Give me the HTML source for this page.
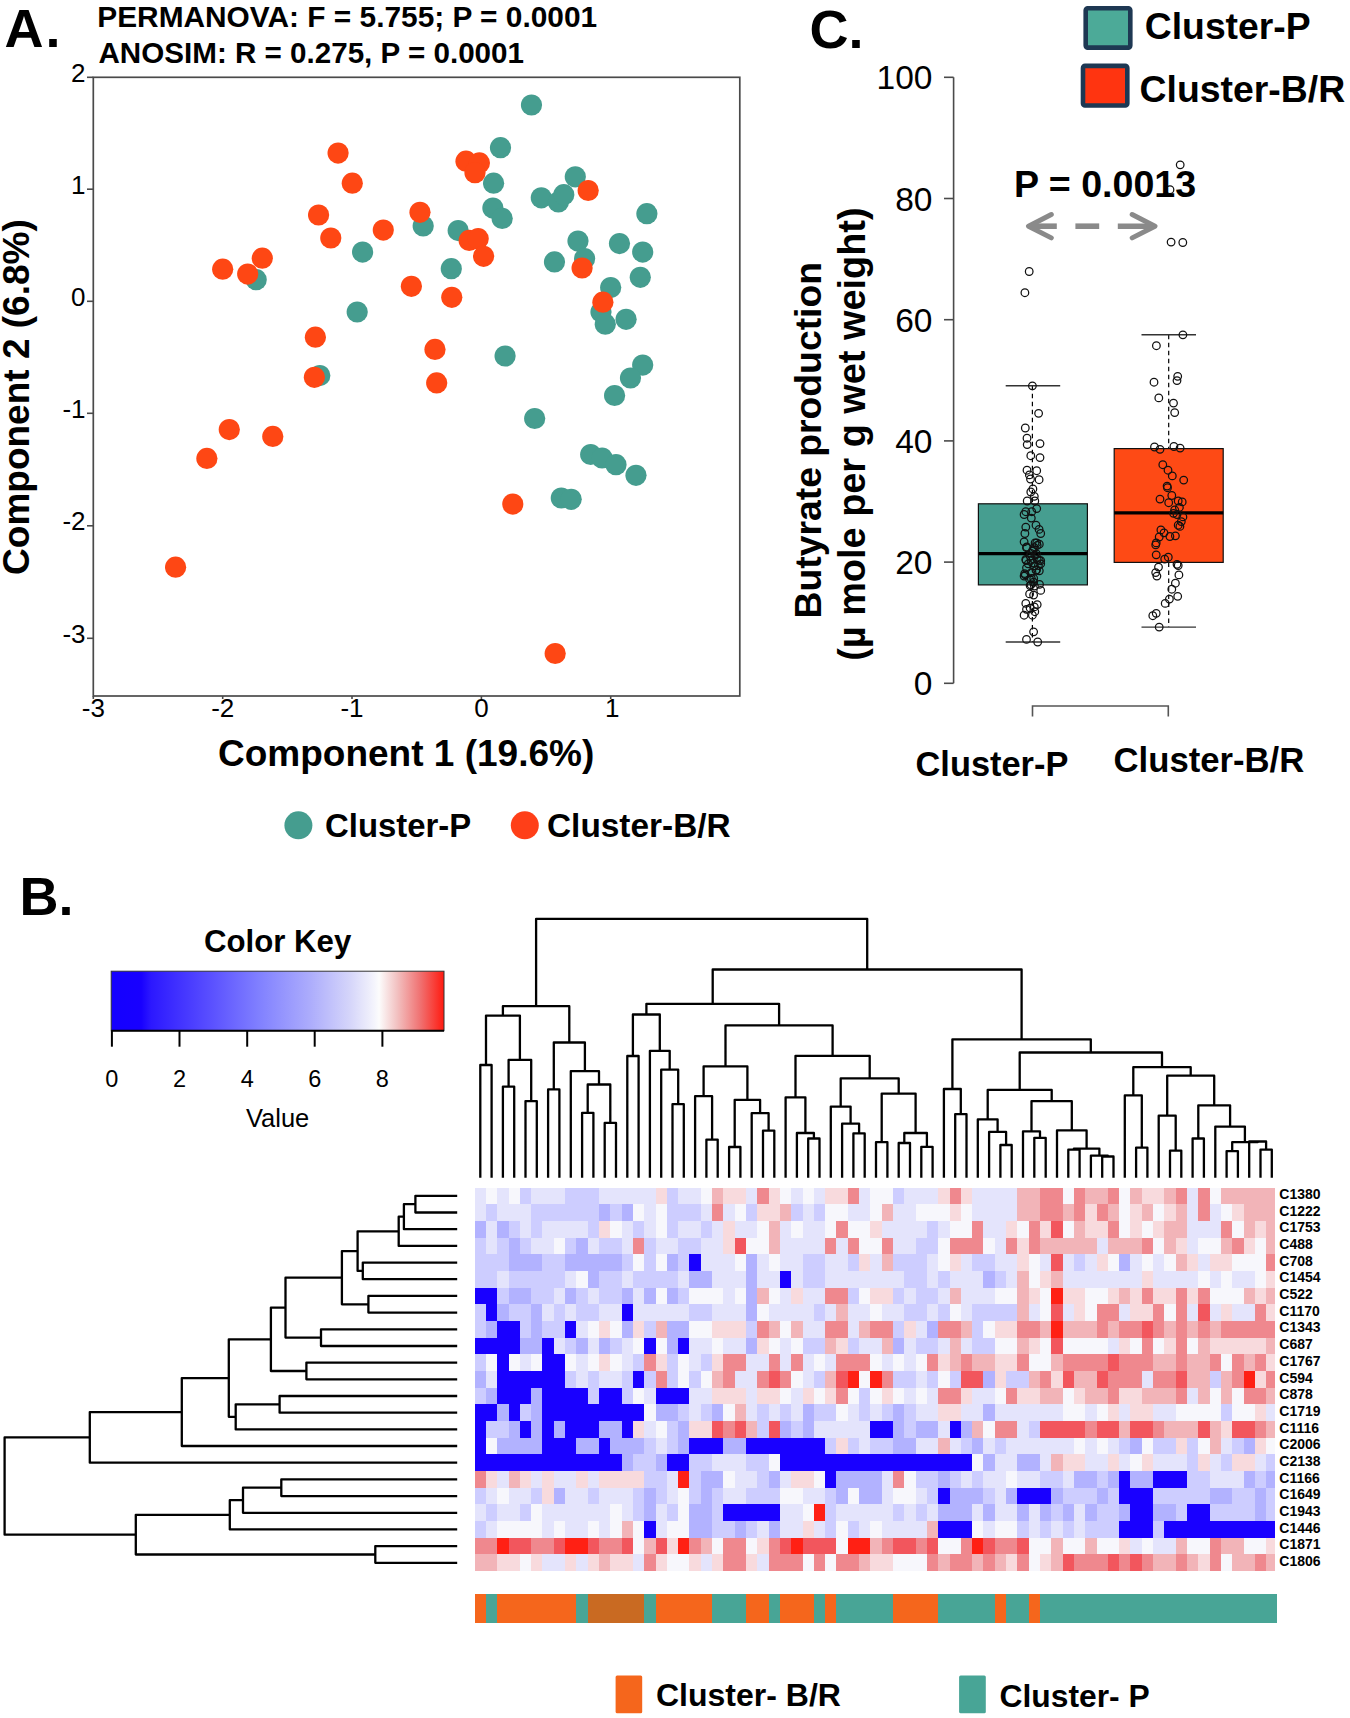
<!DOCTYPE html>
<html><head><meta charset="utf-8"><style>
html,body{margin:0;padding:0;background:#fff;}
svg{display:block;}
text{font-family:"Liberation Sans",sans-serif;}
</style></head><body>
<svg width="1350" height="1718" viewBox="0 0 1350 1718" font-family="Liberation Sans, sans-serif">
<rect width="1350" height="1718" fill="#fff"/>
<rect x="93.3" y="77.3" width="646.5" height="618.7" fill="none" stroke="#4a4a4a" stroke-width="1.7"/>
<line x1="87" y1="77.3" x2="93.3" y2="77.3" stroke="#4a4a4a" stroke-width="1.6"/>
<text x="85.5" y="81.7" font-size="26"  text-anchor="end" fill="#000" >2</text>
<line x1="87" y1="189.2" x2="93.3" y2="189.2" stroke="#4a4a4a" stroke-width="1.6"/>
<text x="85.5" y="193.6" font-size="26"  text-anchor="end" fill="#000" >1</text>
<line x1="87" y1="301.3" x2="93.3" y2="301.3" stroke="#4a4a4a" stroke-width="1.6"/>
<text x="85.5" y="305.7" font-size="26"  text-anchor="end" fill="#000" >0</text>
<line x1="87" y1="413.3" x2="93.3" y2="413.3" stroke="#4a4a4a" stroke-width="1.6"/>
<text x="85.5" y="417.7" font-size="26"  text-anchor="end" fill="#000" >-1</text>
<line x1="87" y1="525.8" x2="93.3" y2="525.8" stroke="#4a4a4a" stroke-width="1.6"/>
<text x="85.5" y="530.2" font-size="26"  text-anchor="end" fill="#000" >-2</text>
<line x1="87" y1="638.3" x2="93.3" y2="638.3" stroke="#4a4a4a" stroke-width="1.6"/>
<text x="85.5" y="642.7" font-size="26"  text-anchor="end" fill="#000" >-3</text>
<line x1="93.3" y1="696.0" x2="93.3" y2="699.0" stroke="#4a4a4a" stroke-width="1.6"/>
<text x="93.3" y="717.3" font-size="26"  text-anchor="middle" fill="#000" >-3</text>
<line x1="222.7" y1="696.0" x2="222.7" y2="699.0" stroke="#4a4a4a" stroke-width="1.6"/>
<text x="222.7" y="717.3" font-size="26"  text-anchor="middle" fill="#000" >-2</text>
<line x1="352.0" y1="696.0" x2="352.0" y2="699.0" stroke="#4a4a4a" stroke-width="1.6"/>
<text x="352.0" y="717.3" font-size="26"  text-anchor="middle" fill="#000" >-1</text>
<line x1="481.4" y1="696.0" x2="481.4" y2="699.0" stroke="#4a4a4a" stroke-width="1.6"/>
<text x="481.4" y="717.3" font-size="26"  text-anchor="middle" fill="#000" >0</text>
<line x1="610.7" y1="696.0" x2="610.7" y2="699.0" stroke="#4a4a4a" stroke-width="1.6"/>
<text x="612.2" y="717.3" font-size="26"  text-anchor="middle" fill="#000" >1</text>
<circle cx="256.2" cy="279.7" r="10.6" fill="#459d8f"/>
<circle cx="362.6" cy="252.1" r="10.6" fill="#459d8f"/>
<circle cx="357.2" cy="312.0" r="10.6" fill="#459d8f"/>
<circle cx="319.8" cy="375.6" r="10.6" fill="#459d8f"/>
<circle cx="423.2" cy="226.0" r="10.6" fill="#459d8f"/>
<circle cx="531.5" cy="105.0" r="10.6" fill="#459d8f"/>
<circle cx="500.5" cy="147.7" r="10.6" fill="#459d8f"/>
<circle cx="493.6" cy="183.2" r="10.6" fill="#459d8f"/>
<circle cx="492.9" cy="208.1" r="10.6" fill="#459d8f"/>
<circle cx="502.2" cy="218.4" r="10.6" fill="#459d8f"/>
<circle cx="541.3" cy="197.8" r="10.6" fill="#459d8f"/>
<circle cx="558.4" cy="202.0" r="10.6" fill="#459d8f"/>
<circle cx="563.8" cy="194.7" r="10.6" fill="#459d8f"/>
<circle cx="575.3" cy="176.8" r="10.6" fill="#459d8f"/>
<circle cx="646.9" cy="213.7" r="10.6" fill="#459d8f"/>
<circle cx="458.2" cy="230.6" r="10.6" fill="#459d8f"/>
<circle cx="451.3" cy="268.7" r="10.6" fill="#459d8f"/>
<circle cx="578.0" cy="241.1" r="10.6" fill="#459d8f"/>
<circle cx="584.6" cy="258.7" r="10.6" fill="#459d8f"/>
<circle cx="554.5" cy="261.9" r="10.6" fill="#459d8f"/>
<circle cx="619.5" cy="243.6" r="10.6" fill="#459d8f"/>
<circle cx="642.7" cy="252.1" r="10.6" fill="#459d8f"/>
<circle cx="640.3" cy="277.3" r="10.6" fill="#459d8f"/>
<circle cx="610.7" cy="287.6" r="10.6" fill="#459d8f"/>
<circle cx="601.0" cy="312.0" r="10.6" fill="#459d8f"/>
<circle cx="605.3" cy="324.2" r="10.6" fill="#459d8f"/>
<circle cx="626.1" cy="319.3" r="10.6" fill="#459d8f"/>
<circle cx="505.1" cy="356.0" r="10.6" fill="#459d8f"/>
<circle cx="642.7" cy="365.1" r="10.6" fill="#459d8f"/>
<circle cx="630.5" cy="378.0" r="10.6" fill="#459d8f"/>
<circle cx="614.6" cy="395.5" r="10.6" fill="#459d8f"/>
<circle cx="534.7" cy="418.5" r="10.6" fill="#459d8f"/>
<circle cx="590.7" cy="454.5" r="10.6" fill="#459d8f"/>
<circle cx="602.1" cy="458.0" r="10.6" fill="#459d8f"/>
<circle cx="616.0" cy="464.7" r="10.6" fill="#459d8f"/>
<circle cx="636.0" cy="475.3" r="10.6" fill="#459d8f"/>
<circle cx="561.3" cy="498.0" r="10.6" fill="#459d8f"/>
<circle cx="571.2" cy="499.3" r="10.6" fill="#459d8f"/>
<circle cx="338.1" cy="153.1" r="10.6" fill="#fe4714"/>
<circle cx="352.3" cy="183.2" r="10.6" fill="#fe4714"/>
<circle cx="318.6" cy="215.0" r="10.6" fill="#fe4714"/>
<circle cx="330.8" cy="238.0" r="10.6" fill="#fe4714"/>
<circle cx="383.3" cy="230.1" r="10.6" fill="#fe4714"/>
<circle cx="262.3" cy="258.2" r="10.6" fill="#fe4714"/>
<circle cx="222.7" cy="269.2" r="10.6" fill="#fe4714"/>
<circle cx="247.7" cy="274.1" r="10.6" fill="#fe4714"/>
<circle cx="315.4" cy="337.2" r="10.6" fill="#fe4714"/>
<circle cx="314.4" cy="377.3" r="10.6" fill="#fe4714"/>
<circle cx="411.4" cy="286.3" r="10.6" fill="#fe4714"/>
<circle cx="420.0" cy="212.3" r="10.6" fill="#fe4714"/>
<circle cx="466.0" cy="161.2" r="10.6" fill="#fe4714"/>
<circle cx="479.4" cy="162.9" r="10.6" fill="#fe4714"/>
<circle cx="475.0" cy="172.7" r="10.6" fill="#fe4714"/>
<circle cx="588.2" cy="190.5" r="10.6" fill="#fe4714"/>
<circle cx="469.2" cy="240.4" r="10.6" fill="#fe4714"/>
<circle cx="478.2" cy="238.7" r="10.6" fill="#fe4714"/>
<circle cx="483.6" cy="256.3" r="10.6" fill="#fe4714"/>
<circle cx="451.8" cy="297.3" r="10.6" fill="#fe4714"/>
<circle cx="582.1" cy="268.0" r="10.6" fill="#fe4714"/>
<circle cx="602.9" cy="302.2" r="10.6" fill="#fe4714"/>
<circle cx="435.0" cy="349.4" r="10.6" fill="#fe4714"/>
<circle cx="436.7" cy="382.9" r="10.6" fill="#fe4714"/>
<circle cx="229.3" cy="429.6" r="10.6" fill="#fe4714"/>
<circle cx="272.8" cy="436.4" r="10.6" fill="#fe4714"/>
<circle cx="206.9" cy="458.4" r="10.6" fill="#fe4714"/>
<circle cx="175.6" cy="567.2" r="10.6" fill="#fe4714"/>
<circle cx="512.8" cy="504.1" r="10.6" fill="#fe4714"/>
<circle cx="555.2" cy="653.5" r="10.6" fill="#fe4714"/>
<text x="4.6" y="47.3" font-size="54" font-weight="bold" text-anchor="start" fill="#000" letter-spacing="2">A.</text>
<text x="97.3" y="26.9" font-size="29.85" font-weight="bold" text-anchor="start" fill="#000" >PERMANOVA: F = 5.755; P = 0.0001</text>
<text x="98.5" y="62.6" font-size="29.6" font-weight="bold" text-anchor="start" fill="#000" >ANOSIM: R = 0.275, P = 0.0001</text>
<text x="218.0" y="765.6" font-size="37" font-weight="bold" text-anchor="start" fill="#000" >Component 1 (19.6%)</text>
<text transform="translate(29.2,397.1) rotate(-90)" font-size="37" font-weight="bold" text-anchor="middle">Component 2 (6.8%)</text>
<circle cx="298.4" cy="825.3" r="14" fill="#459d8f"/>
<text x="325.0" y="836.5" font-size="32.9" font-weight="bold" text-anchor="start" fill="#000" >Cluster-P</text>
<circle cx="524.8" cy="825.3" r="14" fill="#ff3f18"/>
<text x="547.0" y="836.5" font-size="33.4" font-weight="bold" text-anchor="start" fill="#000" >Cluster-B/R</text>
<text x="809.5" y="47.6" font-size="54" font-weight="bold" text-anchor="start" fill="#000" >C.</text>
<rect x="1085.7" y="8.3" width="44.6" height="39.3" rx="2" fill="#4caa98" stroke="#1e3853" stroke-width="4.6"/>
<rect x="1083.0" y="65.9" width="44.3" height="39.6" rx="2" fill="#ff3410" stroke="#1e3853" stroke-width="4.6"/>
<text x="1144.8" y="38.5" font-size="37.3" font-weight="bold" text-anchor="start" fill="#000" >Cluster-P</text>
<text x="1139.5" y="101.5" font-size="37.4" font-weight="bold" text-anchor="start" fill="#000" >Cluster-B/R</text>
<line x1="953.6" y1="77.29999999999995" x2="953.6" y2="683.3" stroke="#4a4a4a" stroke-width="1.6"/>
<line x1="944" y1="683.3" x2="953.6" y2="683.3" stroke="#4a4a4a" stroke-width="1.6"/>
<text x="932.5" y="695.3" font-size="33.5"  text-anchor="end" fill="#000" >0</text>
<line x1="944" y1="562.1" x2="953.6" y2="562.1" stroke="#4a4a4a" stroke-width="1.6"/>
<text x="932.5" y="574.1" font-size="33.5"  text-anchor="end" fill="#000" >20</text>
<line x1="944" y1="440.9" x2="953.6" y2="440.9" stroke="#4a4a4a" stroke-width="1.6"/>
<text x="932.5" y="452.9" font-size="33.5"  text-anchor="end" fill="#000" >40</text>
<line x1="944" y1="319.7" x2="953.6" y2="319.7" stroke="#4a4a4a" stroke-width="1.6"/>
<text x="932.5" y="331.7" font-size="33.5"  text-anchor="end" fill="#000" >60</text>
<line x1="944" y1="198.5" x2="953.6" y2="198.5" stroke="#4a4a4a" stroke-width="1.6"/>
<text x="932.5" y="210.5" font-size="33.5"  text-anchor="end" fill="#000" >80</text>
<line x1="944" y1="77.3" x2="953.6" y2="77.3" stroke="#4a4a4a" stroke-width="1.6"/>
<text x="932.5" y="89.3" font-size="33.5"  text-anchor="end" fill="#000" >100</text>
<text transform="translate(820.5,440.2) rotate(-90)" font-size="37.3" font-weight="bold" text-anchor="middle">Butyrate production</text>
<text transform="translate(865.2,434.1) rotate(-90)" font-size="37.9" font-weight="bold" text-anchor="middle">(µ mole per g wet weight)</text>
<line x1="1032.4" y1="385.8" x2="1032.4" y2="503.8" stroke="#000" stroke-width="1.2" stroke-dasharray="4.5,3.5"/>
<line x1="1032.4" y1="584.9" x2="1032.4" y2="642.0" stroke="#000" stroke-width="1.2" stroke-dasharray="4.5,3.5"/>
<line x1="1005.7" y1="385.8" x2="1060.2" y2="385.8" stroke="#333" stroke-width="1.4"/>
<line x1="1005.7" y1="642.0" x2="1060.2" y2="642.0" stroke="#333" stroke-width="1.4"/>
<rect x="978.4" y="503.8" width="109.0" height="81.1" fill="#469e90" stroke="#111" stroke-width="1.2"/>
<line x1="978.4" y1="553.6" x2="1087.4" y2="553.6" stroke="#000" stroke-width="3.2"/>
<line x1="1168.7" y1="334.8" x2="1168.7" y2="448.6" stroke="#000" stroke-width="1.2" stroke-dasharray="4.5,3.5"/>
<line x1="1168.7" y1="562.4" x2="1168.7" y2="627.1" stroke="#000" stroke-width="1.2" stroke-dasharray="4.5,3.5"/>
<line x1="1141.5" y1="334.8" x2="1196.0" y2="334.8" stroke="#333" stroke-width="1.4"/>
<line x1="1141.5" y1="627.1" x2="1196.0" y2="627.1" stroke="#333" stroke-width="1.4"/>
<rect x="1114.2" y="448.6" width="109.0" height="113.8" fill="#fe4a15" stroke="#111" stroke-width="1.2"/>
<line x1="1114.2" y1="512.8" x2="1223.2" y2="512.8" stroke="#000" stroke-width="3.2"/>
<circle cx="1032.4" cy="385.8" r="3.8" fill="none" stroke="#111" stroke-width="1.25"/>
<circle cx="1038.6" cy="413.3" r="3.8" fill="none" stroke="#111" stroke-width="1.25"/>
<circle cx="1025.3" cy="428.0" r="3.8" fill="none" stroke="#111" stroke-width="1.25"/>
<circle cx="1027.0" cy="438.2" r="3.8" fill="none" stroke="#111" stroke-width="1.25"/>
<circle cx="1027.2" cy="444.6" r="3.8" fill="none" stroke="#111" stroke-width="1.25"/>
<circle cx="1040.0" cy="443.6" r="3.8" fill="none" stroke="#111" stroke-width="1.25"/>
<circle cx="1030.8" cy="455.7" r="3.8" fill="none" stroke="#111" stroke-width="1.25"/>
<circle cx="1040.0" cy="457.6" r="3.8" fill="none" stroke="#111" stroke-width="1.25"/>
<circle cx="1027.0" cy="470.2" r="3.8" fill="none" stroke="#111" stroke-width="1.25"/>
<circle cx="1036.7" cy="470.7" r="3.8" fill="none" stroke="#111" stroke-width="1.25"/>
<circle cx="1029.4" cy="474.9" r="3.8" fill="none" stroke="#111" stroke-width="1.25"/>
<circle cx="1030.5" cy="479.0" r="3.8" fill="none" stroke="#111" stroke-width="1.25"/>
<circle cx="1039.1" cy="479.7" r="3.8" fill="none" stroke="#111" stroke-width="1.25"/>
<circle cx="1032.9" cy="488.9" r="3.8" fill="none" stroke="#111" stroke-width="1.25"/>
<circle cx="1030.8" cy="492.0" r="3.8" fill="none" stroke="#111" stroke-width="1.25"/>
<circle cx="1034.3" cy="496.3" r="3.8" fill="none" stroke="#111" stroke-width="1.25"/>
<circle cx="1027.2" cy="501.0" r="3.8" fill="none" stroke="#111" stroke-width="1.25"/>
<circle cx="1034.8" cy="501.0" r="3.8" fill="none" stroke="#111" stroke-width="1.25"/>
<circle cx="1036.7" cy="508.6" r="3.8" fill="none" stroke="#111" stroke-width="1.25"/>
<circle cx="1025.8" cy="511.7" r="3.8" fill="none" stroke="#111" stroke-width="1.25"/>
<circle cx="1024.1" cy="514.5" r="3.8" fill="none" stroke="#111" stroke-width="1.25"/>
<circle cx="1031.7" cy="511.7" r="3.8" fill="none" stroke="#111" stroke-width="1.25"/>
<circle cx="1031.3" cy="518.1" r="3.8" fill="none" stroke="#111" stroke-width="1.25"/>
<circle cx="1036.0" cy="525.2" r="3.8" fill="none" stroke="#111" stroke-width="1.25"/>
<circle cx="1039.1" cy="529.4" r="3.8" fill="none" stroke="#111" stroke-width="1.25"/>
<circle cx="1040.7" cy="533.5" r="3.8" fill="none" stroke="#111" stroke-width="1.25"/>
<circle cx="1025.8" cy="527.1" r="3.8" fill="none" stroke="#111" stroke-width="1.25"/>
<circle cx="1024.9" cy="533.5" r="3.8" fill="none" stroke="#111" stroke-width="1.25"/>
<circle cx="1024.1" cy="541.8" r="3.8" fill="none" stroke="#111" stroke-width="1.25"/>
<circle cx="1036.7" cy="542.9" r="3.8" fill="none" stroke="#111" stroke-width="1.25"/>
<circle cx="1037.2" cy="545.3" r="3.8" fill="none" stroke="#111" stroke-width="1.25"/>
<circle cx="1026.5" cy="547.7" r="3.8" fill="none" stroke="#111" stroke-width="1.25"/>
<circle cx="1034.3" cy="547.7" r="3.8" fill="none" stroke="#111" stroke-width="1.25"/>
<circle cx="1032.4" cy="551.2" r="3.8" fill="none" stroke="#111" stroke-width="1.25"/>
<circle cx="1034.8" cy="554.8" r="3.8" fill="none" stroke="#111" stroke-width="1.25"/>
<circle cx="1030.1" cy="556.0" r="3.8" fill="none" stroke="#111" stroke-width="1.25"/>
<circle cx="1025.8" cy="559.5" r="3.8" fill="none" stroke="#111" stroke-width="1.25"/>
<circle cx="1037.2" cy="559.5" r="3.8" fill="none" stroke="#111" stroke-width="1.25"/>
<circle cx="1040.7" cy="560.7" r="3.8" fill="none" stroke="#111" stroke-width="1.25"/>
<circle cx="1033.6" cy="563.1" r="3.8" fill="none" stroke="#111" stroke-width="1.25"/>
<circle cx="1038.4" cy="565.5" r="3.8" fill="none" stroke="#111" stroke-width="1.25"/>
<circle cx="1026.5" cy="567.8" r="3.8" fill="none" stroke="#111" stroke-width="1.25"/>
<circle cx="1036.0" cy="570.2" r="3.8" fill="none" stroke="#111" stroke-width="1.25"/>
<circle cx="1025.3" cy="574.9" r="3.8" fill="none" stroke="#111" stroke-width="1.25"/>
<circle cx="1024.1" cy="576.1" r="3.8" fill="none" stroke="#111" stroke-width="1.25"/>
<circle cx="1031.3" cy="578.5" r="3.8" fill="none" stroke="#111" stroke-width="1.25"/>
<circle cx="1033.6" cy="582.1" r="3.8" fill="none" stroke="#111" stroke-width="1.25"/>
<circle cx="1030.1" cy="585.6" r="3.8" fill="none" stroke="#111" stroke-width="1.25"/>
<circle cx="1039.5" cy="584.4" r="3.8" fill="none" stroke="#111" stroke-width="1.25"/>
<circle cx="1040.7" cy="590.4" r="3.8" fill="none" stroke="#111" stroke-width="1.25"/>
<circle cx="1029.6" cy="593.9" r="3.8" fill="none" stroke="#111" stroke-width="1.25"/>
<circle cx="1033.6" cy="595.1" r="3.8" fill="none" stroke="#111" stroke-width="1.25"/>
<circle cx="1025.8" cy="603.4" r="3.8" fill="none" stroke="#111" stroke-width="1.25"/>
<circle cx="1037.2" cy="604.6" r="3.8" fill="none" stroke="#111" stroke-width="1.25"/>
<circle cx="1034.3" cy="606.9" r="3.8" fill="none" stroke="#111" stroke-width="1.25"/>
<circle cx="1030.1" cy="608.1" r="3.8" fill="none" stroke="#111" stroke-width="1.25"/>
<circle cx="1026.5" cy="609.3" r="3.8" fill="none" stroke="#111" stroke-width="1.25"/>
<circle cx="1034.8" cy="611.7" r="3.8" fill="none" stroke="#111" stroke-width="1.25"/>
<circle cx="1024.1" cy="615.2" r="3.8" fill="none" stroke="#111" stroke-width="1.25"/>
<circle cx="1032.4" cy="615.2" r="3.8" fill="none" stroke="#111" stroke-width="1.25"/>
<circle cx="1033.6" cy="631.8" r="3.8" fill="none" stroke="#111" stroke-width="1.25"/>
<circle cx="1026.5" cy="639.4" r="3.8" fill="none" stroke="#111" stroke-width="1.25"/>
<circle cx="1037.7" cy="642.0" r="3.8" fill="none" stroke="#111" stroke-width="1.25"/>
<circle cx="1182.9" cy="334.8" r="3.8" fill="none" stroke="#111" stroke-width="1.25"/>
<circle cx="1156.4" cy="345.7" r="3.8" fill="none" stroke="#111" stroke-width="1.25"/>
<circle cx="1177.7" cy="376.3" r="3.8" fill="none" stroke="#111" stroke-width="1.25"/>
<circle cx="1177.0" cy="380.6" r="3.8" fill="none" stroke="#111" stroke-width="1.25"/>
<circle cx="1154.0" cy="382.2" r="3.8" fill="none" stroke="#111" stroke-width="1.25"/>
<circle cx="1158.8" cy="397.9" r="3.8" fill="none" stroke="#111" stroke-width="1.25"/>
<circle cx="1173.5" cy="403.1" r="3.8" fill="none" stroke="#111" stroke-width="1.25"/>
<circle cx="1174.7" cy="412.6" r="3.8" fill="none" stroke="#111" stroke-width="1.25"/>
<circle cx="1154.5" cy="447.0" r="3.8" fill="none" stroke="#111" stroke-width="1.25"/>
<circle cx="1160.0" cy="449.3" r="3.8" fill="none" stroke="#111" stroke-width="1.25"/>
<circle cx="1173.9" cy="446.5" r="3.8" fill="none" stroke="#111" stroke-width="1.25"/>
<circle cx="1180.1" cy="448.1" r="3.8" fill="none" stroke="#111" stroke-width="1.25"/>
<circle cx="1162.8" cy="464.7" r="3.8" fill="none" stroke="#111" stroke-width="1.25"/>
<circle cx="1168.0" cy="470.2" r="3.8" fill="none" stroke="#111" stroke-width="1.25"/>
<circle cx="1172.3" cy="475.9" r="3.8" fill="none" stroke="#111" stroke-width="1.25"/>
<circle cx="1183.7" cy="480.1" r="3.8" fill="none" stroke="#111" stroke-width="1.25"/>
<circle cx="1167.1" cy="486.1" r="3.8" fill="none" stroke="#111" stroke-width="1.25"/>
<circle cx="1167.5" cy="487.7" r="3.8" fill="none" stroke="#111" stroke-width="1.25"/>
<circle cx="1171.8" cy="495.5" r="3.8" fill="none" stroke="#111" stroke-width="1.25"/>
<circle cx="1160.0" cy="499.1" r="3.8" fill="none" stroke="#111" stroke-width="1.25"/>
<circle cx="1168.7" cy="502.7" r="3.8" fill="none" stroke="#111" stroke-width="1.25"/>
<circle cx="1178.2" cy="501.0" r="3.8" fill="none" stroke="#111" stroke-width="1.25"/>
<circle cx="1182.2" cy="501.9" r="3.8" fill="none" stroke="#111" stroke-width="1.25"/>
<circle cx="1179.4" cy="507.4" r="3.8" fill="none" stroke="#111" stroke-width="1.25"/>
<circle cx="1174.7" cy="509.8" r="3.8" fill="none" stroke="#111" stroke-width="1.25"/>
<circle cx="1173.5" cy="513.3" r="3.8" fill="none" stroke="#111" stroke-width="1.25"/>
<circle cx="1177.0" cy="514.5" r="3.8" fill="none" stroke="#111" stroke-width="1.25"/>
<circle cx="1182.9" cy="516.9" r="3.8" fill="none" stroke="#111" stroke-width="1.25"/>
<circle cx="1181.3" cy="521.6" r="3.8" fill="none" stroke="#111" stroke-width="1.25"/>
<circle cx="1178.2" cy="525.2" r="3.8" fill="none" stroke="#111" stroke-width="1.25"/>
<circle cx="1179.9" cy="526.4" r="3.8" fill="none" stroke="#111" stroke-width="1.25"/>
<circle cx="1160.9" cy="529.9" r="3.8" fill="none" stroke="#111" stroke-width="1.25"/>
<circle cx="1164.0" cy="532.8" r="3.8" fill="none" stroke="#111" stroke-width="1.25"/>
<circle cx="1169.9" cy="536.5" r="3.8" fill="none" stroke="#111" stroke-width="1.25"/>
<circle cx="1175.4" cy="535.8" r="3.8" fill="none" stroke="#111" stroke-width="1.25"/>
<circle cx="1159.2" cy="537.0" r="3.8" fill="none" stroke="#111" stroke-width="1.25"/>
<circle cx="1156.2" cy="542.9" r="3.8" fill="none" stroke="#111" stroke-width="1.25"/>
<circle cx="1155.7" cy="544.8" r="3.8" fill="none" stroke="#111" stroke-width="1.25"/>
<circle cx="1156.2" cy="554.8" r="3.8" fill="none" stroke="#111" stroke-width="1.25"/>
<circle cx="1164.7" cy="559.1" r="3.8" fill="none" stroke="#111" stroke-width="1.25"/>
<circle cx="1168.3" cy="557.2" r="3.8" fill="none" stroke="#111" stroke-width="1.25"/>
<circle cx="1177.0" cy="564.3" r="3.8" fill="none" stroke="#111" stroke-width="1.25"/>
<circle cx="1178.2" cy="565.5" r="3.8" fill="none" stroke="#111" stroke-width="1.25"/>
<circle cx="1158.5" cy="567.1" r="3.8" fill="none" stroke="#111" stroke-width="1.25"/>
<circle cx="1155.7" cy="572.6" r="3.8" fill="none" stroke="#111" stroke-width="1.25"/>
<circle cx="1156.9" cy="576.1" r="3.8" fill="none" stroke="#111" stroke-width="1.25"/>
<circle cx="1178.9" cy="574.9" r="3.8" fill="none" stroke="#111" stroke-width="1.25"/>
<circle cx="1175.4" cy="583.2" r="3.8" fill="none" stroke="#111" stroke-width="1.25"/>
<circle cx="1171.8" cy="589.2" r="3.8" fill="none" stroke="#111" stroke-width="1.25"/>
<circle cx="1177.7" cy="596.3" r="3.8" fill="none" stroke="#111" stroke-width="1.25"/>
<circle cx="1169.4" cy="599.1" r="3.8" fill="none" stroke="#111" stroke-width="1.25"/>
<circle cx="1165.2" cy="603.4" r="3.8" fill="none" stroke="#111" stroke-width="1.25"/>
<circle cx="1156.2" cy="613.3" r="3.8" fill="none" stroke="#111" stroke-width="1.25"/>
<circle cx="1152.8" cy="615.7" r="3.8" fill="none" stroke="#111" stroke-width="1.25"/>
<circle cx="1159.2" cy="627.1" r="3.8" fill="none" stroke="#111" stroke-width="1.25"/>
<circle cx="1026.1" cy="560.3" r="3.8" fill="none" stroke="#111" stroke-width="1.25"/>
<circle cx="1031.0" cy="560.3" r="3.8" fill="none" stroke="#111" stroke-width="1.25"/>
<circle cx="1039.3" cy="560.3" r="3.8" fill="none" stroke="#111" stroke-width="1.25"/>
<circle cx="1040.7" cy="563.8" r="3.8" fill="none" stroke="#111" stroke-width="1.25"/>
<circle cx="1034.4" cy="565.9" r="3.8" fill="none" stroke="#111" stroke-width="1.25"/>
<circle cx="1028.2" cy="563.8" r="3.8" fill="none" stroke="#111" stroke-width="1.25"/>
<circle cx="1024.7" cy="573.6" r="3.8" fill="none" stroke="#111" stroke-width="1.25"/>
<circle cx="1031.0" cy="572.9" r="3.8" fill="none" stroke="#111" stroke-width="1.25"/>
<circle cx="1036.5" cy="570.1" r="3.8" fill="none" stroke="#111" stroke-width="1.25"/>
<circle cx="1039.3" cy="570.8" r="3.8" fill="none" stroke="#111" stroke-width="1.25"/>
<circle cx="1029.6" cy="579.2" r="3.8" fill="none" stroke="#111" stroke-width="1.25"/>
<circle cx="1033.7" cy="578.5" r="3.8" fill="none" stroke="#111" stroke-width="1.25"/>
<circle cx="1031.0" cy="584.7" r="3.8" fill="none" stroke="#111" stroke-width="1.25"/>
<circle cx="1034.4" cy="586.1" r="3.8" fill="none" stroke="#111" stroke-width="1.25"/>
<circle cx="1026.8" cy="547.0" r="3.8" fill="none" stroke="#111" stroke-width="1.25"/>
<circle cx="1035.1" cy="542.8" r="3.8" fill="none" stroke="#111" stroke-width="1.25"/>
<circle cx="1039.3" cy="544.2" r="3.8" fill="none" stroke="#111" stroke-width="1.25"/>
<circle cx="1033.0" cy="549.8" r="3.8" fill="none" stroke="#111" stroke-width="1.25"/>
<circle cx="1031.0" cy="553.3" r="3.8" fill="none" stroke="#111" stroke-width="1.25"/>
<circle cx="1036.5" cy="554.0" r="3.8" fill="none" stroke="#111" stroke-width="1.25"/>
<circle cx="1029.2" cy="271.5" r="3.8" fill="none" stroke="#111" stroke-width="1.25"/>
<circle cx="1024.9" cy="292.7" r="3.8" fill="none" stroke="#111" stroke-width="1.25"/>
<circle cx="1180.2" cy="164.8" r="3.8" fill="none" stroke="#111" stroke-width="1.25"/>
<circle cx="1170.0" cy="189.7" r="3.8" fill="none" stroke="#111" stroke-width="1.25"/>
<circle cx="1171.1" cy="242.1" r="3.8" fill="none" stroke="#111" stroke-width="1.25"/>
<circle cx="1182.8" cy="242.5" r="3.8" fill="none" stroke="#111" stroke-width="1.25"/>
<text x="1014.0" y="196.7" font-size="37.6" font-weight="bold" text-anchor="start" fill="#000" >P = 0.0013</text>
<path d="M1051.3,214.5 L1028.5,226.2 L1051.3,237.9" fill="none" stroke="#8a8a8a" stroke-width="5" stroke-linecap="round" stroke-linejoin="round"/>
<path d="M1132.2,214.5 L1155,226.2 L1132.2,237.9" fill="none" stroke="#8a8a8a" stroke-width="5" stroke-linecap="round" stroke-linejoin="round"/>
<line x1="1030" y1="226.2" x2="1056.8" y2="226.2" stroke="#8a8a8a" stroke-width="5.6"/>
<line x1="1075.4" y1="226.2" x2="1099.2" y2="226.2" stroke="#8a8a8a" stroke-width="5.6"/>
<line x1="1117.8" y1="226.2" x2="1150" y2="226.2" stroke="#8a8a8a" stroke-width="5.6"/>
<path d="M1032.5,716.4 L1032.5,706 L1168.3,706 L1168.3,716.4" fill="none" stroke="#555" stroke-width="1.6"/>
<text x="915.5" y="775.6" font-size="34.4" font-weight="bold" text-anchor="start" fill="#000" >Cluster-P</text>
<text x="1113.5" y="772.1" font-size="34.7" font-weight="bold" text-anchor="start" fill="#000" >Cluster-B/R</text>
<text x="19.4" y="914.8" font-size="54" font-weight="bold" text-anchor="start" fill="#000" >B.</text>
<text x="204.0" y="951.7" font-size="31.2" font-weight="bold" text-anchor="start" fill="#000" >Color Key</text>
<defs><linearGradient id="ck" x1="0" x2="1" y1="0" y2="0"><stop offset="0" stop-color="#1400ff"/><stop offset="0.09" stop-color="#1800ff"/><stop offset="0.12" stop-color="#2c18ff"/><stop offset="0.30" stop-color="#5a50ff"/><stop offset="0.45" stop-color="#8282ff"/><stop offset="0.60" stop-color="#adadfc"/><stop offset="0.72" stop-color="#d6d6fa"/><stop offset="0.79" stop-color="#f4f4fc"/><stop offset="0.805" stop-color="#fcfcfc"/><stop offset="0.86" stop-color="#f2c0c0"/><stop offset="0.93" stop-color="#f07070"/><stop offset="1" stop-color="#ff1a10"/></linearGradient></defs>
<rect x="111.2" y="971.2" width="332.8" height="59.5" fill="url(#ck)" stroke="#333" stroke-width="1"/>
<line x1="111.2" y1="1030.7" x2="444" y2="1030.7" stroke="#000" stroke-width="2"/>
<line x1="111.9" y1="1030.7" x2="111.9" y2="1046.7" stroke="#000" stroke-width="2"/>
<text x="111.9" y="1086.5" font-size="23.5"  text-anchor="middle" fill="#000" >0</text>
<line x1="179.5" y1="1030.7" x2="179.5" y2="1046.7" stroke="#000" stroke-width="2"/>
<text x="179.5" y="1086.5" font-size="23.5"  text-anchor="middle" fill="#000" >2</text>
<line x1="247.2" y1="1030.7" x2="247.2" y2="1046.7" stroke="#000" stroke-width="2"/>
<text x="247.2" y="1086.5" font-size="23.5"  text-anchor="middle" fill="#000" >4</text>
<line x1="314.7" y1="1030.7" x2="314.7" y2="1046.7" stroke="#000" stroke-width="2"/>
<text x="314.7" y="1086.5" font-size="23.5"  text-anchor="middle" fill="#000" >6</text>
<line x1="382.4" y1="1030.7" x2="382.4" y2="1046.7" stroke="#000" stroke-width="2"/>
<text x="382.4" y="1086.5" font-size="23.5"  text-anchor="middle" fill="#000" >8</text>
<text x="277.6" y="1127.4" font-size="25.5"  text-anchor="middle" fill="#000" >Value</text>
<g shape-rendering="crispEdges">
<rect x="474.65" y="1187.50" width="11.66" height="17.03" fill="#e4e4fc"/>
<rect x="485.96" y="1187.50" width="11.66" height="17.03" fill="#f7f7fc"/>
<rect x="497.26" y="1187.50" width="11.66" height="17.03" fill="#e4e4fc"/>
<rect x="508.57" y="1187.50" width="11.66" height="17.03" fill="#f7f7fc"/>
<rect x="519.88" y="1187.50" width="11.66" height="17.03" fill="#cdcdff"/>
<rect x="531.18" y="1187.50" width="11.66" height="17.03" fill="#e4e4fc"/>
<rect x="542.49" y="1187.50" width="11.66" height="17.03" fill="#e4e4fc"/>
<rect x="553.80" y="1187.50" width="11.66" height="17.03" fill="#e4e4fc"/>
<rect x="565.11" y="1187.50" width="11.66" height="17.03" fill="#cdcdff"/>
<rect x="576.41" y="1187.50" width="11.66" height="17.03" fill="#cdcdff"/>
<rect x="587.72" y="1187.50" width="11.66" height="17.03" fill="#cdcdff"/>
<rect x="599.03" y="1187.50" width="11.66" height="17.03" fill="#e4e4fc"/>
<rect x="610.33" y="1187.50" width="11.66" height="17.03" fill="#e4e4fc"/>
<rect x="621.64" y="1187.50" width="11.66" height="17.03" fill="#e4e4fc"/>
<rect x="632.95" y="1187.50" width="11.66" height="17.03" fill="#e4e4fc"/>
<rect x="644.25" y="1187.50" width="11.66" height="17.03" fill="#e4e4fc"/>
<rect x="655.56" y="1187.50" width="11.66" height="17.03" fill="#f8dadd"/>
<rect x="666.87" y="1187.50" width="11.66" height="17.03" fill="#cdcdff"/>
<rect x="678.18" y="1187.50" width="11.66" height="17.03" fill="#e4e4fc"/>
<rect x="689.48" y="1187.50" width="11.66" height="17.03" fill="#e4e4fc"/>
<rect x="700.79" y="1187.50" width="11.66" height="17.03" fill="#f7f7fc"/>
<rect x="712.10" y="1187.50" width="11.66" height="17.03" fill="#f2b4b8"/>
<rect x="723.40" y="1187.50" width="11.66" height="17.03" fill="#f8dadd"/>
<rect x="734.71" y="1187.50" width="11.66" height="17.03" fill="#f8dadd"/>
<rect x="746.02" y="1187.50" width="11.66" height="17.03" fill="#e4e4fc"/>
<rect x="757.33" y="1187.50" width="11.66" height="17.03" fill="#ef888e"/>
<rect x="768.63" y="1187.50" width="11.66" height="17.03" fill="#f8dadd"/>
<rect x="779.94" y="1187.50" width="11.66" height="17.03" fill="#f7f7fc"/>
<rect x="791.25" y="1187.50" width="11.66" height="17.03" fill="#e4e4fc"/>
<rect x="802.55" y="1187.50" width="11.66" height="17.03" fill="#f7f7fc"/>
<rect x="813.86" y="1187.50" width="11.66" height="17.03" fill="#e4e4fc"/>
<rect x="825.17" y="1187.50" width="11.66" height="17.03" fill="#f8dadd"/>
<rect x="836.47" y="1187.50" width="11.66" height="17.03" fill="#f8dadd"/>
<rect x="847.78" y="1187.50" width="11.66" height="17.03" fill="#ef888e"/>
<rect x="859.09" y="1187.50" width="11.66" height="17.03" fill="#e4e4fc"/>
<rect x="870.39" y="1187.50" width="11.66" height="17.03" fill="#f7f7fc"/>
<rect x="881.70" y="1187.50" width="11.66" height="17.03" fill="#f7f7fc"/>
<rect x="893.01" y="1187.50" width="11.66" height="17.03" fill="#cdcdff"/>
<rect x="904.32" y="1187.50" width="11.66" height="17.03" fill="#e4e4fc"/>
<rect x="915.62" y="1187.50" width="11.66" height="17.03" fill="#e4e4fc"/>
<rect x="926.93" y="1187.50" width="11.66" height="17.03" fill="#e4e4fc"/>
<rect x="938.24" y="1187.50" width="11.66" height="17.03" fill="#f8dadd"/>
<rect x="949.54" y="1187.50" width="11.66" height="17.03" fill="#ef888e"/>
<rect x="960.85" y="1187.50" width="11.66" height="17.03" fill="#f8dadd"/>
<rect x="972.16" y="1187.50" width="11.66" height="17.03" fill="#e4e4fc"/>
<rect x="983.46" y="1187.50" width="11.66" height="17.03" fill="#e4e4fc"/>
<rect x="994.77" y="1187.50" width="11.66" height="17.03" fill="#e4e4fc"/>
<rect x="1006.08" y="1187.50" width="11.66" height="17.03" fill="#e4e4fc"/>
<rect x="1017.39" y="1187.50" width="11.66" height="17.03" fill="#f2b4b8"/>
<rect x="1028.69" y="1187.50" width="11.66" height="17.03" fill="#f2b4b8"/>
<rect x="1040.00" y="1187.50" width="11.66" height="17.03" fill="#ef888e"/>
<rect x="1051.31" y="1187.50" width="11.66" height="17.03" fill="#ef888e"/>
<rect x="1062.61" y="1187.50" width="11.66" height="17.03" fill="#f7f7fc"/>
<rect x="1073.92" y="1187.50" width="11.66" height="17.03" fill="#ef888e"/>
<rect x="1085.23" y="1187.50" width="11.66" height="17.03" fill="#f2b4b8"/>
<rect x="1096.53" y="1187.50" width="11.66" height="17.03" fill="#f2b4b8"/>
<rect x="1107.84" y="1187.50" width="11.66" height="17.03" fill="#ef888e"/>
<rect x="1119.15" y="1187.50" width="11.66" height="17.03" fill="#f7f7fc"/>
<rect x="1130.46" y="1187.50" width="11.66" height="17.03" fill="#f2b4b8"/>
<rect x="1141.76" y="1187.50" width="11.66" height="17.03" fill="#f8dadd"/>
<rect x="1153.07" y="1187.50" width="11.66" height="17.03" fill="#f8dadd"/>
<rect x="1164.38" y="1187.50" width="11.66" height="17.03" fill="#f2b4b8"/>
<rect x="1175.68" y="1187.50" width="11.66" height="17.03" fill="#ef888e"/>
<rect x="1186.99" y="1187.50" width="11.66" height="17.03" fill="#e4e4fc"/>
<rect x="1198.30" y="1187.50" width="11.66" height="17.03" fill="#ef888e"/>
<rect x="1209.61" y="1187.50" width="11.66" height="17.03" fill="#f7f7fc"/>
<rect x="1220.91" y="1187.50" width="11.66" height="17.03" fill="#f2b4b8"/>
<rect x="1232.22" y="1187.50" width="11.66" height="17.03" fill="#f2b4b8"/>
<rect x="1243.53" y="1187.50" width="11.66" height="17.03" fill="#f2b4b8"/>
<rect x="1254.83" y="1187.50" width="11.66" height="17.03" fill="#f2b4b8"/>
<rect x="1266.14" y="1187.50" width="8.51" height="17.03" fill="#f2b4b8"/>
<rect x="474.65" y="1204.18" width="11.66" height="17.03" fill="#e4e4fc"/>
<rect x="485.96" y="1204.18" width="11.66" height="17.03" fill="#cdcdff"/>
<rect x="497.26" y="1204.18" width="11.66" height="17.03" fill="#e4e4fc"/>
<rect x="508.57" y="1204.18" width="11.66" height="17.03" fill="#e4e4fc"/>
<rect x="519.88" y="1204.18" width="11.66" height="17.03" fill="#e4e4fc"/>
<rect x="531.18" y="1204.18" width="11.66" height="17.03" fill="#cdcdff"/>
<rect x="542.49" y="1204.18" width="11.66" height="17.03" fill="#cdcdff"/>
<rect x="553.80" y="1204.18" width="11.66" height="17.03" fill="#cdcdff"/>
<rect x="565.11" y="1204.18" width="11.66" height="17.03" fill="#cdcdff"/>
<rect x="576.41" y="1204.18" width="11.66" height="17.03" fill="#cdcdff"/>
<rect x="587.72" y="1204.18" width="11.66" height="17.03" fill="#cdcdff"/>
<rect x="599.03" y="1204.18" width="11.66" height="17.03" fill="#b2b2ff"/>
<rect x="610.33" y="1204.18" width="11.66" height="17.03" fill="#cdcdff"/>
<rect x="621.64" y="1204.18" width="11.66" height="17.03" fill="#b2b2ff"/>
<rect x="632.95" y="1204.18" width="11.66" height="17.03" fill="#f7f7fc"/>
<rect x="644.25" y="1204.18" width="11.66" height="17.03" fill="#e4e4fc"/>
<rect x="655.56" y="1204.18" width="11.66" height="17.03" fill="#f7f7fc"/>
<rect x="666.87" y="1204.18" width="11.66" height="17.03" fill="#cdcdff"/>
<rect x="678.18" y="1204.18" width="11.66" height="17.03" fill="#cdcdff"/>
<rect x="689.48" y="1204.18" width="11.66" height="17.03" fill="#cdcdff"/>
<rect x="700.79" y="1204.18" width="11.66" height="17.03" fill="#e4e4fc"/>
<rect x="712.10" y="1204.18" width="11.66" height="17.03" fill="#ef888e"/>
<rect x="723.40" y="1204.18" width="11.66" height="17.03" fill="#e4e4fc"/>
<rect x="734.71" y="1204.18" width="11.66" height="17.03" fill="#f7f7fc"/>
<rect x="746.02" y="1204.18" width="11.66" height="17.03" fill="#cdcdff"/>
<rect x="757.33" y="1204.18" width="11.66" height="17.03" fill="#f8dadd"/>
<rect x="768.63" y="1204.18" width="11.66" height="17.03" fill="#f8dadd"/>
<rect x="779.94" y="1204.18" width="11.66" height="17.03" fill="#f2b4b8"/>
<rect x="791.25" y="1204.18" width="11.66" height="17.03" fill="#cdcdff"/>
<rect x="802.55" y="1204.18" width="11.66" height="17.03" fill="#e4e4fc"/>
<rect x="813.86" y="1204.18" width="11.66" height="17.03" fill="#cdcdff"/>
<rect x="825.17" y="1204.18" width="11.66" height="17.03" fill="#f7f7fc"/>
<rect x="836.47" y="1204.18" width="11.66" height="17.03" fill="#f7f7fc"/>
<rect x="847.78" y="1204.18" width="11.66" height="17.03" fill="#e4e4fc"/>
<rect x="859.09" y="1204.18" width="11.66" height="17.03" fill="#e4e4fc"/>
<rect x="870.39" y="1204.18" width="11.66" height="17.03" fill="#f7f7fc"/>
<rect x="881.70" y="1204.18" width="11.66" height="17.03" fill="#f2b4b8"/>
<rect x="893.01" y="1204.18" width="11.66" height="17.03" fill="#e4e4fc"/>
<rect x="904.32" y="1204.18" width="11.66" height="17.03" fill="#e4e4fc"/>
<rect x="915.62" y="1204.18" width="11.66" height="17.03" fill="#f7f7fc"/>
<rect x="926.93" y="1204.18" width="11.66" height="17.03" fill="#f7f7fc"/>
<rect x="938.24" y="1204.18" width="11.66" height="17.03" fill="#f7f7fc"/>
<rect x="949.54" y="1204.18" width="11.66" height="17.03" fill="#f8dadd"/>
<rect x="960.85" y="1204.18" width="11.66" height="17.03" fill="#f7f7fc"/>
<rect x="972.16" y="1204.18" width="11.66" height="17.03" fill="#e4e4fc"/>
<rect x="983.46" y="1204.18" width="11.66" height="17.03" fill="#e4e4fc"/>
<rect x="994.77" y="1204.18" width="11.66" height="17.03" fill="#e4e4fc"/>
<rect x="1006.08" y="1204.18" width="11.66" height="17.03" fill="#e4e4fc"/>
<rect x="1017.39" y="1204.18" width="11.66" height="17.03" fill="#f2b4b8"/>
<rect x="1028.69" y="1204.18" width="11.66" height="17.03" fill="#f2b4b8"/>
<rect x="1040.00" y="1204.18" width="11.66" height="17.03" fill="#ef888e"/>
<rect x="1051.31" y="1204.18" width="11.66" height="17.03" fill="#ef888e"/>
<rect x="1062.61" y="1204.18" width="11.66" height="17.03" fill="#f2b4b8"/>
<rect x="1073.92" y="1204.18" width="11.66" height="17.03" fill="#ef888e"/>
<rect x="1085.23" y="1204.18" width="11.66" height="17.03" fill="#f8dadd"/>
<rect x="1096.53" y="1204.18" width="11.66" height="17.03" fill="#ef888e"/>
<rect x="1107.84" y="1204.18" width="11.66" height="17.03" fill="#f2b4b8"/>
<rect x="1119.15" y="1204.18" width="11.66" height="17.03" fill="#f7f7fc"/>
<rect x="1130.46" y="1204.18" width="11.66" height="17.03" fill="#f8dadd"/>
<rect x="1141.76" y="1204.18" width="11.66" height="17.03" fill="#f2b4b8"/>
<rect x="1153.07" y="1204.18" width="11.66" height="17.03" fill="#f7f7fc"/>
<rect x="1164.38" y="1204.18" width="11.66" height="17.03" fill="#f8dadd"/>
<rect x="1175.68" y="1204.18" width="11.66" height="17.03" fill="#f2b4b8"/>
<rect x="1186.99" y="1204.18" width="11.66" height="17.03" fill="#e4e4fc"/>
<rect x="1198.30" y="1204.18" width="11.66" height="17.03" fill="#ef888e"/>
<rect x="1209.61" y="1204.18" width="11.66" height="17.03" fill="#e4e4fc"/>
<rect x="1220.91" y="1204.18" width="11.66" height="17.03" fill="#f7f7fc"/>
<rect x="1232.22" y="1204.18" width="11.66" height="17.03" fill="#f8dadd"/>
<rect x="1243.53" y="1204.18" width="11.66" height="17.03" fill="#f2b4b8"/>
<rect x="1254.83" y="1204.18" width="11.66" height="17.03" fill="#f2b4b8"/>
<rect x="1266.14" y="1204.18" width="8.51" height="17.03" fill="#f2b4b8"/>
<rect x="474.65" y="1220.86" width="11.66" height="17.03" fill="#b2b2ff"/>
<rect x="485.96" y="1220.86" width="11.66" height="17.03" fill="#e4e4fc"/>
<rect x="497.26" y="1220.86" width="11.66" height="17.03" fill="#b2b2ff"/>
<rect x="508.57" y="1220.86" width="11.66" height="17.03" fill="#cdcdff"/>
<rect x="519.88" y="1220.86" width="11.66" height="17.03" fill="#e4e4fc"/>
<rect x="531.18" y="1220.86" width="11.66" height="17.03" fill="#cdcdff"/>
<rect x="542.49" y="1220.86" width="11.66" height="17.03" fill="#e4e4fc"/>
<rect x="553.80" y="1220.86" width="11.66" height="17.03" fill="#e4e4fc"/>
<rect x="565.11" y="1220.86" width="11.66" height="17.03" fill="#e4e4fc"/>
<rect x="576.41" y="1220.86" width="11.66" height="17.03" fill="#e4e4fc"/>
<rect x="587.72" y="1220.86" width="11.66" height="17.03" fill="#cdcdff"/>
<rect x="599.03" y="1220.86" width="11.66" height="17.03" fill="#f8dadd"/>
<rect x="610.33" y="1220.86" width="11.66" height="17.03" fill="#f7f7fc"/>
<rect x="621.64" y="1220.86" width="11.66" height="17.03" fill="#e4e4fc"/>
<rect x="632.95" y="1220.86" width="11.66" height="17.03" fill="#cdcdff"/>
<rect x="644.25" y="1220.86" width="11.66" height="17.03" fill="#e4e4fc"/>
<rect x="655.56" y="1220.86" width="11.66" height="17.03" fill="#f7f7fc"/>
<rect x="666.87" y="1220.86" width="11.66" height="17.03" fill="#cdcdff"/>
<rect x="678.18" y="1220.86" width="11.66" height="17.03" fill="#e4e4fc"/>
<rect x="689.48" y="1220.86" width="11.66" height="17.03" fill="#e4e4fc"/>
<rect x="700.79" y="1220.86" width="11.66" height="17.03" fill="#cdcdff"/>
<rect x="712.10" y="1220.86" width="11.66" height="17.03" fill="#e4e4fc"/>
<rect x="723.40" y="1220.86" width="11.66" height="17.03" fill="#f8dadd"/>
<rect x="734.71" y="1220.86" width="11.66" height="17.03" fill="#e4e4fc"/>
<rect x="746.02" y="1220.86" width="11.66" height="17.03" fill="#e4e4fc"/>
<rect x="757.33" y="1220.86" width="11.66" height="17.03" fill="#f7f7fc"/>
<rect x="768.63" y="1220.86" width="11.66" height="17.03" fill="#f2b4b8"/>
<rect x="779.94" y="1220.86" width="11.66" height="17.03" fill="#e4e4fc"/>
<rect x="791.25" y="1220.86" width="11.66" height="17.03" fill="#f7f7fc"/>
<rect x="802.55" y="1220.86" width="11.66" height="17.03" fill="#e4e4fc"/>
<rect x="813.86" y="1220.86" width="11.66" height="17.03" fill="#e4e4fc"/>
<rect x="825.17" y="1220.86" width="11.66" height="17.03" fill="#f7f7fc"/>
<rect x="836.47" y="1220.86" width="11.66" height="17.03" fill="#ef888e"/>
<rect x="847.78" y="1220.86" width="11.66" height="17.03" fill="#f7f7fc"/>
<rect x="859.09" y="1220.86" width="11.66" height="17.03" fill="#f7f7fc"/>
<rect x="870.39" y="1220.86" width="11.66" height="17.03" fill="#f8dadd"/>
<rect x="881.70" y="1220.86" width="11.66" height="17.03" fill="#e4e4fc"/>
<rect x="893.01" y="1220.86" width="11.66" height="17.03" fill="#e4e4fc"/>
<rect x="904.32" y="1220.86" width="11.66" height="17.03" fill="#e4e4fc"/>
<rect x="915.62" y="1220.86" width="11.66" height="17.03" fill="#e4e4fc"/>
<rect x="926.93" y="1220.86" width="11.66" height="17.03" fill="#cdcdff"/>
<rect x="938.24" y="1220.86" width="11.66" height="17.03" fill="#e4e4fc"/>
<rect x="949.54" y="1220.86" width="11.66" height="17.03" fill="#f7f7fc"/>
<rect x="960.85" y="1220.86" width="11.66" height="17.03" fill="#f7f7fc"/>
<rect x="972.16" y="1220.86" width="11.66" height="17.03" fill="#ef888e"/>
<rect x="983.46" y="1220.86" width="11.66" height="17.03" fill="#e4e4fc"/>
<rect x="994.77" y="1220.86" width="11.66" height="17.03" fill="#e4e4fc"/>
<rect x="1006.08" y="1220.86" width="11.66" height="17.03" fill="#f8dadd"/>
<rect x="1017.39" y="1220.86" width="11.66" height="17.03" fill="#f7f7fc"/>
<rect x="1028.69" y="1220.86" width="11.66" height="17.03" fill="#ef888e"/>
<rect x="1040.00" y="1220.86" width="11.66" height="17.03" fill="#f8dadd"/>
<rect x="1051.31" y="1220.86" width="11.66" height="17.03" fill="#f2565d"/>
<rect x="1062.61" y="1220.86" width="11.66" height="17.03" fill="#f7f7fc"/>
<rect x="1073.92" y="1220.86" width="11.66" height="17.03" fill="#f2b4b8"/>
<rect x="1085.23" y="1220.86" width="11.66" height="17.03" fill="#f8dadd"/>
<rect x="1096.53" y="1220.86" width="11.66" height="17.03" fill="#f8dadd"/>
<rect x="1107.84" y="1220.86" width="11.66" height="17.03" fill="#ef888e"/>
<rect x="1119.15" y="1220.86" width="11.66" height="17.03" fill="#f7f7fc"/>
<rect x="1130.46" y="1220.86" width="11.66" height="17.03" fill="#f8dadd"/>
<rect x="1141.76" y="1220.86" width="11.66" height="17.03" fill="#f7f7fc"/>
<rect x="1153.07" y="1220.86" width="11.66" height="17.03" fill="#f8dadd"/>
<rect x="1164.38" y="1220.86" width="11.66" height="17.03" fill="#f2b4b8"/>
<rect x="1175.68" y="1220.86" width="11.66" height="17.03" fill="#f2b4b8"/>
<rect x="1186.99" y="1220.86" width="11.66" height="17.03" fill="#e4e4fc"/>
<rect x="1198.30" y="1220.86" width="11.66" height="17.03" fill="#e4e4fc"/>
<rect x="1209.61" y="1220.86" width="11.66" height="17.03" fill="#e4e4fc"/>
<rect x="1220.91" y="1220.86" width="11.66" height="17.03" fill="#ef888e"/>
<rect x="1232.22" y="1220.86" width="11.66" height="17.03" fill="#f7f7fc"/>
<rect x="1243.53" y="1220.86" width="11.66" height="17.03" fill="#f2b4b8"/>
<rect x="1254.83" y="1220.86" width="11.66" height="17.03" fill="#f8dadd"/>
<rect x="1266.14" y="1220.86" width="8.51" height="17.03" fill="#f2b4b8"/>
<rect x="474.65" y="1237.54" width="11.66" height="17.03" fill="#cdcdff"/>
<rect x="485.96" y="1237.54" width="11.66" height="17.03" fill="#e4e4fc"/>
<rect x="497.26" y="1237.54" width="11.66" height="17.03" fill="#cdcdff"/>
<rect x="508.57" y="1237.54" width="11.66" height="17.03" fill="#b2b2ff"/>
<rect x="519.88" y="1237.54" width="11.66" height="17.03" fill="#cdcdff"/>
<rect x="531.18" y="1237.54" width="11.66" height="17.03" fill="#e4e4fc"/>
<rect x="542.49" y="1237.54" width="11.66" height="17.03" fill="#e4e4fc"/>
<rect x="553.80" y="1237.54" width="11.66" height="17.03" fill="#f7f7fc"/>
<rect x="565.11" y="1237.54" width="11.66" height="17.03" fill="#cdcdff"/>
<rect x="576.41" y="1237.54" width="11.66" height="17.03" fill="#b2b2ff"/>
<rect x="587.72" y="1237.54" width="11.66" height="17.03" fill="#e4e4fc"/>
<rect x="599.03" y="1237.54" width="11.66" height="17.03" fill="#cdcdff"/>
<rect x="610.33" y="1237.54" width="11.66" height="17.03" fill="#cdcdff"/>
<rect x="621.64" y="1237.54" width="11.66" height="17.03" fill="#e4e4fc"/>
<rect x="632.95" y="1237.54" width="11.66" height="17.03" fill="#ef888e"/>
<rect x="644.25" y="1237.54" width="11.66" height="17.03" fill="#cdcdff"/>
<rect x="655.56" y="1237.54" width="11.66" height="17.03" fill="#e4e4fc"/>
<rect x="666.87" y="1237.54" width="11.66" height="17.03" fill="#e4e4fc"/>
<rect x="678.18" y="1237.54" width="11.66" height="17.03" fill="#cdcdff"/>
<rect x="689.48" y="1237.54" width="11.66" height="17.03" fill="#cdcdff"/>
<rect x="700.79" y="1237.54" width="11.66" height="17.03" fill="#e4e4fc"/>
<rect x="712.10" y="1237.54" width="11.66" height="17.03" fill="#e4e4fc"/>
<rect x="723.40" y="1237.54" width="11.66" height="17.03" fill="#f8dadd"/>
<rect x="734.71" y="1237.54" width="11.66" height="17.03" fill="#f2565d"/>
<rect x="746.02" y="1237.54" width="11.66" height="17.03" fill="#f7f7fc"/>
<rect x="757.33" y="1237.54" width="11.66" height="17.03" fill="#f7f7fc"/>
<rect x="768.63" y="1237.54" width="11.66" height="17.03" fill="#f2b4b8"/>
<rect x="779.94" y="1237.54" width="11.66" height="17.03" fill="#e4e4fc"/>
<rect x="791.25" y="1237.54" width="11.66" height="17.03" fill="#e4e4fc"/>
<rect x="802.55" y="1237.54" width="11.66" height="17.03" fill="#e4e4fc"/>
<rect x="813.86" y="1237.54" width="11.66" height="17.03" fill="#e4e4fc"/>
<rect x="825.17" y="1237.54" width="11.66" height="17.03" fill="#ef888e"/>
<rect x="836.47" y="1237.54" width="11.66" height="17.03" fill="#e4e4fc"/>
<rect x="847.78" y="1237.54" width="11.66" height="17.03" fill="#ef888e"/>
<rect x="859.09" y="1237.54" width="11.66" height="17.03" fill="#f7f7fc"/>
<rect x="870.39" y="1237.54" width="11.66" height="17.03" fill="#f7f7fc"/>
<rect x="881.70" y="1237.54" width="11.66" height="17.03" fill="#ef888e"/>
<rect x="893.01" y="1237.54" width="11.66" height="17.03" fill="#e4e4fc"/>
<rect x="904.32" y="1237.54" width="11.66" height="17.03" fill="#e4e4fc"/>
<rect x="915.62" y="1237.54" width="11.66" height="17.03" fill="#cdcdff"/>
<rect x="926.93" y="1237.54" width="11.66" height="17.03" fill="#cdcdff"/>
<rect x="938.24" y="1237.54" width="11.66" height="17.03" fill="#f7f7fc"/>
<rect x="949.54" y="1237.54" width="11.66" height="17.03" fill="#ef888e"/>
<rect x="960.85" y="1237.54" width="11.66" height="17.03" fill="#ef888e"/>
<rect x="972.16" y="1237.54" width="11.66" height="17.03" fill="#ef888e"/>
<rect x="983.46" y="1237.54" width="11.66" height="17.03" fill="#f7f7fc"/>
<rect x="994.77" y="1237.54" width="11.66" height="17.03" fill="#e4e4fc"/>
<rect x="1006.08" y="1237.54" width="11.66" height="17.03" fill="#ef888e"/>
<rect x="1017.39" y="1237.54" width="11.66" height="17.03" fill="#f8dadd"/>
<rect x="1028.69" y="1237.54" width="11.66" height="17.03" fill="#ef888e"/>
<rect x="1040.00" y="1237.54" width="11.66" height="17.03" fill="#f2b4b8"/>
<rect x="1051.31" y="1237.54" width="11.66" height="17.03" fill="#f2b4b8"/>
<rect x="1062.61" y="1237.54" width="11.66" height="17.03" fill="#f2b4b8"/>
<rect x="1073.92" y="1237.54" width="11.66" height="17.03" fill="#f2b4b8"/>
<rect x="1085.23" y="1237.54" width="11.66" height="17.03" fill="#f2b4b8"/>
<rect x="1096.53" y="1237.54" width="11.66" height="17.03" fill="#e4e4fc"/>
<rect x="1107.84" y="1237.54" width="11.66" height="17.03" fill="#f2b4b8"/>
<rect x="1119.15" y="1237.54" width="11.66" height="17.03" fill="#f2b4b8"/>
<rect x="1130.46" y="1237.54" width="11.66" height="17.03" fill="#f2b4b8"/>
<rect x="1141.76" y="1237.54" width="11.66" height="17.03" fill="#ef888e"/>
<rect x="1153.07" y="1237.54" width="11.66" height="17.03" fill="#f7f7fc"/>
<rect x="1164.38" y="1237.54" width="11.66" height="17.03" fill="#f2b4b8"/>
<rect x="1175.68" y="1237.54" width="11.66" height="17.03" fill="#f8dadd"/>
<rect x="1186.99" y="1237.54" width="11.66" height="17.03" fill="#e4e4fc"/>
<rect x="1198.30" y="1237.54" width="11.66" height="17.03" fill="#f7f7fc"/>
<rect x="1209.61" y="1237.54" width="11.66" height="17.03" fill="#f7f7fc"/>
<rect x="1220.91" y="1237.54" width="11.66" height="17.03" fill="#f2b4b8"/>
<rect x="1232.22" y="1237.54" width="11.66" height="17.03" fill="#ef888e"/>
<rect x="1243.53" y="1237.54" width="11.66" height="17.03" fill="#f8dadd"/>
<rect x="1254.83" y="1237.54" width="11.66" height="17.03" fill="#f7f7fc"/>
<rect x="1266.14" y="1237.54" width="8.51" height="17.03" fill="#f2b4b8"/>
<rect x="474.65" y="1254.22" width="11.66" height="17.03" fill="#cdcdff"/>
<rect x="485.96" y="1254.22" width="11.66" height="17.03" fill="#cdcdff"/>
<rect x="497.26" y="1254.22" width="11.66" height="17.03" fill="#cdcdff"/>
<rect x="508.57" y="1254.22" width="11.66" height="17.03" fill="#b2b2ff"/>
<rect x="519.88" y="1254.22" width="11.66" height="17.03" fill="#b2b2ff"/>
<rect x="531.18" y="1254.22" width="11.66" height="17.03" fill="#b2b2ff"/>
<rect x="542.49" y="1254.22" width="11.66" height="17.03" fill="#cdcdff"/>
<rect x="553.80" y="1254.22" width="11.66" height="17.03" fill="#cdcdff"/>
<rect x="565.11" y="1254.22" width="11.66" height="17.03" fill="#b2b2ff"/>
<rect x="576.41" y="1254.22" width="11.66" height="17.03" fill="#b2b2ff"/>
<rect x="587.72" y="1254.22" width="11.66" height="17.03" fill="#b2b2ff"/>
<rect x="599.03" y="1254.22" width="11.66" height="17.03" fill="#b2b2ff"/>
<rect x="610.33" y="1254.22" width="11.66" height="17.03" fill="#b2b2ff"/>
<rect x="621.64" y="1254.22" width="11.66" height="17.03" fill="#cdcdff"/>
<rect x="632.95" y="1254.22" width="11.66" height="17.03" fill="#f7f7fc"/>
<rect x="644.25" y="1254.22" width="11.66" height="17.03" fill="#cdcdff"/>
<rect x="655.56" y="1254.22" width="11.66" height="17.03" fill="#f7f7fc"/>
<rect x="666.87" y="1254.22" width="11.66" height="17.03" fill="#b2b2ff"/>
<rect x="678.18" y="1254.22" width="11.66" height="17.03" fill="#cdcdff"/>
<rect x="689.48" y="1254.22" width="11.66" height="17.03" fill="#1900ff"/>
<rect x="700.79" y="1254.22" width="11.66" height="17.03" fill="#e4e4fc"/>
<rect x="712.10" y="1254.22" width="11.66" height="17.03" fill="#e4e4fc"/>
<rect x="723.40" y="1254.22" width="11.66" height="17.03" fill="#e4e4fc"/>
<rect x="734.71" y="1254.22" width="11.66" height="17.03" fill="#f7f7fc"/>
<rect x="746.02" y="1254.22" width="11.66" height="17.03" fill="#b2b2ff"/>
<rect x="757.33" y="1254.22" width="11.66" height="17.03" fill="#e4e4fc"/>
<rect x="768.63" y="1254.22" width="11.66" height="17.03" fill="#f7f7fc"/>
<rect x="779.94" y="1254.22" width="11.66" height="17.03" fill="#e4e4fc"/>
<rect x="791.25" y="1254.22" width="11.66" height="17.03" fill="#e4e4fc"/>
<rect x="802.55" y="1254.22" width="11.66" height="17.03" fill="#cdcdff"/>
<rect x="813.86" y="1254.22" width="11.66" height="17.03" fill="#cdcdff"/>
<rect x="825.17" y="1254.22" width="11.66" height="17.03" fill="#e4e4fc"/>
<rect x="836.47" y="1254.22" width="11.66" height="17.03" fill="#e4e4fc"/>
<rect x="847.78" y="1254.22" width="11.66" height="17.03" fill="#cdcdff"/>
<rect x="859.09" y="1254.22" width="11.66" height="17.03" fill="#f8dadd"/>
<rect x="870.39" y="1254.22" width="11.66" height="17.03" fill="#e4e4fc"/>
<rect x="881.70" y="1254.22" width="11.66" height="17.03" fill="#f2b4b8"/>
<rect x="893.01" y="1254.22" width="11.66" height="17.03" fill="#cdcdff"/>
<rect x="904.32" y="1254.22" width="11.66" height="17.03" fill="#cdcdff"/>
<rect x="915.62" y="1254.22" width="11.66" height="17.03" fill="#cdcdff"/>
<rect x="926.93" y="1254.22" width="11.66" height="17.03" fill="#e4e4fc"/>
<rect x="938.24" y="1254.22" width="11.66" height="17.03" fill="#f7f7fc"/>
<rect x="949.54" y="1254.22" width="11.66" height="17.03" fill="#f8dadd"/>
<rect x="960.85" y="1254.22" width="11.66" height="17.03" fill="#e4e4fc"/>
<rect x="972.16" y="1254.22" width="11.66" height="17.03" fill="#cdcdff"/>
<rect x="983.46" y="1254.22" width="11.66" height="17.03" fill="#cdcdff"/>
<rect x="994.77" y="1254.22" width="11.66" height="17.03" fill="#e4e4fc"/>
<rect x="1006.08" y="1254.22" width="11.66" height="17.03" fill="#e4e4fc"/>
<rect x="1017.39" y="1254.22" width="11.66" height="17.03" fill="#f8dadd"/>
<rect x="1028.69" y="1254.22" width="11.66" height="17.03" fill="#f7f7fc"/>
<rect x="1040.00" y="1254.22" width="11.66" height="17.03" fill="#e4e4fc"/>
<rect x="1051.31" y="1254.22" width="11.66" height="17.03" fill="#f2565d"/>
<rect x="1062.61" y="1254.22" width="11.66" height="17.03" fill="#e4e4fc"/>
<rect x="1073.92" y="1254.22" width="11.66" height="17.03" fill="#cdcdff"/>
<rect x="1085.23" y="1254.22" width="11.66" height="17.03" fill="#e4e4fc"/>
<rect x="1096.53" y="1254.22" width="11.66" height="17.03" fill="#f8dadd"/>
<rect x="1107.84" y="1254.22" width="11.66" height="17.03" fill="#f7f7fc"/>
<rect x="1119.15" y="1254.22" width="11.66" height="17.03" fill="#b2b2ff"/>
<rect x="1130.46" y="1254.22" width="11.66" height="17.03" fill="#e4e4fc"/>
<rect x="1141.76" y="1254.22" width="11.66" height="17.03" fill="#f7f7fc"/>
<rect x="1153.07" y="1254.22" width="11.66" height="17.03" fill="#e4e4fc"/>
<rect x="1164.38" y="1254.22" width="11.66" height="17.03" fill="#f7f7fc"/>
<rect x="1175.68" y="1254.22" width="11.66" height="17.03" fill="#f2b4b8"/>
<rect x="1186.99" y="1254.22" width="11.66" height="17.03" fill="#f8dadd"/>
<rect x="1198.30" y="1254.22" width="11.66" height="17.03" fill="#e4e4fc"/>
<rect x="1209.61" y="1254.22" width="11.66" height="17.03" fill="#f8dadd"/>
<rect x="1220.91" y="1254.22" width="11.66" height="17.03" fill="#f8dadd"/>
<rect x="1232.22" y="1254.22" width="11.66" height="17.03" fill="#f7f7fc"/>
<rect x="1243.53" y="1254.22" width="11.66" height="17.03" fill="#f7f7fc"/>
<rect x="1254.83" y="1254.22" width="11.66" height="17.03" fill="#f7f7fc"/>
<rect x="1266.14" y="1254.22" width="8.51" height="17.03" fill="#ef888e"/>
<rect x="474.65" y="1270.90" width="11.66" height="17.03" fill="#cdcdff"/>
<rect x="485.96" y="1270.90" width="11.66" height="17.03" fill="#cdcdff"/>
<rect x="497.26" y="1270.90" width="11.66" height="17.03" fill="#e4e4fc"/>
<rect x="508.57" y="1270.90" width="11.66" height="17.03" fill="#cdcdff"/>
<rect x="519.88" y="1270.90" width="11.66" height="17.03" fill="#cdcdff"/>
<rect x="531.18" y="1270.90" width="11.66" height="17.03" fill="#cdcdff"/>
<rect x="542.49" y="1270.90" width="11.66" height="17.03" fill="#cdcdff"/>
<rect x="553.80" y="1270.90" width="11.66" height="17.03" fill="#cdcdff"/>
<rect x="565.11" y="1270.90" width="11.66" height="17.03" fill="#e4e4fc"/>
<rect x="576.41" y="1270.90" width="11.66" height="17.03" fill="#f7f7fc"/>
<rect x="587.72" y="1270.90" width="11.66" height="17.03" fill="#b2b2ff"/>
<rect x="599.03" y="1270.90" width="11.66" height="17.03" fill="#cdcdff"/>
<rect x="610.33" y="1270.90" width="11.66" height="17.03" fill="#cdcdff"/>
<rect x="621.64" y="1270.90" width="11.66" height="17.03" fill="#e4e4fc"/>
<rect x="632.95" y="1270.90" width="11.66" height="17.03" fill="#cdcdff"/>
<rect x="644.25" y="1270.90" width="11.66" height="17.03" fill="#cdcdff"/>
<rect x="655.56" y="1270.90" width="11.66" height="17.03" fill="#cdcdff"/>
<rect x="666.87" y="1270.90" width="11.66" height="17.03" fill="#cdcdff"/>
<rect x="678.18" y="1270.90" width="11.66" height="17.03" fill="#e4e4fc"/>
<rect x="689.48" y="1270.90" width="11.66" height="17.03" fill="#b2b2ff"/>
<rect x="700.79" y="1270.90" width="11.66" height="17.03" fill="#b2b2ff"/>
<rect x="712.10" y="1270.90" width="11.66" height="17.03" fill="#e4e4fc"/>
<rect x="723.40" y="1270.90" width="11.66" height="17.03" fill="#e4e4fc"/>
<rect x="734.71" y="1270.90" width="11.66" height="17.03" fill="#e4e4fc"/>
<rect x="746.02" y="1270.90" width="11.66" height="17.03" fill="#b2b2ff"/>
<rect x="757.33" y="1270.90" width="11.66" height="17.03" fill="#e4e4fc"/>
<rect x="768.63" y="1270.90" width="11.66" height="17.03" fill="#e4e4fc"/>
<rect x="779.94" y="1270.90" width="11.66" height="17.03" fill="#1900ff"/>
<rect x="791.25" y="1270.90" width="11.66" height="17.03" fill="#e4e4fc"/>
<rect x="802.55" y="1270.90" width="11.66" height="17.03" fill="#cdcdff"/>
<rect x="813.86" y="1270.90" width="11.66" height="17.03" fill="#cdcdff"/>
<rect x="825.17" y="1270.90" width="11.66" height="17.03" fill="#e4e4fc"/>
<rect x="836.47" y="1270.90" width="11.66" height="17.03" fill="#e4e4fc"/>
<rect x="847.78" y="1270.90" width="11.66" height="17.03" fill="#e4e4fc"/>
<rect x="859.09" y="1270.90" width="11.66" height="17.03" fill="#e4e4fc"/>
<rect x="870.39" y="1270.90" width="11.66" height="17.03" fill="#e4e4fc"/>
<rect x="881.70" y="1270.90" width="11.66" height="17.03" fill="#e4e4fc"/>
<rect x="893.01" y="1270.90" width="11.66" height="17.03" fill="#e4e4fc"/>
<rect x="904.32" y="1270.90" width="11.66" height="17.03" fill="#cdcdff"/>
<rect x="915.62" y="1270.90" width="11.66" height="17.03" fill="#cdcdff"/>
<rect x="926.93" y="1270.90" width="11.66" height="17.03" fill="#e4e4fc"/>
<rect x="938.24" y="1270.90" width="11.66" height="17.03" fill="#cdcdff"/>
<rect x="949.54" y="1270.90" width="11.66" height="17.03" fill="#e4e4fc"/>
<rect x="960.85" y="1270.90" width="11.66" height="17.03" fill="#e4e4fc"/>
<rect x="972.16" y="1270.90" width="11.66" height="17.03" fill="#e4e4fc"/>
<rect x="983.46" y="1270.90" width="11.66" height="17.03" fill="#b2b2ff"/>
<rect x="994.77" y="1270.90" width="11.66" height="17.03" fill="#cdcdff"/>
<rect x="1006.08" y="1270.90" width="11.66" height="17.03" fill="#e4e4fc"/>
<rect x="1017.39" y="1270.90" width="11.66" height="17.03" fill="#f2b4b8"/>
<rect x="1028.69" y="1270.90" width="11.66" height="17.03" fill="#f7f7fc"/>
<rect x="1040.00" y="1270.90" width="11.66" height="17.03" fill="#f8dadd"/>
<rect x="1051.31" y="1270.90" width="11.66" height="17.03" fill="#f2b4b8"/>
<rect x="1062.61" y="1270.90" width="11.66" height="17.03" fill="#e4e4fc"/>
<rect x="1073.92" y="1270.90" width="11.66" height="17.03" fill="#e4e4fc"/>
<rect x="1085.23" y="1270.90" width="11.66" height="17.03" fill="#e4e4fc"/>
<rect x="1096.53" y="1270.90" width="11.66" height="17.03" fill="#e4e4fc"/>
<rect x="1107.84" y="1270.90" width="11.66" height="17.03" fill="#e4e4fc"/>
<rect x="1119.15" y="1270.90" width="11.66" height="17.03" fill="#e4e4fc"/>
<rect x="1130.46" y="1270.90" width="11.66" height="17.03" fill="#e4e4fc"/>
<rect x="1141.76" y="1270.90" width="11.66" height="17.03" fill="#f8dadd"/>
<rect x="1153.07" y="1270.90" width="11.66" height="17.03" fill="#e4e4fc"/>
<rect x="1164.38" y="1270.90" width="11.66" height="17.03" fill="#e4e4fc"/>
<rect x="1175.68" y="1270.90" width="11.66" height="17.03" fill="#e4e4fc"/>
<rect x="1186.99" y="1270.90" width="11.66" height="17.03" fill="#e4e4fc"/>
<rect x="1198.30" y="1270.90" width="11.66" height="17.03" fill="#f7f7fc"/>
<rect x="1209.61" y="1270.90" width="11.66" height="17.03" fill="#e4e4fc"/>
<rect x="1220.91" y="1270.90" width="11.66" height="17.03" fill="#f7f7fc"/>
<rect x="1232.22" y="1270.90" width="11.66" height="17.03" fill="#e4e4fc"/>
<rect x="1243.53" y="1270.90" width="11.66" height="17.03" fill="#e4e4fc"/>
<rect x="1254.83" y="1270.90" width="11.66" height="17.03" fill="#f7f7fc"/>
<rect x="1266.14" y="1270.90" width="8.51" height="17.03" fill="#f8dadd"/>
<rect x="474.65" y="1287.58" width="11.66" height="17.03" fill="#1900ff"/>
<rect x="485.96" y="1287.58" width="11.66" height="17.03" fill="#1900ff"/>
<rect x="497.26" y="1287.58" width="11.66" height="17.03" fill="#cdcdff"/>
<rect x="508.57" y="1287.58" width="11.66" height="17.03" fill="#b2b2ff"/>
<rect x="519.88" y="1287.58" width="11.66" height="17.03" fill="#b2b2ff"/>
<rect x="531.18" y="1287.58" width="11.66" height="17.03" fill="#cdcdff"/>
<rect x="542.49" y="1287.58" width="11.66" height="17.03" fill="#cdcdff"/>
<rect x="553.80" y="1287.58" width="11.66" height="17.03" fill="#e4e4fc"/>
<rect x="565.11" y="1287.58" width="11.66" height="17.03" fill="#b2b2ff"/>
<rect x="576.41" y="1287.58" width="11.66" height="17.03" fill="#cdcdff"/>
<rect x="587.72" y="1287.58" width="11.66" height="17.03" fill="#e4e4fc"/>
<rect x="599.03" y="1287.58" width="11.66" height="17.03" fill="#cdcdff"/>
<rect x="610.33" y="1287.58" width="11.66" height="17.03" fill="#cdcdff"/>
<rect x="621.64" y="1287.58" width="11.66" height="17.03" fill="#b2b2ff"/>
<rect x="632.95" y="1287.58" width="11.66" height="17.03" fill="#e4e4fc"/>
<rect x="644.25" y="1287.58" width="11.66" height="17.03" fill="#b2b2ff"/>
<rect x="655.56" y="1287.58" width="11.66" height="17.03" fill="#f7f7fc"/>
<rect x="666.87" y="1287.58" width="11.66" height="17.03" fill="#b2b2ff"/>
<rect x="678.18" y="1287.58" width="11.66" height="17.03" fill="#cdcdff"/>
<rect x="689.48" y="1287.58" width="11.66" height="17.03" fill="#f7f7fc"/>
<rect x="700.79" y="1287.58" width="11.66" height="17.03" fill="#f7f7fc"/>
<rect x="712.10" y="1287.58" width="11.66" height="17.03" fill="#f7f7fc"/>
<rect x="723.40" y="1287.58" width="11.66" height="17.03" fill="#e4e4fc"/>
<rect x="734.71" y="1287.58" width="11.66" height="17.03" fill="#f7f7fc"/>
<rect x="746.02" y="1287.58" width="11.66" height="17.03" fill="#b2b2ff"/>
<rect x="757.33" y="1287.58" width="11.66" height="17.03" fill="#f2b4b8"/>
<rect x="768.63" y="1287.58" width="11.66" height="17.03" fill="#f7f7fc"/>
<rect x="779.94" y="1287.58" width="11.66" height="17.03" fill="#e4e4fc"/>
<rect x="791.25" y="1287.58" width="11.66" height="17.03" fill="#f8dadd"/>
<rect x="802.55" y="1287.58" width="11.66" height="17.03" fill="#e4e4fc"/>
<rect x="813.86" y="1287.58" width="11.66" height="17.03" fill="#e4e4fc"/>
<rect x="825.17" y="1287.58" width="11.66" height="17.03" fill="#ef888e"/>
<rect x="836.47" y="1287.58" width="11.66" height="17.03" fill="#ef888e"/>
<rect x="847.78" y="1287.58" width="11.66" height="17.03" fill="#cdcdff"/>
<rect x="859.09" y="1287.58" width="11.66" height="17.03" fill="#f7f7fc"/>
<rect x="870.39" y="1287.58" width="11.66" height="17.03" fill="#f8dadd"/>
<rect x="881.70" y="1287.58" width="11.66" height="17.03" fill="#f8dadd"/>
<rect x="893.01" y="1287.58" width="11.66" height="17.03" fill="#cdcdff"/>
<rect x="904.32" y="1287.58" width="11.66" height="17.03" fill="#e4e4fc"/>
<rect x="915.62" y="1287.58" width="11.66" height="17.03" fill="#cdcdff"/>
<rect x="926.93" y="1287.58" width="11.66" height="17.03" fill="#cdcdff"/>
<rect x="938.24" y="1287.58" width="11.66" height="17.03" fill="#e4e4fc"/>
<rect x="949.54" y="1287.58" width="11.66" height="17.03" fill="#f2b4b8"/>
<rect x="960.85" y="1287.58" width="11.66" height="17.03" fill="#e4e4fc"/>
<rect x="972.16" y="1287.58" width="11.66" height="17.03" fill="#e4e4fc"/>
<rect x="983.46" y="1287.58" width="11.66" height="17.03" fill="#e4e4fc"/>
<rect x="994.77" y="1287.58" width="11.66" height="17.03" fill="#f7f7fc"/>
<rect x="1006.08" y="1287.58" width="11.66" height="17.03" fill="#f7f7fc"/>
<rect x="1017.39" y="1287.58" width="11.66" height="17.03" fill="#f2b4b8"/>
<rect x="1028.69" y="1287.58" width="11.66" height="17.03" fill="#f8dadd"/>
<rect x="1040.00" y="1287.58" width="11.66" height="17.03" fill="#f7f7fc"/>
<rect x="1051.31" y="1287.58" width="11.66" height="17.03" fill="#ff2014"/>
<rect x="1062.61" y="1287.58" width="11.66" height="17.03" fill="#f8dadd"/>
<rect x="1073.92" y="1287.58" width="11.66" height="17.03" fill="#f8dadd"/>
<rect x="1085.23" y="1287.58" width="11.66" height="17.03" fill="#f7f7fc"/>
<rect x="1096.53" y="1287.58" width="11.66" height="17.03" fill="#f7f7fc"/>
<rect x="1107.84" y="1287.58" width="11.66" height="17.03" fill="#f8dadd"/>
<rect x="1119.15" y="1287.58" width="11.66" height="17.03" fill="#f2b4b8"/>
<rect x="1130.46" y="1287.58" width="11.66" height="17.03" fill="#f8dadd"/>
<rect x="1141.76" y="1287.58" width="11.66" height="17.03" fill="#ef888e"/>
<rect x="1153.07" y="1287.58" width="11.66" height="17.03" fill="#f8dadd"/>
<rect x="1164.38" y="1287.58" width="11.66" height="17.03" fill="#f8dadd"/>
<rect x="1175.68" y="1287.58" width="11.66" height="17.03" fill="#ef888e"/>
<rect x="1186.99" y="1287.58" width="11.66" height="17.03" fill="#f8dadd"/>
<rect x="1198.30" y="1287.58" width="11.66" height="17.03" fill="#ef888e"/>
<rect x="1209.61" y="1287.58" width="11.66" height="17.03" fill="#f7f7fc"/>
<rect x="1220.91" y="1287.58" width="11.66" height="17.03" fill="#f7f7fc"/>
<rect x="1232.22" y="1287.58" width="11.66" height="17.03" fill="#f7f7fc"/>
<rect x="1243.53" y="1287.58" width="11.66" height="17.03" fill="#f2b4b8"/>
<rect x="1254.83" y="1287.58" width="11.66" height="17.03" fill="#f8dadd"/>
<rect x="1266.14" y="1287.58" width="8.51" height="17.03" fill="#f2b4b8"/>
<rect x="474.65" y="1304.26" width="11.66" height="17.03" fill="#cdcdff"/>
<rect x="485.96" y="1304.26" width="11.66" height="17.03" fill="#1900ff"/>
<rect x="497.26" y="1304.26" width="11.66" height="17.03" fill="#b2b2ff"/>
<rect x="508.57" y="1304.26" width="11.66" height="17.03" fill="#cdcdff"/>
<rect x="519.88" y="1304.26" width="11.66" height="17.03" fill="#cdcdff"/>
<rect x="531.18" y="1304.26" width="11.66" height="17.03" fill="#b2b2ff"/>
<rect x="542.49" y="1304.26" width="11.66" height="17.03" fill="#e4e4fc"/>
<rect x="553.80" y="1304.26" width="11.66" height="17.03" fill="#cdcdff"/>
<rect x="565.11" y="1304.26" width="11.66" height="17.03" fill="#e4e4fc"/>
<rect x="576.41" y="1304.26" width="11.66" height="17.03" fill="#cdcdff"/>
<rect x="587.72" y="1304.26" width="11.66" height="17.03" fill="#cdcdff"/>
<rect x="599.03" y="1304.26" width="11.66" height="17.03" fill="#e4e4fc"/>
<rect x="610.33" y="1304.26" width="11.66" height="17.03" fill="#e4e4fc"/>
<rect x="621.64" y="1304.26" width="11.66" height="17.03" fill="#1900ff"/>
<rect x="632.95" y="1304.26" width="11.66" height="17.03" fill="#e4e4fc"/>
<rect x="644.25" y="1304.26" width="11.66" height="17.03" fill="#e4e4fc"/>
<rect x="655.56" y="1304.26" width="11.66" height="17.03" fill="#e4e4fc"/>
<rect x="666.87" y="1304.26" width="11.66" height="17.03" fill="#e4e4fc"/>
<rect x="678.18" y="1304.26" width="11.66" height="17.03" fill="#e4e4fc"/>
<rect x="689.48" y="1304.26" width="11.66" height="17.03" fill="#cdcdff"/>
<rect x="700.79" y="1304.26" width="11.66" height="17.03" fill="#cdcdff"/>
<rect x="712.10" y="1304.26" width="11.66" height="17.03" fill="#e4e4fc"/>
<rect x="723.40" y="1304.26" width="11.66" height="17.03" fill="#e4e4fc"/>
<rect x="734.71" y="1304.26" width="11.66" height="17.03" fill="#e4e4fc"/>
<rect x="746.02" y="1304.26" width="11.66" height="17.03" fill="#b2b2ff"/>
<rect x="757.33" y="1304.26" width="11.66" height="17.03" fill="#f7f7fc"/>
<rect x="768.63" y="1304.26" width="11.66" height="17.03" fill="#e4e4fc"/>
<rect x="779.94" y="1304.26" width="11.66" height="17.03" fill="#e4e4fc"/>
<rect x="791.25" y="1304.26" width="11.66" height="17.03" fill="#e4e4fc"/>
<rect x="802.55" y="1304.26" width="11.66" height="17.03" fill="#e4e4fc"/>
<rect x="813.86" y="1304.26" width="11.66" height="17.03" fill="#cdcdff"/>
<rect x="825.17" y="1304.26" width="11.66" height="17.03" fill="#e4e4fc"/>
<rect x="836.47" y="1304.26" width="11.66" height="17.03" fill="#f2b4b8"/>
<rect x="847.78" y="1304.26" width="11.66" height="17.03" fill="#e4e4fc"/>
<rect x="859.09" y="1304.26" width="11.66" height="17.03" fill="#e4e4fc"/>
<rect x="870.39" y="1304.26" width="11.66" height="17.03" fill="#f7f7fc"/>
<rect x="881.70" y="1304.26" width="11.66" height="17.03" fill="#e4e4fc"/>
<rect x="893.01" y="1304.26" width="11.66" height="17.03" fill="#e4e4fc"/>
<rect x="904.32" y="1304.26" width="11.66" height="17.03" fill="#cdcdff"/>
<rect x="915.62" y="1304.26" width="11.66" height="17.03" fill="#cdcdff"/>
<rect x="926.93" y="1304.26" width="11.66" height="17.03" fill="#e4e4fc"/>
<rect x="938.24" y="1304.26" width="11.66" height="17.03" fill="#cdcdff"/>
<rect x="949.54" y="1304.26" width="11.66" height="17.03" fill="#f7f7fc"/>
<rect x="960.85" y="1304.26" width="11.66" height="17.03" fill="#e4e4fc"/>
<rect x="972.16" y="1304.26" width="11.66" height="17.03" fill="#cdcdff"/>
<rect x="983.46" y="1304.26" width="11.66" height="17.03" fill="#cdcdff"/>
<rect x="994.77" y="1304.26" width="11.66" height="17.03" fill="#cdcdff"/>
<rect x="1006.08" y="1304.26" width="11.66" height="17.03" fill="#cdcdff"/>
<rect x="1017.39" y="1304.26" width="11.66" height="17.03" fill="#f2b4b8"/>
<rect x="1028.69" y="1304.26" width="11.66" height="17.03" fill="#e4e4fc"/>
<rect x="1040.00" y="1304.26" width="11.66" height="17.03" fill="#f7f7fc"/>
<rect x="1051.31" y="1304.26" width="11.66" height="17.03" fill="#f2565d"/>
<rect x="1062.61" y="1304.26" width="11.66" height="17.03" fill="#e4e4fc"/>
<rect x="1073.92" y="1304.26" width="11.66" height="17.03" fill="#f8dadd"/>
<rect x="1085.23" y="1304.26" width="11.66" height="17.03" fill="#f7f7fc"/>
<rect x="1096.53" y="1304.26" width="11.66" height="17.03" fill="#ef888e"/>
<rect x="1107.84" y="1304.26" width="11.66" height="17.03" fill="#ef888e"/>
<rect x="1119.15" y="1304.26" width="11.66" height="17.03" fill="#e4e4fc"/>
<rect x="1130.46" y="1304.26" width="11.66" height="17.03" fill="#f8dadd"/>
<rect x="1141.76" y="1304.26" width="11.66" height="17.03" fill="#f8dadd"/>
<rect x="1153.07" y="1304.26" width="11.66" height="17.03" fill="#ef888e"/>
<rect x="1164.38" y="1304.26" width="11.66" height="17.03" fill="#f7f7fc"/>
<rect x="1175.68" y="1304.26" width="11.66" height="17.03" fill="#ef888e"/>
<rect x="1186.99" y="1304.26" width="11.66" height="17.03" fill="#e4e4fc"/>
<rect x="1198.30" y="1304.26" width="11.66" height="17.03" fill="#f2565d"/>
<rect x="1209.61" y="1304.26" width="11.66" height="17.03" fill="#e4e4fc"/>
<rect x="1220.91" y="1304.26" width="11.66" height="17.03" fill="#f8dadd"/>
<rect x="1232.22" y="1304.26" width="11.66" height="17.03" fill="#e4e4fc"/>
<rect x="1243.53" y="1304.26" width="11.66" height="17.03" fill="#e4e4fc"/>
<rect x="1254.83" y="1304.26" width="11.66" height="17.03" fill="#ef888e"/>
<rect x="1266.14" y="1304.26" width="8.51" height="17.03" fill="#f8dadd"/>
<rect x="474.65" y="1320.94" width="11.66" height="17.03" fill="#cdcdff"/>
<rect x="485.96" y="1320.94" width="11.66" height="17.03" fill="#b2b2ff"/>
<rect x="497.26" y="1320.94" width="11.66" height="17.03" fill="#1900ff"/>
<rect x="508.57" y="1320.94" width="11.66" height="17.03" fill="#1900ff"/>
<rect x="519.88" y="1320.94" width="11.66" height="17.03" fill="#cdcdff"/>
<rect x="531.18" y="1320.94" width="11.66" height="17.03" fill="#b2b2ff"/>
<rect x="542.49" y="1320.94" width="11.66" height="17.03" fill="#cdcdff"/>
<rect x="553.80" y="1320.94" width="11.66" height="17.03" fill="#cdcdff"/>
<rect x="565.11" y="1320.94" width="11.66" height="17.03" fill="#1900ff"/>
<rect x="576.41" y="1320.94" width="11.66" height="17.03" fill="#e4e4fc"/>
<rect x="587.72" y="1320.94" width="11.66" height="17.03" fill="#f7f7fc"/>
<rect x="599.03" y="1320.94" width="11.66" height="17.03" fill="#f8dadd"/>
<rect x="610.33" y="1320.94" width="11.66" height="17.03" fill="#f7f7fc"/>
<rect x="621.64" y="1320.94" width="11.66" height="17.03" fill="#b2b2ff"/>
<rect x="632.95" y="1320.94" width="11.66" height="17.03" fill="#f8dadd"/>
<rect x="644.25" y="1320.94" width="11.66" height="17.03" fill="#cdcdff"/>
<rect x="655.56" y="1320.94" width="11.66" height="17.03" fill="#f2b4b8"/>
<rect x="666.87" y="1320.94" width="11.66" height="17.03" fill="#b2b2ff"/>
<rect x="678.18" y="1320.94" width="11.66" height="17.03" fill="#b2b2ff"/>
<rect x="689.48" y="1320.94" width="11.66" height="17.03" fill="#f7f7fc"/>
<rect x="700.79" y="1320.94" width="11.66" height="17.03" fill="#f7f7fc"/>
<rect x="712.10" y="1320.94" width="11.66" height="17.03" fill="#f8dadd"/>
<rect x="723.40" y="1320.94" width="11.66" height="17.03" fill="#f8dadd"/>
<rect x="734.71" y="1320.94" width="11.66" height="17.03" fill="#f8dadd"/>
<rect x="746.02" y="1320.94" width="11.66" height="17.03" fill="#cdcdff"/>
<rect x="757.33" y="1320.94" width="11.66" height="17.03" fill="#ef888e"/>
<rect x="768.63" y="1320.94" width="11.66" height="17.03" fill="#f2b4b8"/>
<rect x="779.94" y="1320.94" width="11.66" height="17.03" fill="#f7f7fc"/>
<rect x="791.25" y="1320.94" width="11.66" height="17.03" fill="#f2b4b8"/>
<rect x="802.55" y="1320.94" width="11.66" height="17.03" fill="#e4e4fc"/>
<rect x="813.86" y="1320.94" width="11.66" height="17.03" fill="#e4e4fc"/>
<rect x="825.17" y="1320.94" width="11.66" height="17.03" fill="#ef888e"/>
<rect x="836.47" y="1320.94" width="11.66" height="17.03" fill="#ef888e"/>
<rect x="847.78" y="1320.94" width="11.66" height="17.03" fill="#e4e4fc"/>
<rect x="859.09" y="1320.94" width="11.66" height="17.03" fill="#f2b4b8"/>
<rect x="870.39" y="1320.94" width="11.66" height="17.03" fill="#ef888e"/>
<rect x="881.70" y="1320.94" width="11.66" height="17.03" fill="#ef888e"/>
<rect x="893.01" y="1320.94" width="11.66" height="17.03" fill="#cdcdff"/>
<rect x="904.32" y="1320.94" width="11.66" height="17.03" fill="#f8dadd"/>
<rect x="915.62" y="1320.94" width="11.66" height="17.03" fill="#e4e4fc"/>
<rect x="926.93" y="1320.94" width="11.66" height="17.03" fill="#b2b2ff"/>
<rect x="938.24" y="1320.94" width="11.66" height="17.03" fill="#ef888e"/>
<rect x="949.54" y="1320.94" width="11.66" height="17.03" fill="#ef888e"/>
<rect x="960.85" y="1320.94" width="11.66" height="17.03" fill="#f2b4b8"/>
<rect x="972.16" y="1320.94" width="11.66" height="17.03" fill="#cdcdff"/>
<rect x="983.46" y="1320.94" width="11.66" height="17.03" fill="#f7f7fc"/>
<rect x="994.77" y="1320.94" width="11.66" height="17.03" fill="#f8dadd"/>
<rect x="1006.08" y="1320.94" width="11.66" height="17.03" fill="#f8dadd"/>
<rect x="1017.39" y="1320.94" width="11.66" height="17.03" fill="#ef888e"/>
<rect x="1028.69" y="1320.94" width="11.66" height="17.03" fill="#ef888e"/>
<rect x="1040.00" y="1320.94" width="11.66" height="17.03" fill="#f2b4b8"/>
<rect x="1051.31" y="1320.94" width="11.66" height="17.03" fill="#ff2014"/>
<rect x="1062.61" y="1320.94" width="11.66" height="17.03" fill="#f2b4b8"/>
<rect x="1073.92" y="1320.94" width="11.66" height="17.03" fill="#f2b4b8"/>
<rect x="1085.23" y="1320.94" width="11.66" height="17.03" fill="#f2b4b8"/>
<rect x="1096.53" y="1320.94" width="11.66" height="17.03" fill="#ef888e"/>
<rect x="1107.84" y="1320.94" width="11.66" height="17.03" fill="#f2b4b8"/>
<rect x="1119.15" y="1320.94" width="11.66" height="17.03" fill="#ef888e"/>
<rect x="1130.46" y="1320.94" width="11.66" height="17.03" fill="#ef888e"/>
<rect x="1141.76" y="1320.94" width="11.66" height="17.03" fill="#f2565d"/>
<rect x="1153.07" y="1320.94" width="11.66" height="17.03" fill="#ef888e"/>
<rect x="1164.38" y="1320.94" width="11.66" height="17.03" fill="#f2b4b8"/>
<rect x="1175.68" y="1320.94" width="11.66" height="17.03" fill="#ef888e"/>
<rect x="1186.99" y="1320.94" width="11.66" height="17.03" fill="#f2b4b8"/>
<rect x="1198.30" y="1320.94" width="11.66" height="17.03" fill="#ef888e"/>
<rect x="1209.61" y="1320.94" width="11.66" height="17.03" fill="#f2b4b8"/>
<rect x="1220.91" y="1320.94" width="11.66" height="17.03" fill="#ef888e"/>
<rect x="1232.22" y="1320.94" width="11.66" height="17.03" fill="#ef888e"/>
<rect x="1243.53" y="1320.94" width="11.66" height="17.03" fill="#ef888e"/>
<rect x="1254.83" y="1320.94" width="11.66" height="17.03" fill="#ef888e"/>
<rect x="1266.14" y="1320.94" width="8.51" height="17.03" fill="#ef888e"/>
<rect x="474.65" y="1337.62" width="11.66" height="17.03" fill="#1900ff"/>
<rect x="485.96" y="1337.62" width="11.66" height="17.03" fill="#1900ff"/>
<rect x="497.26" y="1337.62" width="11.66" height="17.03" fill="#1900ff"/>
<rect x="508.57" y="1337.62" width="11.66" height="17.03" fill="#1900ff"/>
<rect x="519.88" y="1337.62" width="11.66" height="17.03" fill="#b2b2ff"/>
<rect x="531.18" y="1337.62" width="11.66" height="17.03" fill="#b2b2ff"/>
<rect x="542.49" y="1337.62" width="11.66" height="17.03" fill="#1900ff"/>
<rect x="553.80" y="1337.62" width="11.66" height="17.03" fill="#e4e4fc"/>
<rect x="565.11" y="1337.62" width="11.66" height="17.03" fill="#cdcdff"/>
<rect x="576.41" y="1337.62" width="11.66" height="17.03" fill="#b2b2ff"/>
<rect x="587.72" y="1337.62" width="11.66" height="17.03" fill="#e4e4fc"/>
<rect x="599.03" y="1337.62" width="11.66" height="17.03" fill="#b2b2ff"/>
<rect x="610.33" y="1337.62" width="11.66" height="17.03" fill="#cdcdff"/>
<rect x="621.64" y="1337.62" width="11.66" height="17.03" fill="#e4e4fc"/>
<rect x="632.95" y="1337.62" width="11.66" height="17.03" fill="#f7f7fc"/>
<rect x="644.25" y="1337.62" width="11.66" height="17.03" fill="#1900ff"/>
<rect x="655.56" y="1337.62" width="11.66" height="17.03" fill="#f7f7fc"/>
<rect x="666.87" y="1337.62" width="11.66" height="17.03" fill="#b2b2ff"/>
<rect x="678.18" y="1337.62" width="11.66" height="17.03" fill="#1900ff"/>
<rect x="689.48" y="1337.62" width="11.66" height="17.03" fill="#e4e4fc"/>
<rect x="700.79" y="1337.62" width="11.66" height="17.03" fill="#e4e4fc"/>
<rect x="712.10" y="1337.62" width="11.66" height="17.03" fill="#f7f7fc"/>
<rect x="723.40" y="1337.62" width="11.66" height="17.03" fill="#e4e4fc"/>
<rect x="734.71" y="1337.62" width="11.66" height="17.03" fill="#e4e4fc"/>
<rect x="746.02" y="1337.62" width="11.66" height="17.03" fill="#b2b2ff"/>
<rect x="757.33" y="1337.62" width="11.66" height="17.03" fill="#f8dadd"/>
<rect x="768.63" y="1337.62" width="11.66" height="17.03" fill="#f7f7fc"/>
<rect x="779.94" y="1337.62" width="11.66" height="17.03" fill="#e4e4fc"/>
<rect x="791.25" y="1337.62" width="11.66" height="17.03" fill="#f7f7fc"/>
<rect x="802.55" y="1337.62" width="11.66" height="17.03" fill="#cdcdff"/>
<rect x="813.86" y="1337.62" width="11.66" height="17.03" fill="#cdcdff"/>
<rect x="825.17" y="1337.62" width="11.66" height="17.03" fill="#f2b4b8"/>
<rect x="836.47" y="1337.62" width="11.66" height="17.03" fill="#f8dadd"/>
<rect x="847.78" y="1337.62" width="11.66" height="17.03" fill="#cdcdff"/>
<rect x="859.09" y="1337.62" width="11.66" height="17.03" fill="#e4e4fc"/>
<rect x="870.39" y="1337.62" width="11.66" height="17.03" fill="#e4e4fc"/>
<rect x="881.70" y="1337.62" width="11.66" height="17.03" fill="#f2b4b8"/>
<rect x="893.01" y="1337.62" width="11.66" height="17.03" fill="#b2b2ff"/>
<rect x="904.32" y="1337.62" width="11.66" height="17.03" fill="#e4e4fc"/>
<rect x="915.62" y="1337.62" width="11.66" height="17.03" fill="#cdcdff"/>
<rect x="926.93" y="1337.62" width="11.66" height="17.03" fill="#cdcdff"/>
<rect x="938.24" y="1337.62" width="11.66" height="17.03" fill="#e4e4fc"/>
<rect x="949.54" y="1337.62" width="11.66" height="17.03" fill="#f2b4b8"/>
<rect x="960.85" y="1337.62" width="11.66" height="17.03" fill="#e4e4fc"/>
<rect x="972.16" y="1337.62" width="11.66" height="17.03" fill="#cdcdff"/>
<rect x="983.46" y="1337.62" width="11.66" height="17.03" fill="#cdcdff"/>
<rect x="994.77" y="1337.62" width="11.66" height="17.03" fill="#f7f7fc"/>
<rect x="1006.08" y="1337.62" width="11.66" height="17.03" fill="#f7f7fc"/>
<rect x="1017.39" y="1337.62" width="11.66" height="17.03" fill="#f2b4b8"/>
<rect x="1028.69" y="1337.62" width="11.66" height="17.03" fill="#f8dadd"/>
<rect x="1040.00" y="1337.62" width="11.66" height="17.03" fill="#f7f7fc"/>
<rect x="1051.31" y="1337.62" width="11.66" height="17.03" fill="#f2565d"/>
<rect x="1062.61" y="1337.62" width="11.66" height="17.03" fill="#f7f7fc"/>
<rect x="1073.92" y="1337.62" width="11.66" height="17.03" fill="#f7f7fc"/>
<rect x="1085.23" y="1337.62" width="11.66" height="17.03" fill="#f7f7fc"/>
<rect x="1096.53" y="1337.62" width="11.66" height="17.03" fill="#f7f7fc"/>
<rect x="1107.84" y="1337.62" width="11.66" height="17.03" fill="#e4e4fc"/>
<rect x="1119.15" y="1337.62" width="11.66" height="17.03" fill="#f8dadd"/>
<rect x="1130.46" y="1337.62" width="11.66" height="17.03" fill="#f7f7fc"/>
<rect x="1141.76" y="1337.62" width="11.66" height="17.03" fill="#ef888e"/>
<rect x="1153.07" y="1337.62" width="11.66" height="17.03" fill="#f7f7fc"/>
<rect x="1164.38" y="1337.62" width="11.66" height="17.03" fill="#f8dadd"/>
<rect x="1175.68" y="1337.62" width="11.66" height="17.03" fill="#ef888e"/>
<rect x="1186.99" y="1337.62" width="11.66" height="17.03" fill="#f7f7fc"/>
<rect x="1198.30" y="1337.62" width="11.66" height="17.03" fill="#f2b4b8"/>
<rect x="1209.61" y="1337.62" width="11.66" height="17.03" fill="#f8dadd"/>
<rect x="1220.91" y="1337.62" width="11.66" height="17.03" fill="#f8dadd"/>
<rect x="1232.22" y="1337.62" width="11.66" height="17.03" fill="#f8dadd"/>
<rect x="1243.53" y="1337.62" width="11.66" height="17.03" fill="#f8dadd"/>
<rect x="1254.83" y="1337.62" width="11.66" height="17.03" fill="#f8dadd"/>
<rect x="1266.14" y="1337.62" width="8.51" height="17.03" fill="#f2b4b8"/>
<rect x="474.65" y="1354.30" width="11.66" height="17.03" fill="#cdcdff"/>
<rect x="485.96" y="1354.30" width="11.66" height="17.03" fill="#f7f7fc"/>
<rect x="497.26" y="1354.30" width="11.66" height="17.03" fill="#1900ff"/>
<rect x="508.57" y="1354.30" width="11.66" height="17.03" fill="#f7f7fc"/>
<rect x="519.88" y="1354.30" width="11.66" height="17.03" fill="#e4e4fc"/>
<rect x="531.18" y="1354.30" width="11.66" height="17.03" fill="#f7f7fc"/>
<rect x="542.49" y="1354.30" width="11.66" height="17.03" fill="#1900ff"/>
<rect x="553.80" y="1354.30" width="11.66" height="17.03" fill="#1900ff"/>
<rect x="565.11" y="1354.30" width="11.66" height="17.03" fill="#f7f7fc"/>
<rect x="576.41" y="1354.30" width="11.66" height="17.03" fill="#e4e4fc"/>
<rect x="587.72" y="1354.30" width="11.66" height="17.03" fill="#f7f7fc"/>
<rect x="599.03" y="1354.30" width="11.66" height="17.03" fill="#f8dadd"/>
<rect x="610.33" y="1354.30" width="11.66" height="17.03" fill="#f7f7fc"/>
<rect x="621.64" y="1354.30" width="11.66" height="17.03" fill="#e4e4fc"/>
<rect x="632.95" y="1354.30" width="11.66" height="17.03" fill="#cdcdff"/>
<rect x="644.25" y="1354.30" width="11.66" height="17.03" fill="#ef888e"/>
<rect x="655.56" y="1354.30" width="11.66" height="17.03" fill="#f8dadd"/>
<rect x="666.87" y="1354.30" width="11.66" height="17.03" fill="#cdcdff"/>
<rect x="678.18" y="1354.30" width="11.66" height="17.03" fill="#f7f7fc"/>
<rect x="689.48" y="1354.30" width="11.66" height="17.03" fill="#e4e4fc"/>
<rect x="700.79" y="1354.30" width="11.66" height="17.03" fill="#cdcdff"/>
<rect x="712.10" y="1354.30" width="11.66" height="17.03" fill="#f8dadd"/>
<rect x="723.40" y="1354.30" width="11.66" height="17.03" fill="#ef888e"/>
<rect x="734.71" y="1354.30" width="11.66" height="17.03" fill="#ef888e"/>
<rect x="746.02" y="1354.30" width="11.66" height="17.03" fill="#e4e4fc"/>
<rect x="757.33" y="1354.30" width="11.66" height="17.03" fill="#e4e4fc"/>
<rect x="768.63" y="1354.30" width="11.66" height="17.03" fill="#ef888e"/>
<rect x="779.94" y="1354.30" width="11.66" height="17.03" fill="#e4e4fc"/>
<rect x="791.25" y="1354.30" width="11.66" height="17.03" fill="#ef888e"/>
<rect x="802.55" y="1354.30" width="11.66" height="17.03" fill="#e4e4fc"/>
<rect x="813.86" y="1354.30" width="11.66" height="17.03" fill="#f7f7fc"/>
<rect x="825.17" y="1354.30" width="11.66" height="17.03" fill="#e4e4fc"/>
<rect x="836.47" y="1354.30" width="11.66" height="17.03" fill="#ef888e"/>
<rect x="847.78" y="1354.30" width="11.66" height="17.03" fill="#ef888e"/>
<rect x="859.09" y="1354.30" width="11.66" height="17.03" fill="#ef888e"/>
<rect x="870.39" y="1354.30" width="11.66" height="17.03" fill="#f7f7fc"/>
<rect x="881.70" y="1354.30" width="11.66" height="17.03" fill="#e4e4fc"/>
<rect x="893.01" y="1354.30" width="11.66" height="17.03" fill="#f7f7fc"/>
<rect x="904.32" y="1354.30" width="11.66" height="17.03" fill="#e4e4fc"/>
<rect x="915.62" y="1354.30" width="11.66" height="17.03" fill="#f7f7fc"/>
<rect x="926.93" y="1354.30" width="11.66" height="17.03" fill="#ef888e"/>
<rect x="938.24" y="1354.30" width="11.66" height="17.03" fill="#f8dadd"/>
<rect x="949.54" y="1354.30" width="11.66" height="17.03" fill="#f2b4b8"/>
<rect x="960.85" y="1354.30" width="11.66" height="17.03" fill="#ef888e"/>
<rect x="972.16" y="1354.30" width="11.66" height="17.03" fill="#f2b4b8"/>
<rect x="983.46" y="1354.30" width="11.66" height="17.03" fill="#f2b4b8"/>
<rect x="994.77" y="1354.30" width="11.66" height="17.03" fill="#f8dadd"/>
<rect x="1006.08" y="1354.30" width="11.66" height="17.03" fill="#f8dadd"/>
<rect x="1017.39" y="1354.30" width="11.66" height="17.03" fill="#ef888e"/>
<rect x="1028.69" y="1354.30" width="11.66" height="17.03" fill="#f7f7fc"/>
<rect x="1040.00" y="1354.30" width="11.66" height="17.03" fill="#f7f7fc"/>
<rect x="1051.31" y="1354.30" width="11.66" height="17.03" fill="#f2b4b8"/>
<rect x="1062.61" y="1354.30" width="11.66" height="17.03" fill="#ef888e"/>
<rect x="1073.92" y="1354.30" width="11.66" height="17.03" fill="#ef888e"/>
<rect x="1085.23" y="1354.30" width="11.66" height="17.03" fill="#ef888e"/>
<rect x="1096.53" y="1354.30" width="11.66" height="17.03" fill="#ef888e"/>
<rect x="1107.84" y="1354.30" width="11.66" height="17.03" fill="#f2565d"/>
<rect x="1119.15" y="1354.30" width="11.66" height="17.03" fill="#ef888e"/>
<rect x="1130.46" y="1354.30" width="11.66" height="17.03" fill="#ef888e"/>
<rect x="1141.76" y="1354.30" width="11.66" height="17.03" fill="#ef888e"/>
<rect x="1153.07" y="1354.30" width="11.66" height="17.03" fill="#f2b4b8"/>
<rect x="1164.38" y="1354.30" width="11.66" height="17.03" fill="#f2b4b8"/>
<rect x="1175.68" y="1354.30" width="11.66" height="17.03" fill="#ef888e"/>
<rect x="1186.99" y="1354.30" width="11.66" height="17.03" fill="#f2b4b8"/>
<rect x="1198.30" y="1354.30" width="11.66" height="17.03" fill="#f2b4b8"/>
<rect x="1209.61" y="1354.30" width="11.66" height="17.03" fill="#ef888e"/>
<rect x="1220.91" y="1354.30" width="11.66" height="17.03" fill="#f7f7fc"/>
<rect x="1232.22" y="1354.30" width="11.66" height="17.03" fill="#ef888e"/>
<rect x="1243.53" y="1354.30" width="11.66" height="17.03" fill="#f2b4b8"/>
<rect x="1254.83" y="1354.30" width="11.66" height="17.03" fill="#ef888e"/>
<rect x="1266.14" y="1354.30" width="8.51" height="17.03" fill="#f8dadd"/>
<rect x="474.65" y="1370.98" width="11.66" height="17.03" fill="#b2b2ff"/>
<rect x="485.96" y="1370.98" width="11.66" height="17.03" fill="#e4e4fc"/>
<rect x="497.26" y="1370.98" width="11.66" height="17.03" fill="#1900ff"/>
<rect x="508.57" y="1370.98" width="11.66" height="17.03" fill="#1900ff"/>
<rect x="519.88" y="1370.98" width="11.66" height="17.03" fill="#1900ff"/>
<rect x="531.18" y="1370.98" width="11.66" height="17.03" fill="#1900ff"/>
<rect x="542.49" y="1370.98" width="11.66" height="17.03" fill="#1900ff"/>
<rect x="553.80" y="1370.98" width="11.66" height="17.03" fill="#1900ff"/>
<rect x="565.11" y="1370.98" width="11.66" height="17.03" fill="#cdcdff"/>
<rect x="576.41" y="1370.98" width="11.66" height="17.03" fill="#e4e4fc"/>
<rect x="587.72" y="1370.98" width="11.66" height="17.03" fill="#cdcdff"/>
<rect x="599.03" y="1370.98" width="11.66" height="17.03" fill="#e4e4fc"/>
<rect x="610.33" y="1370.98" width="11.66" height="17.03" fill="#e4e4fc"/>
<rect x="621.64" y="1370.98" width="11.66" height="17.03" fill="#cdcdff"/>
<rect x="632.95" y="1370.98" width="11.66" height="17.03" fill="#1900ff"/>
<rect x="644.25" y="1370.98" width="11.66" height="17.03" fill="#cdcdff"/>
<rect x="655.56" y="1370.98" width="11.66" height="17.03" fill="#ef888e"/>
<rect x="666.87" y="1370.98" width="11.66" height="17.03" fill="#cdcdff"/>
<rect x="678.18" y="1370.98" width="11.66" height="17.03" fill="#f7f7fc"/>
<rect x="689.48" y="1370.98" width="11.66" height="17.03" fill="#cdcdff"/>
<rect x="700.79" y="1370.98" width="11.66" height="17.03" fill="#f7f7fc"/>
<rect x="712.10" y="1370.98" width="11.66" height="17.03" fill="#f2b4b8"/>
<rect x="723.40" y="1370.98" width="11.66" height="17.03" fill="#ef888e"/>
<rect x="734.71" y="1370.98" width="11.66" height="17.03" fill="#e4e4fc"/>
<rect x="746.02" y="1370.98" width="11.66" height="17.03" fill="#e4e4fc"/>
<rect x="757.33" y="1370.98" width="11.66" height="17.03" fill="#ef888e"/>
<rect x="768.63" y="1370.98" width="11.66" height="17.03" fill="#f2565d"/>
<rect x="779.94" y="1370.98" width="11.66" height="17.03" fill="#ef888e"/>
<rect x="791.25" y="1370.98" width="11.66" height="17.03" fill="#f7f7fc"/>
<rect x="802.55" y="1370.98" width="11.66" height="17.03" fill="#e4e4fc"/>
<rect x="813.86" y="1370.98" width="11.66" height="17.03" fill="#cdcdff"/>
<rect x="825.17" y="1370.98" width="11.66" height="17.03" fill="#f2b4b8"/>
<rect x="836.47" y="1370.98" width="11.66" height="17.03" fill="#f2565d"/>
<rect x="847.78" y="1370.98" width="11.66" height="17.03" fill="#ff2014"/>
<rect x="859.09" y="1370.98" width="11.66" height="17.03" fill="#f7f7fc"/>
<rect x="870.39" y="1370.98" width="11.66" height="17.03" fill="#ff2014"/>
<rect x="881.70" y="1370.98" width="11.66" height="17.03" fill="#ef888e"/>
<rect x="893.01" y="1370.98" width="11.66" height="17.03" fill="#cdcdff"/>
<rect x="904.32" y="1370.98" width="11.66" height="17.03" fill="#cdcdff"/>
<rect x="915.62" y="1370.98" width="11.66" height="17.03" fill="#e4e4fc"/>
<rect x="926.93" y="1370.98" width="11.66" height="17.03" fill="#cdcdff"/>
<rect x="938.24" y="1370.98" width="11.66" height="17.03" fill="#f7f7fc"/>
<rect x="949.54" y="1370.98" width="11.66" height="17.03" fill="#cdcdff"/>
<rect x="960.85" y="1370.98" width="11.66" height="17.03" fill="#f2565d"/>
<rect x="972.16" y="1370.98" width="11.66" height="17.03" fill="#f2565d"/>
<rect x="983.46" y="1370.98" width="11.66" height="17.03" fill="#b2b2ff"/>
<rect x="994.77" y="1370.98" width="11.66" height="17.03" fill="#f8dadd"/>
<rect x="1006.08" y="1370.98" width="11.66" height="17.03" fill="#cdcdff"/>
<rect x="1017.39" y="1370.98" width="11.66" height="17.03" fill="#cdcdff"/>
<rect x="1028.69" y="1370.98" width="11.66" height="17.03" fill="#f2b4b8"/>
<rect x="1040.00" y="1370.98" width="11.66" height="17.03" fill="#ef888e"/>
<rect x="1051.31" y="1370.98" width="11.66" height="17.03" fill="#f8dadd"/>
<rect x="1062.61" y="1370.98" width="11.66" height="17.03" fill="#f2565d"/>
<rect x="1073.92" y="1370.98" width="11.66" height="17.03" fill="#f2b4b8"/>
<rect x="1085.23" y="1370.98" width="11.66" height="17.03" fill="#f2b4b8"/>
<rect x="1096.53" y="1370.98" width="11.66" height="17.03" fill="#f2565d"/>
<rect x="1107.84" y="1370.98" width="11.66" height="17.03" fill="#ef888e"/>
<rect x="1119.15" y="1370.98" width="11.66" height="17.03" fill="#ef888e"/>
<rect x="1130.46" y="1370.98" width="11.66" height="17.03" fill="#ef888e"/>
<rect x="1141.76" y="1370.98" width="11.66" height="17.03" fill="#e4e4fc"/>
<rect x="1153.07" y="1370.98" width="11.66" height="17.03" fill="#ef888e"/>
<rect x="1164.38" y="1370.98" width="11.66" height="17.03" fill="#ef888e"/>
<rect x="1175.68" y="1370.98" width="11.66" height="17.03" fill="#f2565d"/>
<rect x="1186.99" y="1370.98" width="11.66" height="17.03" fill="#f2b4b8"/>
<rect x="1198.30" y="1370.98" width="11.66" height="17.03" fill="#f2b4b8"/>
<rect x="1209.61" y="1370.98" width="11.66" height="17.03" fill="#cdcdff"/>
<rect x="1220.91" y="1370.98" width="11.66" height="17.03" fill="#f2b4b8"/>
<rect x="1232.22" y="1370.98" width="11.66" height="17.03" fill="#ef888e"/>
<rect x="1243.53" y="1370.98" width="11.66" height="17.03" fill="#ff2014"/>
<rect x="1254.83" y="1370.98" width="11.66" height="17.03" fill="#f8dadd"/>
<rect x="1266.14" y="1370.98" width="8.51" height="17.03" fill="#ef888e"/>
<rect x="474.65" y="1387.66" width="11.66" height="17.03" fill="#cdcdff"/>
<rect x="485.96" y="1387.66" width="11.66" height="17.03" fill="#b2b2ff"/>
<rect x="497.26" y="1387.66" width="11.66" height="17.03" fill="#1900ff"/>
<rect x="508.57" y="1387.66" width="11.66" height="17.03" fill="#1900ff"/>
<rect x="519.88" y="1387.66" width="11.66" height="17.03" fill="#1900ff"/>
<rect x="531.18" y="1387.66" width="11.66" height="17.03" fill="#b2b2ff"/>
<rect x="542.49" y="1387.66" width="11.66" height="17.03" fill="#1900ff"/>
<rect x="553.80" y="1387.66" width="11.66" height="17.03" fill="#1900ff"/>
<rect x="565.11" y="1387.66" width="11.66" height="17.03" fill="#1900ff"/>
<rect x="576.41" y="1387.66" width="11.66" height="17.03" fill="#1900ff"/>
<rect x="587.72" y="1387.66" width="11.66" height="17.03" fill="#cdcdff"/>
<rect x="599.03" y="1387.66" width="11.66" height="17.03" fill="#1900ff"/>
<rect x="610.33" y="1387.66" width="11.66" height="17.03" fill="#1900ff"/>
<rect x="621.64" y="1387.66" width="11.66" height="17.03" fill="#cdcdff"/>
<rect x="632.95" y="1387.66" width="11.66" height="17.03" fill="#f7f7fc"/>
<rect x="644.25" y="1387.66" width="11.66" height="17.03" fill="#e4e4fc"/>
<rect x="655.56" y="1387.66" width="11.66" height="17.03" fill="#1900ff"/>
<rect x="666.87" y="1387.66" width="11.66" height="17.03" fill="#1900ff"/>
<rect x="678.18" y="1387.66" width="11.66" height="17.03" fill="#1900ff"/>
<rect x="689.48" y="1387.66" width="11.66" height="17.03" fill="#e4e4fc"/>
<rect x="700.79" y="1387.66" width="11.66" height="17.03" fill="#e4e4fc"/>
<rect x="712.10" y="1387.66" width="11.66" height="17.03" fill="#f8dadd"/>
<rect x="723.40" y="1387.66" width="11.66" height="17.03" fill="#f8dadd"/>
<rect x="734.71" y="1387.66" width="11.66" height="17.03" fill="#f8dadd"/>
<rect x="746.02" y="1387.66" width="11.66" height="17.03" fill="#e4e4fc"/>
<rect x="757.33" y="1387.66" width="11.66" height="17.03" fill="#f8dadd"/>
<rect x="768.63" y="1387.66" width="11.66" height="17.03" fill="#f8dadd"/>
<rect x="779.94" y="1387.66" width="11.66" height="17.03" fill="#f7f7fc"/>
<rect x="791.25" y="1387.66" width="11.66" height="17.03" fill="#e4e4fc"/>
<rect x="802.55" y="1387.66" width="11.66" height="17.03" fill="#f8dadd"/>
<rect x="813.86" y="1387.66" width="11.66" height="17.03" fill="#f7f7fc"/>
<rect x="825.17" y="1387.66" width="11.66" height="17.03" fill="#f8dadd"/>
<rect x="836.47" y="1387.66" width="11.66" height="17.03" fill="#ef888e"/>
<rect x="847.78" y="1387.66" width="11.66" height="17.03" fill="#f7f7fc"/>
<rect x="859.09" y="1387.66" width="11.66" height="17.03" fill="#cdcdff"/>
<rect x="870.39" y="1387.66" width="11.66" height="17.03" fill="#f7f7fc"/>
<rect x="881.70" y="1387.66" width="11.66" height="17.03" fill="#f8dadd"/>
<rect x="893.01" y="1387.66" width="11.66" height="17.03" fill="#f7f7fc"/>
<rect x="904.32" y="1387.66" width="11.66" height="17.03" fill="#e4e4fc"/>
<rect x="915.62" y="1387.66" width="11.66" height="17.03" fill="#f7f7fc"/>
<rect x="926.93" y="1387.66" width="11.66" height="17.03" fill="#e4e4fc"/>
<rect x="938.24" y="1387.66" width="11.66" height="17.03" fill="#ef888e"/>
<rect x="949.54" y="1387.66" width="11.66" height="17.03" fill="#ef888e"/>
<rect x="960.85" y="1387.66" width="11.66" height="17.03" fill="#f8dadd"/>
<rect x="972.16" y="1387.66" width="11.66" height="17.03" fill="#e4e4fc"/>
<rect x="983.46" y="1387.66" width="11.66" height="17.03" fill="#e4e4fc"/>
<rect x="994.77" y="1387.66" width="11.66" height="17.03" fill="#f7f7fc"/>
<rect x="1006.08" y="1387.66" width="11.66" height="17.03" fill="#ef888e"/>
<rect x="1017.39" y="1387.66" width="11.66" height="17.03" fill="#f8dadd"/>
<rect x="1028.69" y="1387.66" width="11.66" height="17.03" fill="#f8dadd"/>
<rect x="1040.00" y="1387.66" width="11.66" height="17.03" fill="#f2b4b8"/>
<rect x="1051.31" y="1387.66" width="11.66" height="17.03" fill="#f2b4b8"/>
<rect x="1062.61" y="1387.66" width="11.66" height="17.03" fill="#f7f7fc"/>
<rect x="1073.92" y="1387.66" width="11.66" height="17.03" fill="#f8dadd"/>
<rect x="1085.23" y="1387.66" width="11.66" height="17.03" fill="#f2b4b8"/>
<rect x="1096.53" y="1387.66" width="11.66" height="17.03" fill="#f2b4b8"/>
<rect x="1107.84" y="1387.66" width="11.66" height="17.03" fill="#ef888e"/>
<rect x="1119.15" y="1387.66" width="11.66" height="17.03" fill="#f8dadd"/>
<rect x="1130.46" y="1387.66" width="11.66" height="17.03" fill="#f8dadd"/>
<rect x="1141.76" y="1387.66" width="11.66" height="17.03" fill="#f2b4b8"/>
<rect x="1153.07" y="1387.66" width="11.66" height="17.03" fill="#f2b4b8"/>
<rect x="1164.38" y="1387.66" width="11.66" height="17.03" fill="#f2b4b8"/>
<rect x="1175.68" y="1387.66" width="11.66" height="17.03" fill="#ef888e"/>
<rect x="1186.99" y="1387.66" width="11.66" height="17.03" fill="#e4e4fc"/>
<rect x="1198.30" y="1387.66" width="11.66" height="17.03" fill="#f2b4b8"/>
<rect x="1209.61" y="1387.66" width="11.66" height="17.03" fill="#f7f7fc"/>
<rect x="1220.91" y="1387.66" width="11.66" height="17.03" fill="#f2b4b8"/>
<rect x="1232.22" y="1387.66" width="11.66" height="17.03" fill="#f7f7fc"/>
<rect x="1243.53" y="1387.66" width="11.66" height="17.03" fill="#ef888e"/>
<rect x="1254.83" y="1387.66" width="11.66" height="17.03" fill="#ef888e"/>
<rect x="1266.14" y="1387.66" width="8.51" height="17.03" fill="#f2b4b8"/>
<rect x="474.65" y="1404.34" width="11.66" height="17.03" fill="#1900ff"/>
<rect x="485.96" y="1404.34" width="11.66" height="17.03" fill="#1900ff"/>
<rect x="497.26" y="1404.34" width="11.66" height="17.03" fill="#b2b2ff"/>
<rect x="508.57" y="1404.34" width="11.66" height="17.03" fill="#1900ff"/>
<rect x="519.88" y="1404.34" width="11.66" height="17.03" fill="#cdcdff"/>
<rect x="531.18" y="1404.34" width="11.66" height="17.03" fill="#b2b2ff"/>
<rect x="542.49" y="1404.34" width="11.66" height="17.03" fill="#1900ff"/>
<rect x="553.80" y="1404.34" width="11.66" height="17.03" fill="#1900ff"/>
<rect x="565.11" y="1404.34" width="11.66" height="17.03" fill="#1900ff"/>
<rect x="576.41" y="1404.34" width="11.66" height="17.03" fill="#1900ff"/>
<rect x="587.72" y="1404.34" width="11.66" height="17.03" fill="#1900ff"/>
<rect x="599.03" y="1404.34" width="11.66" height="17.03" fill="#1900ff"/>
<rect x="610.33" y="1404.34" width="11.66" height="17.03" fill="#1900ff"/>
<rect x="621.64" y="1404.34" width="11.66" height="17.03" fill="#1900ff"/>
<rect x="632.95" y="1404.34" width="11.66" height="17.03" fill="#1900ff"/>
<rect x="644.25" y="1404.34" width="11.66" height="17.03" fill="#f7f7fc"/>
<rect x="655.56" y="1404.34" width="11.66" height="17.03" fill="#b2b2ff"/>
<rect x="666.87" y="1404.34" width="11.66" height="17.03" fill="#b2b2ff"/>
<rect x="678.18" y="1404.34" width="11.66" height="17.03" fill="#cdcdff"/>
<rect x="689.48" y="1404.34" width="11.66" height="17.03" fill="#e4e4fc"/>
<rect x="700.79" y="1404.34" width="11.66" height="17.03" fill="#cdcdff"/>
<rect x="712.10" y="1404.34" width="11.66" height="17.03" fill="#b2b2ff"/>
<rect x="723.40" y="1404.34" width="11.66" height="17.03" fill="#f7f7fc"/>
<rect x="734.71" y="1404.34" width="11.66" height="17.03" fill="#f2b4b8"/>
<rect x="746.02" y="1404.34" width="11.66" height="17.03" fill="#e4e4fc"/>
<rect x="757.33" y="1404.34" width="11.66" height="17.03" fill="#cdcdff"/>
<rect x="768.63" y="1404.34" width="11.66" height="17.03" fill="#e4e4fc"/>
<rect x="779.94" y="1404.34" width="11.66" height="17.03" fill="#cdcdff"/>
<rect x="791.25" y="1404.34" width="11.66" height="17.03" fill="#e4e4fc"/>
<rect x="802.55" y="1404.34" width="11.66" height="17.03" fill="#b2b2ff"/>
<rect x="813.86" y="1404.34" width="11.66" height="17.03" fill="#cdcdff"/>
<rect x="825.17" y="1404.34" width="11.66" height="17.03" fill="#cdcdff"/>
<rect x="836.47" y="1404.34" width="11.66" height="17.03" fill="#f7f7fc"/>
<rect x="847.78" y="1404.34" width="11.66" height="17.03" fill="#e4e4fc"/>
<rect x="859.09" y="1404.34" width="11.66" height="17.03" fill="#cdcdff"/>
<rect x="870.39" y="1404.34" width="11.66" height="17.03" fill="#e4e4fc"/>
<rect x="881.70" y="1404.34" width="11.66" height="17.03" fill="#cdcdff"/>
<rect x="893.01" y="1404.34" width="11.66" height="17.03" fill="#b2b2ff"/>
<rect x="904.32" y="1404.34" width="11.66" height="17.03" fill="#cdcdff"/>
<rect x="915.62" y="1404.34" width="11.66" height="17.03" fill="#e4e4fc"/>
<rect x="926.93" y="1404.34" width="11.66" height="17.03" fill="#e4e4fc"/>
<rect x="938.24" y="1404.34" width="11.66" height="17.03" fill="#f8dadd"/>
<rect x="949.54" y="1404.34" width="11.66" height="17.03" fill="#f8dadd"/>
<rect x="960.85" y="1404.34" width="11.66" height="17.03" fill="#e4e4fc"/>
<rect x="972.16" y="1404.34" width="11.66" height="17.03" fill="#e4e4fc"/>
<rect x="983.46" y="1404.34" width="11.66" height="17.03" fill="#b2b2ff"/>
<rect x="994.77" y="1404.34" width="11.66" height="17.03" fill="#e4e4fc"/>
<rect x="1006.08" y="1404.34" width="11.66" height="17.03" fill="#e4e4fc"/>
<rect x="1017.39" y="1404.34" width="11.66" height="17.03" fill="#e4e4fc"/>
<rect x="1028.69" y="1404.34" width="11.66" height="17.03" fill="#e4e4fc"/>
<rect x="1040.00" y="1404.34" width="11.66" height="17.03" fill="#e4e4fc"/>
<rect x="1051.31" y="1404.34" width="11.66" height="17.03" fill="#e4e4fc"/>
<rect x="1062.61" y="1404.34" width="11.66" height="17.03" fill="#f7f7fc"/>
<rect x="1073.92" y="1404.34" width="11.66" height="17.03" fill="#f7f7fc"/>
<rect x="1085.23" y="1404.34" width="11.66" height="17.03" fill="#e4e4fc"/>
<rect x="1096.53" y="1404.34" width="11.66" height="17.03" fill="#f7f7fc"/>
<rect x="1107.84" y="1404.34" width="11.66" height="17.03" fill="#f8dadd"/>
<rect x="1119.15" y="1404.34" width="11.66" height="17.03" fill="#e4e4fc"/>
<rect x="1130.46" y="1404.34" width="11.66" height="17.03" fill="#f8dadd"/>
<rect x="1141.76" y="1404.34" width="11.66" height="17.03" fill="#f8dadd"/>
<rect x="1153.07" y="1404.34" width="11.66" height="17.03" fill="#e4e4fc"/>
<rect x="1164.38" y="1404.34" width="11.66" height="17.03" fill="#e4e4fc"/>
<rect x="1175.68" y="1404.34" width="11.66" height="17.03" fill="#f7f7fc"/>
<rect x="1186.99" y="1404.34" width="11.66" height="17.03" fill="#f7f7fc"/>
<rect x="1198.30" y="1404.34" width="11.66" height="17.03" fill="#f7f7fc"/>
<rect x="1209.61" y="1404.34" width="11.66" height="17.03" fill="#f7f7fc"/>
<rect x="1220.91" y="1404.34" width="11.66" height="17.03" fill="#cdcdff"/>
<rect x="1232.22" y="1404.34" width="11.66" height="17.03" fill="#f7f7fc"/>
<rect x="1243.53" y="1404.34" width="11.66" height="17.03" fill="#f7f7fc"/>
<rect x="1254.83" y="1404.34" width="11.66" height="17.03" fill="#f8dadd"/>
<rect x="1266.14" y="1404.34" width="8.51" height="17.03" fill="#e4e4fc"/>
<rect x="474.65" y="1421.02" width="11.66" height="17.03" fill="#1900ff"/>
<rect x="485.96" y="1421.02" width="11.66" height="17.03" fill="#cdcdff"/>
<rect x="497.26" y="1421.02" width="11.66" height="17.03" fill="#cdcdff"/>
<rect x="508.57" y="1421.02" width="11.66" height="17.03" fill="#b2b2ff"/>
<rect x="519.88" y="1421.02" width="11.66" height="17.03" fill="#1900ff"/>
<rect x="531.18" y="1421.02" width="11.66" height="17.03" fill="#b2b2ff"/>
<rect x="542.49" y="1421.02" width="11.66" height="17.03" fill="#1900ff"/>
<rect x="553.80" y="1421.02" width="11.66" height="17.03" fill="#b2b2ff"/>
<rect x="565.11" y="1421.02" width="11.66" height="17.03" fill="#1900ff"/>
<rect x="576.41" y="1421.02" width="11.66" height="17.03" fill="#1900ff"/>
<rect x="587.72" y="1421.02" width="11.66" height="17.03" fill="#1900ff"/>
<rect x="599.03" y="1421.02" width="11.66" height="17.03" fill="#b2b2ff"/>
<rect x="610.33" y="1421.02" width="11.66" height="17.03" fill="#b2b2ff"/>
<rect x="621.64" y="1421.02" width="11.66" height="17.03" fill="#1900ff"/>
<rect x="632.95" y="1421.02" width="11.66" height="17.03" fill="#f8dadd"/>
<rect x="644.25" y="1421.02" width="11.66" height="17.03" fill="#e4e4fc"/>
<rect x="655.56" y="1421.02" width="11.66" height="17.03" fill="#f7f7fc"/>
<rect x="666.87" y="1421.02" width="11.66" height="17.03" fill="#cdcdff"/>
<rect x="678.18" y="1421.02" width="11.66" height="17.03" fill="#b2b2ff"/>
<rect x="689.48" y="1421.02" width="11.66" height="17.03" fill="#f8dadd"/>
<rect x="700.79" y="1421.02" width="11.66" height="17.03" fill="#f8dadd"/>
<rect x="712.10" y="1421.02" width="11.66" height="17.03" fill="#f2565d"/>
<rect x="723.40" y="1421.02" width="11.66" height="17.03" fill="#ef888e"/>
<rect x="734.71" y="1421.02" width="11.66" height="17.03" fill="#f2565d"/>
<rect x="746.02" y="1421.02" width="11.66" height="17.03" fill="#f2b4b8"/>
<rect x="757.33" y="1421.02" width="11.66" height="17.03" fill="#cdcdff"/>
<rect x="768.63" y="1421.02" width="11.66" height="17.03" fill="#f2565d"/>
<rect x="779.94" y="1421.02" width="11.66" height="17.03" fill="#b2b2ff"/>
<rect x="791.25" y="1421.02" width="11.66" height="17.03" fill="#cdcdff"/>
<rect x="802.55" y="1421.02" width="11.66" height="17.03" fill="#b2b2ff"/>
<rect x="813.86" y="1421.02" width="11.66" height="17.03" fill="#e4e4fc"/>
<rect x="825.17" y="1421.02" width="11.66" height="17.03" fill="#e4e4fc"/>
<rect x="836.47" y="1421.02" width="11.66" height="17.03" fill="#e4e4fc"/>
<rect x="847.78" y="1421.02" width="11.66" height="17.03" fill="#e4e4fc"/>
<rect x="859.09" y="1421.02" width="11.66" height="17.03" fill="#e4e4fc"/>
<rect x="870.39" y="1421.02" width="11.66" height="17.03" fill="#1900ff"/>
<rect x="881.70" y="1421.02" width="11.66" height="17.03" fill="#1900ff"/>
<rect x="893.01" y="1421.02" width="11.66" height="17.03" fill="#b2b2ff"/>
<rect x="904.32" y="1421.02" width="11.66" height="17.03" fill="#cdcdff"/>
<rect x="915.62" y="1421.02" width="11.66" height="17.03" fill="#b2b2ff"/>
<rect x="926.93" y="1421.02" width="11.66" height="17.03" fill="#b2b2ff"/>
<rect x="938.24" y="1421.02" width="11.66" height="17.03" fill="#e4e4fc"/>
<rect x="949.54" y="1421.02" width="11.66" height="17.03" fill="#1900ff"/>
<rect x="960.85" y="1421.02" width="11.66" height="17.03" fill="#b2b2ff"/>
<rect x="972.16" y="1421.02" width="11.66" height="17.03" fill="#f2b4b8"/>
<rect x="983.46" y="1421.02" width="11.66" height="17.03" fill="#f7f7fc"/>
<rect x="994.77" y="1421.02" width="11.66" height="17.03" fill="#ef888e"/>
<rect x="1006.08" y="1421.02" width="11.66" height="17.03" fill="#ef888e"/>
<rect x="1017.39" y="1421.02" width="11.66" height="17.03" fill="#e4e4fc"/>
<rect x="1028.69" y="1421.02" width="11.66" height="17.03" fill="#cdcdff"/>
<rect x="1040.00" y="1421.02" width="11.66" height="17.03" fill="#f2565d"/>
<rect x="1051.31" y="1421.02" width="11.66" height="17.03" fill="#f2565d"/>
<rect x="1062.61" y="1421.02" width="11.66" height="17.03" fill="#f2565d"/>
<rect x="1073.92" y="1421.02" width="11.66" height="17.03" fill="#f2565d"/>
<rect x="1085.23" y="1421.02" width="11.66" height="17.03" fill="#ef888e"/>
<rect x="1096.53" y="1421.02" width="11.66" height="17.03" fill="#f2565d"/>
<rect x="1107.84" y="1421.02" width="11.66" height="17.03" fill="#f2565d"/>
<rect x="1119.15" y="1421.02" width="11.66" height="17.03" fill="#f2b4b8"/>
<rect x="1130.46" y="1421.02" width="11.66" height="17.03" fill="#f2565d"/>
<rect x="1141.76" y="1421.02" width="11.66" height="17.03" fill="#f2565d"/>
<rect x="1153.07" y="1421.02" width="11.66" height="17.03" fill="#ef888e"/>
<rect x="1164.38" y="1421.02" width="11.66" height="17.03" fill="#f2b4b8"/>
<rect x="1175.68" y="1421.02" width="11.66" height="17.03" fill="#f2b4b8"/>
<rect x="1186.99" y="1421.02" width="11.66" height="17.03" fill="#f2b4b8"/>
<rect x="1198.30" y="1421.02" width="11.66" height="17.03" fill="#f2565d"/>
<rect x="1209.61" y="1421.02" width="11.66" height="17.03" fill="#f2b4b8"/>
<rect x="1220.91" y="1421.02" width="11.66" height="17.03" fill="#f8dadd"/>
<rect x="1232.22" y="1421.02" width="11.66" height="17.03" fill="#f2565d"/>
<rect x="1243.53" y="1421.02" width="11.66" height="17.03" fill="#f2565d"/>
<rect x="1254.83" y="1421.02" width="11.66" height="17.03" fill="#ef888e"/>
<rect x="1266.14" y="1421.02" width="8.51" height="17.03" fill="#f2b4b8"/>
<rect x="474.65" y="1437.70" width="11.66" height="17.03" fill="#1900ff"/>
<rect x="485.96" y="1437.70" width="11.66" height="17.03" fill="#f7f7fc"/>
<rect x="497.26" y="1437.70" width="11.66" height="17.03" fill="#b2b2ff"/>
<rect x="508.57" y="1437.70" width="11.66" height="17.03" fill="#b2b2ff"/>
<rect x="519.88" y="1437.70" width="11.66" height="17.03" fill="#b2b2ff"/>
<rect x="531.18" y="1437.70" width="11.66" height="17.03" fill="#b2b2ff"/>
<rect x="542.49" y="1437.70" width="11.66" height="17.03" fill="#1900ff"/>
<rect x="553.80" y="1437.70" width="11.66" height="17.03" fill="#1900ff"/>
<rect x="565.11" y="1437.70" width="11.66" height="17.03" fill="#1900ff"/>
<rect x="576.41" y="1437.70" width="11.66" height="17.03" fill="#b2b2ff"/>
<rect x="587.72" y="1437.70" width="11.66" height="17.03" fill="#b2b2ff"/>
<rect x="599.03" y="1437.70" width="11.66" height="17.03" fill="#1900ff"/>
<rect x="610.33" y="1437.70" width="11.66" height="17.03" fill="#b2b2ff"/>
<rect x="621.64" y="1437.70" width="11.66" height="17.03" fill="#b2b2ff"/>
<rect x="632.95" y="1437.70" width="11.66" height="17.03" fill="#b2b2ff"/>
<rect x="644.25" y="1437.70" width="11.66" height="17.03" fill="#cdcdff"/>
<rect x="655.56" y="1437.70" width="11.66" height="17.03" fill="#e4e4fc"/>
<rect x="666.87" y="1437.70" width="11.66" height="17.03" fill="#cdcdff"/>
<rect x="678.18" y="1437.70" width="11.66" height="17.03" fill="#b2b2ff"/>
<rect x="689.48" y="1437.70" width="11.66" height="17.03" fill="#1900ff"/>
<rect x="700.79" y="1437.70" width="11.66" height="17.03" fill="#1900ff"/>
<rect x="712.10" y="1437.70" width="11.66" height="17.03" fill="#1900ff"/>
<rect x="723.40" y="1437.70" width="11.66" height="17.03" fill="#b2b2ff"/>
<rect x="734.71" y="1437.70" width="11.66" height="17.03" fill="#b2b2ff"/>
<rect x="746.02" y="1437.70" width="11.66" height="17.03" fill="#1900ff"/>
<rect x="757.33" y="1437.70" width="11.66" height="17.03" fill="#1900ff"/>
<rect x="768.63" y="1437.70" width="11.66" height="17.03" fill="#1900ff"/>
<rect x="779.94" y="1437.70" width="11.66" height="17.03" fill="#1900ff"/>
<rect x="791.25" y="1437.70" width="11.66" height="17.03" fill="#1900ff"/>
<rect x="802.55" y="1437.70" width="11.66" height="17.03" fill="#1900ff"/>
<rect x="813.86" y="1437.70" width="11.66" height="17.03" fill="#1900ff"/>
<rect x="825.17" y="1437.70" width="11.66" height="17.03" fill="#cdcdff"/>
<rect x="836.47" y="1437.70" width="11.66" height="17.03" fill="#f8dadd"/>
<rect x="847.78" y="1437.70" width="11.66" height="17.03" fill="#cdcdff"/>
<rect x="859.09" y="1437.70" width="11.66" height="17.03" fill="#e4e4fc"/>
<rect x="870.39" y="1437.70" width="11.66" height="17.03" fill="#cdcdff"/>
<rect x="881.70" y="1437.70" width="11.66" height="17.03" fill="#cdcdff"/>
<rect x="893.01" y="1437.70" width="11.66" height="17.03" fill="#b2b2ff"/>
<rect x="904.32" y="1437.70" width="11.66" height="17.03" fill="#b2b2ff"/>
<rect x="915.62" y="1437.70" width="11.66" height="17.03" fill="#e4e4fc"/>
<rect x="926.93" y="1437.70" width="11.66" height="17.03" fill="#e4e4fc"/>
<rect x="938.24" y="1437.70" width="11.66" height="17.03" fill="#f2b4b8"/>
<rect x="949.54" y="1437.70" width="11.66" height="17.03" fill="#e4e4fc"/>
<rect x="960.85" y="1437.70" width="11.66" height="17.03" fill="#cdcdff"/>
<rect x="972.16" y="1437.70" width="11.66" height="17.03" fill="#b2b2ff"/>
<rect x="983.46" y="1437.70" width="11.66" height="17.03" fill="#e4e4fc"/>
<rect x="994.77" y="1437.70" width="11.66" height="17.03" fill="#cdcdff"/>
<rect x="1006.08" y="1437.70" width="11.66" height="17.03" fill="#e4e4fc"/>
<rect x="1017.39" y="1437.70" width="11.66" height="17.03" fill="#e4e4fc"/>
<rect x="1028.69" y="1437.70" width="11.66" height="17.03" fill="#e4e4fc"/>
<rect x="1040.00" y="1437.70" width="11.66" height="17.03" fill="#e4e4fc"/>
<rect x="1051.31" y="1437.70" width="11.66" height="17.03" fill="#e4e4fc"/>
<rect x="1062.61" y="1437.70" width="11.66" height="17.03" fill="#e4e4fc"/>
<rect x="1073.92" y="1437.70" width="11.66" height="17.03" fill="#f7f7fc"/>
<rect x="1085.23" y="1437.70" width="11.66" height="17.03" fill="#e4e4fc"/>
<rect x="1096.53" y="1437.70" width="11.66" height="17.03" fill="#f7f7fc"/>
<rect x="1107.84" y="1437.70" width="11.66" height="17.03" fill="#e4e4fc"/>
<rect x="1119.15" y="1437.70" width="11.66" height="17.03" fill="#cdcdff"/>
<rect x="1130.46" y="1437.70" width="11.66" height="17.03" fill="#b2b2ff"/>
<rect x="1141.76" y="1437.70" width="11.66" height="17.03" fill="#f7f7fc"/>
<rect x="1153.07" y="1437.70" width="11.66" height="17.03" fill="#cdcdff"/>
<rect x="1164.38" y="1437.70" width="11.66" height="17.03" fill="#cdcdff"/>
<rect x="1175.68" y="1437.70" width="11.66" height="17.03" fill="#f8dadd"/>
<rect x="1186.99" y="1437.70" width="11.66" height="17.03" fill="#cdcdff"/>
<rect x="1198.30" y="1437.70" width="11.66" height="17.03" fill="#f7f7fc"/>
<rect x="1209.61" y="1437.70" width="11.66" height="17.03" fill="#f2b4b8"/>
<rect x="1220.91" y="1437.70" width="11.66" height="17.03" fill="#e4e4fc"/>
<rect x="1232.22" y="1437.70" width="11.66" height="17.03" fill="#cdcdff"/>
<rect x="1243.53" y="1437.70" width="11.66" height="17.03" fill="#b2b2ff"/>
<rect x="1254.83" y="1437.70" width="11.66" height="17.03" fill="#f8dadd"/>
<rect x="1266.14" y="1437.70" width="8.51" height="17.03" fill="#f7f7fc"/>
<rect x="474.65" y="1454.38" width="11.66" height="17.03" fill="#1900ff"/>
<rect x="485.96" y="1454.38" width="11.66" height="17.03" fill="#1900ff"/>
<rect x="497.26" y="1454.38" width="11.66" height="17.03" fill="#1900ff"/>
<rect x="508.57" y="1454.38" width="11.66" height="17.03" fill="#1900ff"/>
<rect x="519.88" y="1454.38" width="11.66" height="17.03" fill="#1900ff"/>
<rect x="531.18" y="1454.38" width="11.66" height="17.03" fill="#1900ff"/>
<rect x="542.49" y="1454.38" width="11.66" height="17.03" fill="#1900ff"/>
<rect x="553.80" y="1454.38" width="11.66" height="17.03" fill="#1900ff"/>
<rect x="565.11" y="1454.38" width="11.66" height="17.03" fill="#1900ff"/>
<rect x="576.41" y="1454.38" width="11.66" height="17.03" fill="#1900ff"/>
<rect x="587.72" y="1454.38" width="11.66" height="17.03" fill="#1900ff"/>
<rect x="599.03" y="1454.38" width="11.66" height="17.03" fill="#1900ff"/>
<rect x="610.33" y="1454.38" width="11.66" height="17.03" fill="#1900ff"/>
<rect x="621.64" y="1454.38" width="11.66" height="17.03" fill="#b2b2ff"/>
<rect x="632.95" y="1454.38" width="11.66" height="17.03" fill="#cdcdff"/>
<rect x="644.25" y="1454.38" width="11.66" height="17.03" fill="#cdcdff"/>
<rect x="655.56" y="1454.38" width="11.66" height="17.03" fill="#b2b2ff"/>
<rect x="666.87" y="1454.38" width="11.66" height="17.03" fill="#1900ff"/>
<rect x="678.18" y="1454.38" width="11.66" height="17.03" fill="#1900ff"/>
<rect x="689.48" y="1454.38" width="11.66" height="17.03" fill="#cdcdff"/>
<rect x="700.79" y="1454.38" width="11.66" height="17.03" fill="#cdcdff"/>
<rect x="712.10" y="1454.38" width="11.66" height="17.03" fill="#e4e4fc"/>
<rect x="723.40" y="1454.38" width="11.66" height="17.03" fill="#e4e4fc"/>
<rect x="734.71" y="1454.38" width="11.66" height="17.03" fill="#e4e4fc"/>
<rect x="746.02" y="1454.38" width="11.66" height="17.03" fill="#cdcdff"/>
<rect x="757.33" y="1454.38" width="11.66" height="17.03" fill="#cdcdff"/>
<rect x="768.63" y="1454.38" width="11.66" height="17.03" fill="#f7f7fc"/>
<rect x="779.94" y="1454.38" width="11.66" height="17.03" fill="#1900ff"/>
<rect x="791.25" y="1454.38" width="11.66" height="17.03" fill="#1900ff"/>
<rect x="802.55" y="1454.38" width="11.66" height="17.03" fill="#1900ff"/>
<rect x="813.86" y="1454.38" width="11.66" height="17.03" fill="#1900ff"/>
<rect x="825.17" y="1454.38" width="11.66" height="17.03" fill="#1900ff"/>
<rect x="836.47" y="1454.38" width="11.66" height="17.03" fill="#1900ff"/>
<rect x="847.78" y="1454.38" width="11.66" height="17.03" fill="#1900ff"/>
<rect x="859.09" y="1454.38" width="11.66" height="17.03" fill="#1900ff"/>
<rect x="870.39" y="1454.38" width="11.66" height="17.03" fill="#1900ff"/>
<rect x="881.70" y="1454.38" width="11.66" height="17.03" fill="#1900ff"/>
<rect x="893.01" y="1454.38" width="11.66" height="17.03" fill="#1900ff"/>
<rect x="904.32" y="1454.38" width="11.66" height="17.03" fill="#1900ff"/>
<rect x="915.62" y="1454.38" width="11.66" height="17.03" fill="#1900ff"/>
<rect x="926.93" y="1454.38" width="11.66" height="17.03" fill="#1900ff"/>
<rect x="938.24" y="1454.38" width="11.66" height="17.03" fill="#1900ff"/>
<rect x="949.54" y="1454.38" width="11.66" height="17.03" fill="#1900ff"/>
<rect x="960.85" y="1454.38" width="11.66" height="17.03" fill="#1900ff"/>
<rect x="972.16" y="1454.38" width="11.66" height="17.03" fill="#f7f7fc"/>
<rect x="983.46" y="1454.38" width="11.66" height="17.03" fill="#b2b2ff"/>
<rect x="994.77" y="1454.38" width="11.66" height="17.03" fill="#e4e4fc"/>
<rect x="1006.08" y="1454.38" width="11.66" height="17.03" fill="#e4e4fc"/>
<rect x="1017.39" y="1454.38" width="11.66" height="17.03" fill="#b2b2ff"/>
<rect x="1028.69" y="1454.38" width="11.66" height="17.03" fill="#b2b2ff"/>
<rect x="1040.00" y="1454.38" width="11.66" height="17.03" fill="#e4e4fc"/>
<rect x="1051.31" y="1454.38" width="11.66" height="17.03" fill="#f2b4b8"/>
<rect x="1062.61" y="1454.38" width="11.66" height="17.03" fill="#f8dadd"/>
<rect x="1073.92" y="1454.38" width="11.66" height="17.03" fill="#f8dadd"/>
<rect x="1085.23" y="1454.38" width="11.66" height="17.03" fill="#e4e4fc"/>
<rect x="1096.53" y="1454.38" width="11.66" height="17.03" fill="#e4e4fc"/>
<rect x="1107.84" y="1454.38" width="11.66" height="17.03" fill="#f8dadd"/>
<rect x="1119.15" y="1454.38" width="11.66" height="17.03" fill="#e4e4fc"/>
<rect x="1130.46" y="1454.38" width="11.66" height="17.03" fill="#f7f7fc"/>
<rect x="1141.76" y="1454.38" width="11.66" height="17.03" fill="#f8dadd"/>
<rect x="1153.07" y="1454.38" width="11.66" height="17.03" fill="#e4e4fc"/>
<rect x="1164.38" y="1454.38" width="11.66" height="17.03" fill="#e4e4fc"/>
<rect x="1175.68" y="1454.38" width="11.66" height="17.03" fill="#e4e4fc"/>
<rect x="1186.99" y="1454.38" width="11.66" height="17.03" fill="#cdcdff"/>
<rect x="1198.30" y="1454.38" width="11.66" height="17.03" fill="#f8dadd"/>
<rect x="1209.61" y="1454.38" width="11.66" height="17.03" fill="#e4e4fc"/>
<rect x="1220.91" y="1454.38" width="11.66" height="17.03" fill="#cdcdff"/>
<rect x="1232.22" y="1454.38" width="11.66" height="17.03" fill="#f8dadd"/>
<rect x="1243.53" y="1454.38" width="11.66" height="17.03" fill="#f8dadd"/>
<rect x="1254.83" y="1454.38" width="11.66" height="17.03" fill="#e4e4fc"/>
<rect x="1266.14" y="1454.38" width="8.51" height="17.03" fill="#cdcdff"/>
<rect x="474.65" y="1471.06" width="11.66" height="17.03" fill="#ef888e"/>
<rect x="485.96" y="1471.06" width="11.66" height="17.03" fill="#f8dadd"/>
<rect x="497.26" y="1471.06" width="11.66" height="17.03" fill="#e4e4fc"/>
<rect x="508.57" y="1471.06" width="11.66" height="17.03" fill="#f2b4b8"/>
<rect x="519.88" y="1471.06" width="11.66" height="17.03" fill="#f8dadd"/>
<rect x="531.18" y="1471.06" width="11.66" height="17.03" fill="#e4e4fc"/>
<rect x="542.49" y="1471.06" width="11.66" height="17.03" fill="#f8dadd"/>
<rect x="553.80" y="1471.06" width="11.66" height="17.03" fill="#e4e4fc"/>
<rect x="565.11" y="1471.06" width="11.66" height="17.03" fill="#e4e4fc"/>
<rect x="576.41" y="1471.06" width="11.66" height="17.03" fill="#f8dadd"/>
<rect x="587.72" y="1471.06" width="11.66" height="17.03" fill="#e4e4fc"/>
<rect x="599.03" y="1471.06" width="11.66" height="17.03" fill="#f8dadd"/>
<rect x="610.33" y="1471.06" width="11.66" height="17.03" fill="#f8dadd"/>
<rect x="621.64" y="1471.06" width="11.66" height="17.03" fill="#f8dadd"/>
<rect x="632.95" y="1471.06" width="11.66" height="17.03" fill="#f8dadd"/>
<rect x="644.25" y="1471.06" width="11.66" height="17.03" fill="#cdcdff"/>
<rect x="655.56" y="1471.06" width="11.66" height="17.03" fill="#cdcdff"/>
<rect x="666.87" y="1471.06" width="11.66" height="17.03" fill="#e4e4fc"/>
<rect x="678.18" y="1471.06" width="11.66" height="17.03" fill="#ff2014"/>
<rect x="689.48" y="1471.06" width="11.66" height="17.03" fill="#cdcdff"/>
<rect x="700.79" y="1471.06" width="11.66" height="17.03" fill="#b2b2ff"/>
<rect x="712.10" y="1471.06" width="11.66" height="17.03" fill="#b2b2ff"/>
<rect x="723.40" y="1471.06" width="11.66" height="17.03" fill="#f7f7fc"/>
<rect x="734.71" y="1471.06" width="11.66" height="17.03" fill="#e4e4fc"/>
<rect x="746.02" y="1471.06" width="11.66" height="17.03" fill="#e4e4fc"/>
<rect x="757.33" y="1471.06" width="11.66" height="17.03" fill="#cdcdff"/>
<rect x="768.63" y="1471.06" width="11.66" height="17.03" fill="#b2b2ff"/>
<rect x="779.94" y="1471.06" width="11.66" height="17.03" fill="#e4e4fc"/>
<rect x="791.25" y="1471.06" width="11.66" height="17.03" fill="#f8dadd"/>
<rect x="802.55" y="1471.06" width="11.66" height="17.03" fill="#f8dadd"/>
<rect x="813.86" y="1471.06" width="11.66" height="17.03" fill="#f7f7fc"/>
<rect x="825.17" y="1471.06" width="11.66" height="17.03" fill="#1900ff"/>
<rect x="836.47" y="1471.06" width="11.66" height="17.03" fill="#b2b2ff"/>
<rect x="847.78" y="1471.06" width="11.66" height="17.03" fill="#b2b2ff"/>
<rect x="859.09" y="1471.06" width="11.66" height="17.03" fill="#b2b2ff"/>
<rect x="870.39" y="1471.06" width="11.66" height="17.03" fill="#b2b2ff"/>
<rect x="881.70" y="1471.06" width="11.66" height="17.03" fill="#e4e4fc"/>
<rect x="893.01" y="1471.06" width="11.66" height="17.03" fill="#ef888e"/>
<rect x="904.32" y="1471.06" width="11.66" height="17.03" fill="#f7f7fc"/>
<rect x="915.62" y="1471.06" width="11.66" height="17.03" fill="#cdcdff"/>
<rect x="926.93" y="1471.06" width="11.66" height="17.03" fill="#cdcdff"/>
<rect x="938.24" y="1471.06" width="11.66" height="17.03" fill="#b2b2ff"/>
<rect x="949.54" y="1471.06" width="11.66" height="17.03" fill="#cdcdff"/>
<rect x="960.85" y="1471.06" width="11.66" height="17.03" fill="#e4e4fc"/>
<rect x="972.16" y="1471.06" width="11.66" height="17.03" fill="#cdcdff"/>
<rect x="983.46" y="1471.06" width="11.66" height="17.03" fill="#e4e4fc"/>
<rect x="994.77" y="1471.06" width="11.66" height="17.03" fill="#e4e4fc"/>
<rect x="1006.08" y="1471.06" width="11.66" height="17.03" fill="#f7f7fc"/>
<rect x="1017.39" y="1471.06" width="11.66" height="17.03" fill="#e4e4fc"/>
<rect x="1028.69" y="1471.06" width="11.66" height="17.03" fill="#e4e4fc"/>
<rect x="1040.00" y="1471.06" width="11.66" height="17.03" fill="#cdcdff"/>
<rect x="1051.31" y="1471.06" width="11.66" height="17.03" fill="#cdcdff"/>
<rect x="1062.61" y="1471.06" width="11.66" height="17.03" fill="#e4e4fc"/>
<rect x="1073.92" y="1471.06" width="11.66" height="17.03" fill="#b2b2ff"/>
<rect x="1085.23" y="1471.06" width="11.66" height="17.03" fill="#b2b2ff"/>
<rect x="1096.53" y="1471.06" width="11.66" height="17.03" fill="#cdcdff"/>
<rect x="1107.84" y="1471.06" width="11.66" height="17.03" fill="#b2b2ff"/>
<rect x="1119.15" y="1471.06" width="11.66" height="17.03" fill="#1900ff"/>
<rect x="1130.46" y="1471.06" width="11.66" height="17.03" fill="#b2b2ff"/>
<rect x="1141.76" y="1471.06" width="11.66" height="17.03" fill="#b2b2ff"/>
<rect x="1153.07" y="1471.06" width="11.66" height="17.03" fill="#1900ff"/>
<rect x="1164.38" y="1471.06" width="11.66" height="17.03" fill="#1900ff"/>
<rect x="1175.68" y="1471.06" width="11.66" height="17.03" fill="#1900ff"/>
<rect x="1186.99" y="1471.06" width="11.66" height="17.03" fill="#cdcdff"/>
<rect x="1198.30" y="1471.06" width="11.66" height="17.03" fill="#cdcdff"/>
<rect x="1209.61" y="1471.06" width="11.66" height="17.03" fill="#e4e4fc"/>
<rect x="1220.91" y="1471.06" width="11.66" height="17.03" fill="#e4e4fc"/>
<rect x="1232.22" y="1471.06" width="11.66" height="17.03" fill="#e4e4fc"/>
<rect x="1243.53" y="1471.06" width="11.66" height="17.03" fill="#b2b2ff"/>
<rect x="1254.83" y="1471.06" width="11.66" height="17.03" fill="#cdcdff"/>
<rect x="1266.14" y="1471.06" width="8.51" height="17.03" fill="#b2b2ff"/>
<rect x="474.65" y="1487.74" width="11.66" height="17.03" fill="#cdcdff"/>
<rect x="485.96" y="1487.74" width="11.66" height="17.03" fill="#e4e4fc"/>
<rect x="497.26" y="1487.74" width="11.66" height="17.03" fill="#f7f7fc"/>
<rect x="508.57" y="1487.74" width="11.66" height="17.03" fill="#e4e4fc"/>
<rect x="519.88" y="1487.74" width="11.66" height="17.03" fill="#e4e4fc"/>
<rect x="531.18" y="1487.74" width="11.66" height="17.03" fill="#cdcdff"/>
<rect x="542.49" y="1487.74" width="11.66" height="17.03" fill="#f8dadd"/>
<rect x="553.80" y="1487.74" width="11.66" height="17.03" fill="#b2b2ff"/>
<rect x="565.11" y="1487.74" width="11.66" height="17.03" fill="#e4e4fc"/>
<rect x="576.41" y="1487.74" width="11.66" height="17.03" fill="#e4e4fc"/>
<rect x="587.72" y="1487.74" width="11.66" height="17.03" fill="#cdcdff"/>
<rect x="599.03" y="1487.74" width="11.66" height="17.03" fill="#e4e4fc"/>
<rect x="610.33" y="1487.74" width="11.66" height="17.03" fill="#e4e4fc"/>
<rect x="621.64" y="1487.74" width="11.66" height="17.03" fill="#e4e4fc"/>
<rect x="632.95" y="1487.74" width="11.66" height="17.03" fill="#cdcdff"/>
<rect x="644.25" y="1487.74" width="11.66" height="17.03" fill="#b2b2ff"/>
<rect x="655.56" y="1487.74" width="11.66" height="17.03" fill="#cdcdff"/>
<rect x="666.87" y="1487.74" width="11.66" height="17.03" fill="#e4e4fc"/>
<rect x="678.18" y="1487.74" width="11.66" height="17.03" fill="#f7f7fc"/>
<rect x="689.48" y="1487.74" width="11.66" height="17.03" fill="#cdcdff"/>
<rect x="700.79" y="1487.74" width="11.66" height="17.03" fill="#b2b2ff"/>
<rect x="712.10" y="1487.74" width="11.66" height="17.03" fill="#cdcdff"/>
<rect x="723.40" y="1487.74" width="11.66" height="17.03" fill="#e4e4fc"/>
<rect x="734.71" y="1487.74" width="11.66" height="17.03" fill="#e4e4fc"/>
<rect x="746.02" y="1487.74" width="11.66" height="17.03" fill="#cdcdff"/>
<rect x="757.33" y="1487.74" width="11.66" height="17.03" fill="#cdcdff"/>
<rect x="768.63" y="1487.74" width="11.66" height="17.03" fill="#cdcdff"/>
<rect x="779.94" y="1487.74" width="11.66" height="17.03" fill="#f7f7fc"/>
<rect x="791.25" y="1487.74" width="11.66" height="17.03" fill="#f7f7fc"/>
<rect x="802.55" y="1487.74" width="11.66" height="17.03" fill="#e4e4fc"/>
<rect x="813.86" y="1487.74" width="11.66" height="17.03" fill="#e4e4fc"/>
<rect x="825.17" y="1487.74" width="11.66" height="17.03" fill="#cdcdff"/>
<rect x="836.47" y="1487.74" width="11.66" height="17.03" fill="#b2b2ff"/>
<rect x="847.78" y="1487.74" width="11.66" height="17.03" fill="#f7f7fc"/>
<rect x="859.09" y="1487.74" width="11.66" height="17.03" fill="#b2b2ff"/>
<rect x="870.39" y="1487.74" width="11.66" height="17.03" fill="#b2b2ff"/>
<rect x="881.70" y="1487.74" width="11.66" height="17.03" fill="#e4e4fc"/>
<rect x="893.01" y="1487.74" width="11.66" height="17.03" fill="#f7f7fc"/>
<rect x="904.32" y="1487.74" width="11.66" height="17.03" fill="#f7f7fc"/>
<rect x="915.62" y="1487.74" width="11.66" height="17.03" fill="#e4e4fc"/>
<rect x="926.93" y="1487.74" width="11.66" height="17.03" fill="#cdcdff"/>
<rect x="938.24" y="1487.74" width="11.66" height="17.03" fill="#1900ff"/>
<rect x="949.54" y="1487.74" width="11.66" height="17.03" fill="#b2b2ff"/>
<rect x="960.85" y="1487.74" width="11.66" height="17.03" fill="#b2b2ff"/>
<rect x="972.16" y="1487.74" width="11.66" height="17.03" fill="#b2b2ff"/>
<rect x="983.46" y="1487.74" width="11.66" height="17.03" fill="#cdcdff"/>
<rect x="994.77" y="1487.74" width="11.66" height="17.03" fill="#e4e4fc"/>
<rect x="1006.08" y="1487.74" width="11.66" height="17.03" fill="#b2b2ff"/>
<rect x="1017.39" y="1487.74" width="11.66" height="17.03" fill="#1900ff"/>
<rect x="1028.69" y="1487.74" width="11.66" height="17.03" fill="#1900ff"/>
<rect x="1040.00" y="1487.74" width="11.66" height="17.03" fill="#1900ff"/>
<rect x="1051.31" y="1487.74" width="11.66" height="17.03" fill="#b2b2ff"/>
<rect x="1062.61" y="1487.74" width="11.66" height="17.03" fill="#cdcdff"/>
<rect x="1073.92" y="1487.74" width="11.66" height="17.03" fill="#cdcdff"/>
<rect x="1085.23" y="1487.74" width="11.66" height="17.03" fill="#cdcdff"/>
<rect x="1096.53" y="1487.74" width="11.66" height="17.03" fill="#b2b2ff"/>
<rect x="1107.84" y="1487.74" width="11.66" height="17.03" fill="#cdcdff"/>
<rect x="1119.15" y="1487.74" width="11.66" height="17.03" fill="#1900ff"/>
<rect x="1130.46" y="1487.74" width="11.66" height="17.03" fill="#1900ff"/>
<rect x="1141.76" y="1487.74" width="11.66" height="17.03" fill="#1900ff"/>
<rect x="1153.07" y="1487.74" width="11.66" height="17.03" fill="#cdcdff"/>
<rect x="1164.38" y="1487.74" width="11.66" height="17.03" fill="#cdcdff"/>
<rect x="1175.68" y="1487.74" width="11.66" height="17.03" fill="#cdcdff"/>
<rect x="1186.99" y="1487.74" width="11.66" height="17.03" fill="#cdcdff"/>
<rect x="1198.30" y="1487.74" width="11.66" height="17.03" fill="#cdcdff"/>
<rect x="1209.61" y="1487.74" width="11.66" height="17.03" fill="#b2b2ff"/>
<rect x="1220.91" y="1487.74" width="11.66" height="17.03" fill="#b2b2ff"/>
<rect x="1232.22" y="1487.74" width="11.66" height="17.03" fill="#cdcdff"/>
<rect x="1243.53" y="1487.74" width="11.66" height="17.03" fill="#cdcdff"/>
<rect x="1254.83" y="1487.74" width="11.66" height="17.03" fill="#b2b2ff"/>
<rect x="1266.14" y="1487.74" width="8.51" height="17.03" fill="#cdcdff"/>
<rect x="474.65" y="1504.42" width="11.66" height="17.03" fill="#e4e4fc"/>
<rect x="485.96" y="1504.42" width="11.66" height="17.03" fill="#cdcdff"/>
<rect x="497.26" y="1504.42" width="11.66" height="17.03" fill="#e4e4fc"/>
<rect x="508.57" y="1504.42" width="11.66" height="17.03" fill="#e4e4fc"/>
<rect x="519.88" y="1504.42" width="11.66" height="17.03" fill="#cdcdff"/>
<rect x="531.18" y="1504.42" width="11.66" height="17.03" fill="#f7f7fc"/>
<rect x="542.49" y="1504.42" width="11.66" height="17.03" fill="#e4e4fc"/>
<rect x="553.80" y="1504.42" width="11.66" height="17.03" fill="#e4e4fc"/>
<rect x="565.11" y="1504.42" width="11.66" height="17.03" fill="#e4e4fc"/>
<rect x="576.41" y="1504.42" width="11.66" height="17.03" fill="#e4e4fc"/>
<rect x="587.72" y="1504.42" width="11.66" height="17.03" fill="#e4e4fc"/>
<rect x="599.03" y="1504.42" width="11.66" height="17.03" fill="#e4e4fc"/>
<rect x="610.33" y="1504.42" width="11.66" height="17.03" fill="#f7f7fc"/>
<rect x="621.64" y="1504.42" width="11.66" height="17.03" fill="#e4e4fc"/>
<rect x="632.95" y="1504.42" width="11.66" height="17.03" fill="#cdcdff"/>
<rect x="644.25" y="1504.42" width="11.66" height="17.03" fill="#b2b2ff"/>
<rect x="655.56" y="1504.42" width="11.66" height="17.03" fill="#e4e4fc"/>
<rect x="666.87" y="1504.42" width="11.66" height="17.03" fill="#cdcdff"/>
<rect x="678.18" y="1504.42" width="11.66" height="17.03" fill="#f7f7fc"/>
<rect x="689.48" y="1504.42" width="11.66" height="17.03" fill="#b2b2ff"/>
<rect x="700.79" y="1504.42" width="11.66" height="17.03" fill="#b2b2ff"/>
<rect x="712.10" y="1504.42" width="11.66" height="17.03" fill="#cdcdff"/>
<rect x="723.40" y="1504.42" width="11.66" height="17.03" fill="#1900ff"/>
<rect x="734.71" y="1504.42" width="11.66" height="17.03" fill="#1900ff"/>
<rect x="746.02" y="1504.42" width="11.66" height="17.03" fill="#1900ff"/>
<rect x="757.33" y="1504.42" width="11.66" height="17.03" fill="#1900ff"/>
<rect x="768.63" y="1504.42" width="11.66" height="17.03" fill="#1900ff"/>
<rect x="779.94" y="1504.42" width="11.66" height="17.03" fill="#e4e4fc"/>
<rect x="791.25" y="1504.42" width="11.66" height="17.03" fill="#e4e4fc"/>
<rect x="802.55" y="1504.42" width="11.66" height="17.03" fill="#f7f7fc"/>
<rect x="813.86" y="1504.42" width="11.66" height="17.03" fill="#ff2014"/>
<rect x="825.17" y="1504.42" width="11.66" height="17.03" fill="#cdcdff"/>
<rect x="836.47" y="1504.42" width="11.66" height="17.03" fill="#e4e4fc"/>
<rect x="847.78" y="1504.42" width="11.66" height="17.03" fill="#e4e4fc"/>
<rect x="859.09" y="1504.42" width="11.66" height="17.03" fill="#e4e4fc"/>
<rect x="870.39" y="1504.42" width="11.66" height="17.03" fill="#e4e4fc"/>
<rect x="881.70" y="1504.42" width="11.66" height="17.03" fill="#e4e4fc"/>
<rect x="893.01" y="1504.42" width="11.66" height="17.03" fill="#cdcdff"/>
<rect x="904.32" y="1504.42" width="11.66" height="17.03" fill="#e4e4fc"/>
<rect x="915.62" y="1504.42" width="11.66" height="17.03" fill="#cdcdff"/>
<rect x="926.93" y="1504.42" width="11.66" height="17.03" fill="#e4e4fc"/>
<rect x="938.24" y="1504.42" width="11.66" height="17.03" fill="#b2b2ff"/>
<rect x="949.54" y="1504.42" width="11.66" height="17.03" fill="#b2b2ff"/>
<rect x="960.85" y="1504.42" width="11.66" height="17.03" fill="#b2b2ff"/>
<rect x="972.16" y="1504.42" width="11.66" height="17.03" fill="#e4e4fc"/>
<rect x="983.46" y="1504.42" width="11.66" height="17.03" fill="#b2b2ff"/>
<rect x="994.77" y="1504.42" width="11.66" height="17.03" fill="#e4e4fc"/>
<rect x="1006.08" y="1504.42" width="11.66" height="17.03" fill="#e4e4fc"/>
<rect x="1017.39" y="1504.42" width="11.66" height="17.03" fill="#b2b2ff"/>
<rect x="1028.69" y="1504.42" width="11.66" height="17.03" fill="#e4e4fc"/>
<rect x="1040.00" y="1504.42" width="11.66" height="17.03" fill="#b2b2ff"/>
<rect x="1051.31" y="1504.42" width="11.66" height="17.03" fill="#cdcdff"/>
<rect x="1062.61" y="1504.42" width="11.66" height="17.03" fill="#b2b2ff"/>
<rect x="1073.92" y="1504.42" width="11.66" height="17.03" fill="#e4e4fc"/>
<rect x="1085.23" y="1504.42" width="11.66" height="17.03" fill="#b2b2ff"/>
<rect x="1096.53" y="1504.42" width="11.66" height="17.03" fill="#cdcdff"/>
<rect x="1107.84" y="1504.42" width="11.66" height="17.03" fill="#cdcdff"/>
<rect x="1119.15" y="1504.42" width="11.66" height="17.03" fill="#b2b2ff"/>
<rect x="1130.46" y="1504.42" width="11.66" height="17.03" fill="#1900ff"/>
<rect x="1141.76" y="1504.42" width="11.66" height="17.03" fill="#1900ff"/>
<rect x="1153.07" y="1504.42" width="11.66" height="17.03" fill="#b2b2ff"/>
<rect x="1164.38" y="1504.42" width="11.66" height="17.03" fill="#b2b2ff"/>
<rect x="1175.68" y="1504.42" width="11.66" height="17.03" fill="#cdcdff"/>
<rect x="1186.99" y="1504.42" width="11.66" height="17.03" fill="#1900ff"/>
<rect x="1198.30" y="1504.42" width="11.66" height="17.03" fill="#1900ff"/>
<rect x="1209.61" y="1504.42" width="11.66" height="17.03" fill="#cdcdff"/>
<rect x="1220.91" y="1504.42" width="11.66" height="17.03" fill="#cdcdff"/>
<rect x="1232.22" y="1504.42" width="11.66" height="17.03" fill="#cdcdff"/>
<rect x="1243.53" y="1504.42" width="11.66" height="17.03" fill="#cdcdff"/>
<rect x="1254.83" y="1504.42" width="11.66" height="17.03" fill="#b2b2ff"/>
<rect x="1266.14" y="1504.42" width="8.51" height="17.03" fill="#cdcdff"/>
<rect x="474.65" y="1521.10" width="11.66" height="17.03" fill="#cdcdff"/>
<rect x="485.96" y="1521.10" width="11.66" height="17.03" fill="#e4e4fc"/>
<rect x="497.26" y="1521.10" width="11.66" height="17.03" fill="#f7f7fc"/>
<rect x="508.57" y="1521.10" width="11.66" height="17.03" fill="#f7f7fc"/>
<rect x="519.88" y="1521.10" width="11.66" height="17.03" fill="#f7f7fc"/>
<rect x="531.18" y="1521.10" width="11.66" height="17.03" fill="#f7f7fc"/>
<rect x="542.49" y="1521.10" width="11.66" height="17.03" fill="#e4e4fc"/>
<rect x="553.80" y="1521.10" width="11.66" height="17.03" fill="#f7f7fc"/>
<rect x="565.11" y="1521.10" width="11.66" height="17.03" fill="#e4e4fc"/>
<rect x="576.41" y="1521.10" width="11.66" height="17.03" fill="#e4e4fc"/>
<rect x="587.72" y="1521.10" width="11.66" height="17.03" fill="#f7f7fc"/>
<rect x="599.03" y="1521.10" width="11.66" height="17.03" fill="#e4e4fc"/>
<rect x="610.33" y="1521.10" width="11.66" height="17.03" fill="#f7f7fc"/>
<rect x="621.64" y="1521.10" width="11.66" height="17.03" fill="#f2b4b8"/>
<rect x="632.95" y="1521.10" width="11.66" height="17.03" fill="#f7f7fc"/>
<rect x="644.25" y="1521.10" width="11.66" height="17.03" fill="#1900ff"/>
<rect x="655.56" y="1521.10" width="11.66" height="17.03" fill="#e4e4fc"/>
<rect x="666.87" y="1521.10" width="11.66" height="17.03" fill="#f7f7fc"/>
<rect x="678.18" y="1521.10" width="11.66" height="17.03" fill="#f7f7fc"/>
<rect x="689.48" y="1521.10" width="11.66" height="17.03" fill="#b2b2ff"/>
<rect x="700.79" y="1521.10" width="11.66" height="17.03" fill="#b2b2ff"/>
<rect x="712.10" y="1521.10" width="11.66" height="17.03" fill="#cdcdff"/>
<rect x="723.40" y="1521.10" width="11.66" height="17.03" fill="#cdcdff"/>
<rect x="734.71" y="1521.10" width="11.66" height="17.03" fill="#b2b2ff"/>
<rect x="746.02" y="1521.10" width="11.66" height="17.03" fill="#cdcdff"/>
<rect x="757.33" y="1521.10" width="11.66" height="17.03" fill="#e4e4fc"/>
<rect x="768.63" y="1521.10" width="11.66" height="17.03" fill="#b2b2ff"/>
<rect x="779.94" y="1521.10" width="11.66" height="17.03" fill="#e4e4fc"/>
<rect x="791.25" y="1521.10" width="11.66" height="17.03" fill="#e4e4fc"/>
<rect x="802.55" y="1521.10" width="11.66" height="17.03" fill="#f8dadd"/>
<rect x="813.86" y="1521.10" width="11.66" height="17.03" fill="#e4e4fc"/>
<rect x="825.17" y="1521.10" width="11.66" height="17.03" fill="#cdcdff"/>
<rect x="836.47" y="1521.10" width="11.66" height="17.03" fill="#f7f7fc"/>
<rect x="847.78" y="1521.10" width="11.66" height="17.03" fill="#cdcdff"/>
<rect x="859.09" y="1521.10" width="11.66" height="17.03" fill="#e4e4fc"/>
<rect x="870.39" y="1521.10" width="11.66" height="17.03" fill="#f7f7fc"/>
<rect x="881.70" y="1521.10" width="11.66" height="17.03" fill="#e4e4fc"/>
<rect x="893.01" y="1521.10" width="11.66" height="17.03" fill="#e4e4fc"/>
<rect x="904.32" y="1521.10" width="11.66" height="17.03" fill="#e4e4fc"/>
<rect x="915.62" y="1521.10" width="11.66" height="17.03" fill="#e4e4fc"/>
<rect x="926.93" y="1521.10" width="11.66" height="17.03" fill="#f2b4b8"/>
<rect x="938.24" y="1521.10" width="11.66" height="17.03" fill="#1900ff"/>
<rect x="949.54" y="1521.10" width="11.66" height="17.03" fill="#1900ff"/>
<rect x="960.85" y="1521.10" width="11.66" height="17.03" fill="#1900ff"/>
<rect x="972.16" y="1521.10" width="11.66" height="17.03" fill="#f7f7fc"/>
<rect x="983.46" y="1521.10" width="11.66" height="17.03" fill="#e4e4fc"/>
<rect x="994.77" y="1521.10" width="11.66" height="17.03" fill="#f7f7fc"/>
<rect x="1006.08" y="1521.10" width="11.66" height="17.03" fill="#f7f7fc"/>
<rect x="1017.39" y="1521.10" width="11.66" height="17.03" fill="#cdcdff"/>
<rect x="1028.69" y="1521.10" width="11.66" height="17.03" fill="#e4e4fc"/>
<rect x="1040.00" y="1521.10" width="11.66" height="17.03" fill="#cdcdff"/>
<rect x="1051.31" y="1521.10" width="11.66" height="17.03" fill="#e4e4fc"/>
<rect x="1062.61" y="1521.10" width="11.66" height="17.03" fill="#cdcdff"/>
<rect x="1073.92" y="1521.10" width="11.66" height="17.03" fill="#e4e4fc"/>
<rect x="1085.23" y="1521.10" width="11.66" height="17.03" fill="#cdcdff"/>
<rect x="1096.53" y="1521.10" width="11.66" height="17.03" fill="#cdcdff"/>
<rect x="1107.84" y="1521.10" width="11.66" height="17.03" fill="#cdcdff"/>
<rect x="1119.15" y="1521.10" width="11.66" height="17.03" fill="#1900ff"/>
<rect x="1130.46" y="1521.10" width="11.66" height="17.03" fill="#1900ff"/>
<rect x="1141.76" y="1521.10" width="11.66" height="17.03" fill="#1900ff"/>
<rect x="1153.07" y="1521.10" width="11.66" height="17.03" fill="#cdcdff"/>
<rect x="1164.38" y="1521.10" width="11.66" height="17.03" fill="#1900ff"/>
<rect x="1175.68" y="1521.10" width="11.66" height="17.03" fill="#1900ff"/>
<rect x="1186.99" y="1521.10" width="11.66" height="17.03" fill="#1900ff"/>
<rect x="1198.30" y="1521.10" width="11.66" height="17.03" fill="#1900ff"/>
<rect x="1209.61" y="1521.10" width="11.66" height="17.03" fill="#1900ff"/>
<rect x="1220.91" y="1521.10" width="11.66" height="17.03" fill="#1900ff"/>
<rect x="1232.22" y="1521.10" width="11.66" height="17.03" fill="#1900ff"/>
<rect x="1243.53" y="1521.10" width="11.66" height="17.03" fill="#1900ff"/>
<rect x="1254.83" y="1521.10" width="11.66" height="17.03" fill="#1900ff"/>
<rect x="1266.14" y="1521.10" width="8.51" height="17.03" fill="#1900ff"/>
<rect x="474.65" y="1537.78" width="11.66" height="17.03" fill="#ef888e"/>
<rect x="485.96" y="1537.78" width="11.66" height="17.03" fill="#ef888e"/>
<rect x="497.26" y="1537.78" width="11.66" height="17.03" fill="#ff2014"/>
<rect x="508.57" y="1537.78" width="11.66" height="17.03" fill="#f2565d"/>
<rect x="519.88" y="1537.78" width="11.66" height="17.03" fill="#f2565d"/>
<rect x="531.18" y="1537.78" width="11.66" height="17.03" fill="#ef888e"/>
<rect x="542.49" y="1537.78" width="11.66" height="17.03" fill="#ef888e"/>
<rect x="553.80" y="1537.78" width="11.66" height="17.03" fill="#f2565d"/>
<rect x="565.11" y="1537.78" width="11.66" height="17.03" fill="#ff2014"/>
<rect x="576.41" y="1537.78" width="11.66" height="17.03" fill="#ff2014"/>
<rect x="587.72" y="1537.78" width="11.66" height="17.03" fill="#f2565d"/>
<rect x="599.03" y="1537.78" width="11.66" height="17.03" fill="#ef888e"/>
<rect x="610.33" y="1537.78" width="11.66" height="17.03" fill="#ef888e"/>
<rect x="621.64" y="1537.78" width="11.66" height="17.03" fill="#f2565d"/>
<rect x="632.95" y="1537.78" width="11.66" height="17.03" fill="#f7f7fc"/>
<rect x="644.25" y="1537.78" width="11.66" height="17.03" fill="#f2b4b8"/>
<rect x="655.56" y="1537.78" width="11.66" height="17.03" fill="#f2565d"/>
<rect x="666.87" y="1537.78" width="11.66" height="17.03" fill="#f8dadd"/>
<rect x="678.18" y="1537.78" width="11.66" height="17.03" fill="#ff2014"/>
<rect x="689.48" y="1537.78" width="11.66" height="17.03" fill="#ef888e"/>
<rect x="700.79" y="1537.78" width="11.66" height="17.03" fill="#f2b4b8"/>
<rect x="712.10" y="1537.78" width="11.66" height="17.03" fill="#f7f7fc"/>
<rect x="723.40" y="1537.78" width="11.66" height="17.03" fill="#ef888e"/>
<rect x="734.71" y="1537.78" width="11.66" height="17.03" fill="#ef888e"/>
<rect x="746.02" y="1537.78" width="11.66" height="17.03" fill="#f7f7fc"/>
<rect x="757.33" y="1537.78" width="11.66" height="17.03" fill="#f8dadd"/>
<rect x="768.63" y="1537.78" width="11.66" height="17.03" fill="#ef888e"/>
<rect x="779.94" y="1537.78" width="11.66" height="17.03" fill="#f2565d"/>
<rect x="791.25" y="1537.78" width="11.66" height="17.03" fill="#ff2014"/>
<rect x="802.55" y="1537.78" width="11.66" height="17.03" fill="#f2565d"/>
<rect x="813.86" y="1537.78" width="11.66" height="17.03" fill="#f2565d"/>
<rect x="825.17" y="1537.78" width="11.66" height="17.03" fill="#f2565d"/>
<rect x="836.47" y="1537.78" width="11.66" height="17.03" fill="#f7f7fc"/>
<rect x="847.78" y="1537.78" width="11.66" height="17.03" fill="#ff2014"/>
<rect x="859.09" y="1537.78" width="11.66" height="17.03" fill="#ff2014"/>
<rect x="870.39" y="1537.78" width="11.66" height="17.03" fill="#f2b4b8"/>
<rect x="881.70" y="1537.78" width="11.66" height="17.03" fill="#ef888e"/>
<rect x="893.01" y="1537.78" width="11.66" height="17.03" fill="#f2565d"/>
<rect x="904.32" y="1537.78" width="11.66" height="17.03" fill="#f2565d"/>
<rect x="915.62" y="1537.78" width="11.66" height="17.03" fill="#ef888e"/>
<rect x="926.93" y="1537.78" width="11.66" height="17.03" fill="#f2565d"/>
<rect x="938.24" y="1537.78" width="11.66" height="17.03" fill="#f7f7fc"/>
<rect x="949.54" y="1537.78" width="11.66" height="17.03" fill="#f7f7fc"/>
<rect x="960.85" y="1537.78" width="11.66" height="17.03" fill="#ef888e"/>
<rect x="972.16" y="1537.78" width="11.66" height="17.03" fill="#ff2014"/>
<rect x="983.46" y="1537.78" width="11.66" height="17.03" fill="#f2565d"/>
<rect x="994.77" y="1537.78" width="11.66" height="17.03" fill="#ef888e"/>
<rect x="1006.08" y="1537.78" width="11.66" height="17.03" fill="#ef888e"/>
<rect x="1017.39" y="1537.78" width="11.66" height="17.03" fill="#f2565d"/>
<rect x="1028.69" y="1537.78" width="11.66" height="17.03" fill="#f7f7fc"/>
<rect x="1040.00" y="1537.78" width="11.66" height="17.03" fill="#f7f7fc"/>
<rect x="1051.31" y="1537.78" width="11.66" height="17.03" fill="#f2b4b8"/>
<rect x="1062.61" y="1537.78" width="11.66" height="17.03" fill="#f7f7fc"/>
<rect x="1073.92" y="1537.78" width="11.66" height="17.03" fill="#f7f7fc"/>
<rect x="1085.23" y="1537.78" width="11.66" height="17.03" fill="#f2b4b8"/>
<rect x="1096.53" y="1537.78" width="11.66" height="17.03" fill="#f7f7fc"/>
<rect x="1107.84" y="1537.78" width="11.66" height="17.03" fill="#f7f7fc"/>
<rect x="1119.15" y="1537.78" width="11.66" height="17.03" fill="#f8dadd"/>
<rect x="1130.46" y="1537.78" width="11.66" height="17.03" fill="#e4e4fc"/>
<rect x="1141.76" y="1537.78" width="11.66" height="17.03" fill="#f7f7fc"/>
<rect x="1153.07" y="1537.78" width="11.66" height="17.03" fill="#e4e4fc"/>
<rect x="1164.38" y="1537.78" width="11.66" height="17.03" fill="#e4e4fc"/>
<rect x="1175.68" y="1537.78" width="11.66" height="17.03" fill="#f2b4b8"/>
<rect x="1186.99" y="1537.78" width="11.66" height="17.03" fill="#f7f7fc"/>
<rect x="1198.30" y="1537.78" width="11.66" height="17.03" fill="#f7f7fc"/>
<rect x="1209.61" y="1537.78" width="11.66" height="17.03" fill="#ef888e"/>
<rect x="1220.91" y="1537.78" width="11.66" height="17.03" fill="#f2b4b8"/>
<rect x="1232.22" y="1537.78" width="11.66" height="17.03" fill="#f2b4b8"/>
<rect x="1243.53" y="1537.78" width="11.66" height="17.03" fill="#f7f7fc"/>
<rect x="1254.83" y="1537.78" width="11.66" height="17.03" fill="#f7f7fc"/>
<rect x="1266.14" y="1537.78" width="8.51" height="17.03" fill="#f8dadd"/>
<rect x="474.65" y="1554.46" width="11.66" height="17.03" fill="#f2b4b8"/>
<rect x="485.96" y="1554.46" width="11.66" height="17.03" fill="#f2b4b8"/>
<rect x="497.26" y="1554.46" width="11.66" height="17.03" fill="#f8dadd"/>
<rect x="508.57" y="1554.46" width="11.66" height="17.03" fill="#f8dadd"/>
<rect x="519.88" y="1554.46" width="11.66" height="17.03" fill="#f7f7fc"/>
<rect x="531.18" y="1554.46" width="11.66" height="17.03" fill="#f8dadd"/>
<rect x="542.49" y="1554.46" width="11.66" height="17.03" fill="#e4e4fc"/>
<rect x="553.80" y="1554.46" width="11.66" height="17.03" fill="#e4e4fc"/>
<rect x="565.11" y="1554.46" width="11.66" height="17.03" fill="#f8dadd"/>
<rect x="576.41" y="1554.46" width="11.66" height="17.03" fill="#e4e4fc"/>
<rect x="587.72" y="1554.46" width="11.66" height="17.03" fill="#f8dadd"/>
<rect x="599.03" y="1554.46" width="11.66" height="17.03" fill="#f2b4b8"/>
<rect x="610.33" y="1554.46" width="11.66" height="17.03" fill="#f8dadd"/>
<rect x="621.64" y="1554.46" width="11.66" height="17.03" fill="#f8dadd"/>
<rect x="632.95" y="1554.46" width="11.66" height="17.03" fill="#e4e4fc"/>
<rect x="644.25" y="1554.46" width="11.66" height="17.03" fill="#ef888e"/>
<rect x="655.56" y="1554.46" width="11.66" height="17.03" fill="#f8dadd"/>
<rect x="666.87" y="1554.46" width="11.66" height="17.03" fill="#f7f7fc"/>
<rect x="678.18" y="1554.46" width="11.66" height="17.03" fill="#f7f7fc"/>
<rect x="689.48" y="1554.46" width="11.66" height="17.03" fill="#f8dadd"/>
<rect x="700.79" y="1554.46" width="11.66" height="17.03" fill="#e4e4fc"/>
<rect x="712.10" y="1554.46" width="11.66" height="17.03" fill="#f8dadd"/>
<rect x="723.40" y="1554.46" width="11.66" height="17.03" fill="#ef888e"/>
<rect x="734.71" y="1554.46" width="11.66" height="17.03" fill="#ef888e"/>
<rect x="746.02" y="1554.46" width="11.66" height="17.03" fill="#f8dadd"/>
<rect x="757.33" y="1554.46" width="11.66" height="17.03" fill="#e4e4fc"/>
<rect x="768.63" y="1554.46" width="11.66" height="17.03" fill="#ef888e"/>
<rect x="779.94" y="1554.46" width="11.66" height="17.03" fill="#ef888e"/>
<rect x="791.25" y="1554.46" width="11.66" height="17.03" fill="#ef888e"/>
<rect x="802.55" y="1554.46" width="11.66" height="17.03" fill="#f7f7fc"/>
<rect x="813.86" y="1554.46" width="11.66" height="17.03" fill="#ef888e"/>
<rect x="825.17" y="1554.46" width="11.66" height="17.03" fill="#f7f7fc"/>
<rect x="836.47" y="1554.46" width="11.66" height="17.03" fill="#ef888e"/>
<rect x="847.78" y="1554.46" width="11.66" height="17.03" fill="#ef888e"/>
<rect x="859.09" y="1554.46" width="11.66" height="17.03" fill="#f2b4b8"/>
<rect x="870.39" y="1554.46" width="11.66" height="17.03" fill="#f8dadd"/>
<rect x="881.70" y="1554.46" width="11.66" height="17.03" fill="#f8dadd"/>
<rect x="893.01" y="1554.46" width="11.66" height="17.03" fill="#f7f7fc"/>
<rect x="904.32" y="1554.46" width="11.66" height="17.03" fill="#f7f7fc"/>
<rect x="915.62" y="1554.46" width="11.66" height="17.03" fill="#f7f7fc"/>
<rect x="926.93" y="1554.46" width="11.66" height="17.03" fill="#ef888e"/>
<rect x="938.24" y="1554.46" width="11.66" height="17.03" fill="#f2b4b8"/>
<rect x="949.54" y="1554.46" width="11.66" height="17.03" fill="#ef888e"/>
<rect x="960.85" y="1554.46" width="11.66" height="17.03" fill="#ef888e"/>
<rect x="972.16" y="1554.46" width="11.66" height="17.03" fill="#f2b4b8"/>
<rect x="983.46" y="1554.46" width="11.66" height="17.03" fill="#ef888e"/>
<rect x="994.77" y="1554.46" width="11.66" height="17.03" fill="#f2b4b8"/>
<rect x="1006.08" y="1554.46" width="11.66" height="17.03" fill="#f8dadd"/>
<rect x="1017.39" y="1554.46" width="11.66" height="17.03" fill="#ef888e"/>
<rect x="1028.69" y="1554.46" width="11.66" height="17.03" fill="#f7f7fc"/>
<rect x="1040.00" y="1554.46" width="11.66" height="17.03" fill="#f8dadd"/>
<rect x="1051.31" y="1554.46" width="11.66" height="17.03" fill="#f2b4b8"/>
<rect x="1062.61" y="1554.46" width="11.66" height="17.03" fill="#f2565d"/>
<rect x="1073.92" y="1554.46" width="11.66" height="17.03" fill="#ef888e"/>
<rect x="1085.23" y="1554.46" width="11.66" height="17.03" fill="#ef888e"/>
<rect x="1096.53" y="1554.46" width="11.66" height="17.03" fill="#ef888e"/>
<rect x="1107.84" y="1554.46" width="11.66" height="17.03" fill="#f2565d"/>
<rect x="1119.15" y="1554.46" width="11.66" height="17.03" fill="#ef888e"/>
<rect x="1130.46" y="1554.46" width="11.66" height="17.03" fill="#f2565d"/>
<rect x="1141.76" y="1554.46" width="11.66" height="17.03" fill="#ef888e"/>
<rect x="1153.07" y="1554.46" width="11.66" height="17.03" fill="#f2b4b8"/>
<rect x="1164.38" y="1554.46" width="11.66" height="17.03" fill="#f2b4b8"/>
<rect x="1175.68" y="1554.46" width="11.66" height="17.03" fill="#ef888e"/>
<rect x="1186.99" y="1554.46" width="11.66" height="17.03" fill="#f2b4b8"/>
<rect x="1198.30" y="1554.46" width="11.66" height="17.03" fill="#f8dadd"/>
<rect x="1209.61" y="1554.46" width="11.66" height="17.03" fill="#ef888e"/>
<rect x="1220.91" y="1554.46" width="11.66" height="17.03" fill="#f7f7fc"/>
<rect x="1232.22" y="1554.46" width="11.66" height="17.03" fill="#f2b4b8"/>
<rect x="1243.53" y="1554.46" width="11.66" height="17.03" fill="#f2b4b8"/>
<rect x="1254.83" y="1554.46" width="11.66" height="17.03" fill="#ef888e"/>
<rect x="1266.14" y="1554.46" width="8.51" height="17.03" fill="#f2b4b8"/>
</g>
<text transform="translate(1279.3,1199.04) scale(1,1.08)" font-size="14" font-weight="bold">C1380</text>
<text transform="translate(1279.3,1215.72) scale(1,1.08)" font-size="14" font-weight="bold">C1222</text>
<text transform="translate(1279.3,1232.40) scale(1,1.08)" font-size="14" font-weight="bold">C1753</text>
<text transform="translate(1279.3,1249.08) scale(1,1.08)" font-size="14" font-weight="bold">C488</text>
<text transform="translate(1279.3,1265.76) scale(1,1.08)" font-size="14" font-weight="bold">C708</text>
<text transform="translate(1279.3,1282.44) scale(1,1.08)" font-size="14" font-weight="bold">C1454</text>
<text transform="translate(1279.3,1299.12) scale(1,1.08)" font-size="14" font-weight="bold">C522</text>
<text transform="translate(1279.3,1315.80) scale(1,1.08)" font-size="14" font-weight="bold">C1170</text>
<text transform="translate(1279.3,1332.48) scale(1,1.08)" font-size="14" font-weight="bold">C1343</text>
<text transform="translate(1279.3,1349.16) scale(1,1.08)" font-size="14" font-weight="bold">C687</text>
<text transform="translate(1279.3,1365.84) scale(1,1.08)" font-size="14" font-weight="bold">C1767</text>
<text transform="translate(1279.3,1382.52) scale(1,1.08)" font-size="14" font-weight="bold">C594</text>
<text transform="translate(1279.3,1399.20) scale(1,1.08)" font-size="14" font-weight="bold">C878</text>
<text transform="translate(1279.3,1415.88) scale(1,1.08)" font-size="14" font-weight="bold">C1719</text>
<text transform="translate(1279.3,1432.56) scale(1,1.08)" font-size="14" font-weight="bold">C1116</text>
<text transform="translate(1279.3,1449.24) scale(1,1.08)" font-size="14" font-weight="bold">C2006</text>
<text transform="translate(1279.3,1465.92) scale(1,1.08)" font-size="14" font-weight="bold">C2138</text>
<text transform="translate(1279.3,1482.60) scale(1,1.08)" font-size="14" font-weight="bold">C1166</text>
<text transform="translate(1279.3,1499.28) scale(1,1.08)" font-size="14" font-weight="bold">C1649</text>
<text transform="translate(1279.3,1515.96) scale(1,1.08)" font-size="14" font-weight="bold">C1943</text>
<text transform="translate(1279.3,1532.64) scale(1,1.08)" font-size="14" font-weight="bold">C1446</text>
<text transform="translate(1279.3,1549.32) scale(1,1.08)" font-size="14" font-weight="bold">C1871</text>
<text transform="translate(1279.3,1566.00) scale(1,1.08)" font-size="14" font-weight="bold">C1806</text>
<path d="M480.3,1177.8V1065.0H491.6V1177.8 M502.9,1177.8V1086.6H514.2V1177.8 M525.5,1177.8V1101.1H536.8V1177.8 M508.6,1086.6V1059.9H531.2V1101.1 M486.0,1065.0V1015.6H519.9V1059.9 M548.1,1177.8V1089.4H559.4V1177.8 M582.1,1177.8V1112.8H593.4V1177.8 M604.7,1177.8V1122.9H616.0V1177.8 M587.7,1112.8V1084.5H610.3V1122.9 M570.8,1177.8V1071.2H599.0V1084.5 M553.8,1089.4V1042.5H584.9V1071.2 M502.9,1015.6V1006.2H569.3V1042.5 M627.3,1177.8V1056.0H638.6V1177.8 M672.5,1177.8V1104.2H683.8V1177.8 M661.2,1177.8V1069.7H678.2V1104.2 M649.9,1177.8V1050.8H669.7V1069.7 M632.9,1056.0V1014.5H659.8V1050.8 M706.4,1177.8V1139.6H717.7V1177.8 M695.1,1177.8V1096.2H712.1V1139.6 M729.1,1177.8V1147.0H740.4V1177.8 M763.0,1177.8V1130.6H774.3V1177.8 M751.7,1177.8V1113.2H768.6V1130.6 M734.7,1147.0V1099.8H760.1V1113.2 M703.6,1096.2V1066.4H747.4V1099.8 M808.2,1177.8V1138.5H819.5V1177.8 M796.9,1177.8V1133.0H813.9V1138.5 M785.6,1177.8V1097.4H805.4V1133.0 M853.4,1177.8V1133.4H864.7V1177.8 M842.1,1177.8V1123.7H859.1V1133.4 M830.8,1177.8V1106.6H850.6V1123.7 M876.0,1177.8V1142.2H887.4V1177.8 M898.7,1177.8V1143.0H910.0V1177.8 M921.3,1177.8V1146.8H932.6V1177.8 M904.3,1143.0V1133.0H926.9V1146.8 M881.7,1142.2V1093.6H915.6V1133.0 M840.7,1106.6V1078.4H898.7V1093.6 M795.5,1097.4V1055.8H869.7V1078.4 M725.5,1066.4V1025.4H832.6V1055.8 M646.4,1014.5V1003.8H779.1V1025.4 M955.2,1177.8V1114.1H966.5V1177.8 M943.9,1177.8V1089.0H960.8V1114.1 M1000.4,1177.8V1145.0H1011.7V1177.8 M989.1,1177.8V1131.9H1006.1V1145.0 M977.8,1177.8V1119.4H997.6V1131.9 M1034.3,1177.8V1137.8H1045.7V1177.8 M1023.0,1177.8V1131.4H1040.0V1137.8 M1068.3,1177.8V1149.7H1079.6V1177.8 M1102.2,1177.8V1156.5H1113.5V1177.8 M1090.9,1177.8V1155.6H1107.8V1156.5 M1073.9,1149.7V1148.6H1099.4V1155.6 M1057.0,1177.8V1130.4H1086.6V1148.6 M1031.5,1131.4V1101.2H1071.8V1130.4 M987.7,1119.4V1089.9H1051.7V1101.2 M1136.1,1177.8V1147.6H1147.4V1177.8 M1124.8,1177.8V1095.4H1141.8V1147.6 M1170.0,1177.8V1150.6H1181.3V1177.8 M1158.7,1177.8V1115.7H1175.7V1150.6 M1192.6,1177.8V1138.5H1203.9V1177.8 M1226.6,1177.8V1151.1H1237.9V1177.8 M1260.5,1177.8V1149.6H1271.8V1177.8 M1249.2,1177.8V1141.5H1266.1V1149.6 M1232.2,1151.1V1142.2H1257.7V1141.5 M1215.3,1177.8V1126.6H1244.9V1142.2 M1198.3,1138.5V1105.3H1230.1V1126.6 M1167.2,1115.7V1075.7H1214.2V1105.3 M1133.3,1095.4V1067.2H1190.7V1075.7 M1019.7,1089.9V1052.5H1162.0V1067.2 M952.4,1089.0V1039.3H1090.8V1052.5 M712.7,1003.8V969.5H1021.6V1039.3 M536.1,1006.2V918.8H867.2V969.5" fill="none" stroke="#000" stroke-width="2.3" stroke-linejoin="round"/>
<path d="M457.2,1195.8H415.4V1212.5H457.2 M415.4,1204.2H403.9V1229.2H457.2 M403.9,1216.7H398.7V1245.9H457.2 M457.2,1262.6H362.8V1279.2H457.2 M398.7,1231.3H357.6V1270.9H362.8 M457.2,1295.9H368.4V1312.6H457.2 M357.6,1251.1H341.9V1304.3H368.4 M457.2,1329.3H321.0V1346.0H457.2 M341.9,1277.7H285.5V1337.6H321.0 M457.2,1362.6H306.4V1379.3H457.2 M285.5,1307.6H270.9V1371.0H306.4 M457.2,1396.0H279.6V1412.7H457.2 M279.6,1404.3H235.7V1429.4H457.2 M270.9,1339.3H228.8V1416.8H235.7 M228.8,1378.1H181.8V1446.0H457.2 M181.8,1412.1H89.8V1462.7H457.2 M457.2,1479.4H281.3V1496.1H457.2 M281.3,1487.7H243.0V1512.8H457.2 M243.0,1500.2H229.8V1529.4H457.2 M457.2,1546.1H375.3V1562.8H457.2 M229.8,1514.8H135.8V1554.5H375.3 M89.8,1437.4H4.6V1534.7H135.8" fill="none" stroke="#000" stroke-width="2.3" stroke-linejoin="round"/>
<rect x="474.80" y="1594.4" width="11.16" height="28.6" fill="#f5661c" shape-rendering="crispEdges"/>
<rect x="485.96" y="1594.4" width="11.31" height="28.6" fill="#48a596" shape-rendering="crispEdges"/>
<rect x="497.26" y="1594.4" width="79.15" height="28.6" fill="#f5661c" shape-rendering="crispEdges"/>
<rect x="576.41" y="1594.4" width="11.31" height="28.6" fill="#48a596" shape-rendering="crispEdges"/>
<rect x="587.72" y="1594.4" width="56.53" height="28.6" fill="#c96a22" shape-rendering="crispEdges"/>
<rect x="644.25" y="1594.4" width="11.31" height="28.6" fill="#48a596" shape-rendering="crispEdges"/>
<rect x="655.56" y="1594.4" width="56.53" height="28.6" fill="#f5661c" shape-rendering="crispEdges"/>
<rect x="712.10" y="1594.4" width="33.92" height="28.6" fill="#48a596" shape-rendering="crispEdges"/>
<rect x="746.02" y="1594.4" width="22.61" height="28.6" fill="#f5661c" shape-rendering="crispEdges"/>
<rect x="768.63" y="1594.4" width="11.31" height="28.6" fill="#48a596" shape-rendering="crispEdges"/>
<rect x="779.94" y="1594.4" width="33.92" height="28.6" fill="#f5661c" shape-rendering="crispEdges"/>
<rect x="813.86" y="1594.4" width="11.31" height="28.6" fill="#48a596" shape-rendering="crispEdges"/>
<rect x="825.17" y="1594.4" width="11.31" height="28.6" fill="#f5661c" shape-rendering="crispEdges"/>
<rect x="836.47" y="1594.4" width="56.54" height="28.6" fill="#48a596" shape-rendering="crispEdges"/>
<rect x="893.01" y="1594.4" width="45.23" height="28.6" fill="#f5661c" shape-rendering="crispEdges"/>
<rect x="938.24" y="1594.4" width="56.54" height="28.6" fill="#48a596" shape-rendering="crispEdges"/>
<rect x="994.77" y="1594.4" width="11.31" height="28.6" fill="#f5661c" shape-rendering="crispEdges"/>
<rect x="1006.08" y="1594.4" width="22.61" height="28.6" fill="#48a596" shape-rendering="crispEdges"/>
<rect x="1028.69" y="1594.4" width="11.31" height="28.6" fill="#f5661c" shape-rendering="crispEdges"/>
<rect x="1040.00" y="1594.4" width="237.30" height="28.6" fill="#48a596" shape-rendering="crispEdges"/>
<rect x="615.6" y="1675.6" width="26.6" height="37.7" rx="1.5" fill="#f5661c"/>
<rect x="959.1" y="1675.6" width="26.7" height="37.7" rx="1.5" fill="#48a596"/>
<text x="656.0" y="1705.8" font-size="32" font-weight="bold" text-anchor="start" fill="#000" >Cluster- B/R</text>
<text x="999.5" y="1706.7" font-size="31.8" font-weight="bold" text-anchor="start" fill="#000" >Cluster- P</text>
</svg></body></html>
